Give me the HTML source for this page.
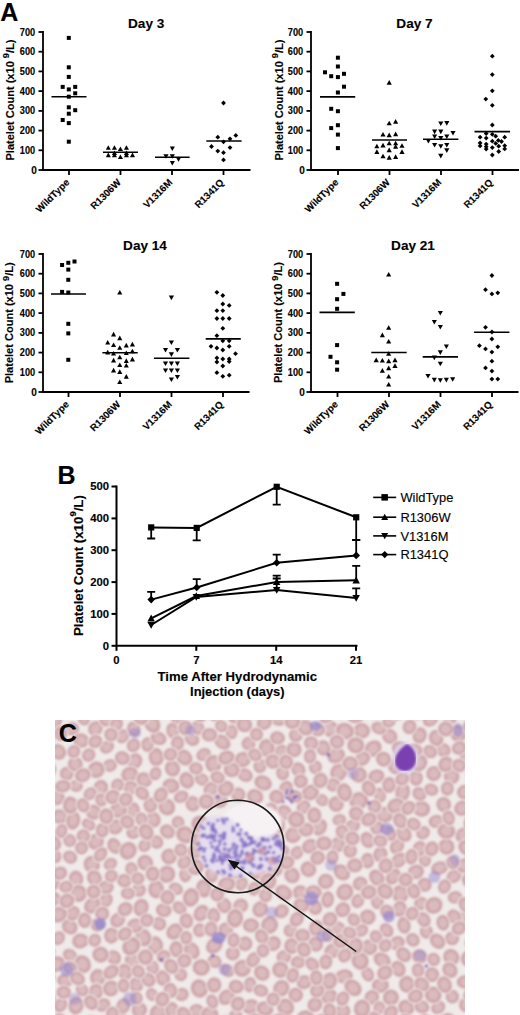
<!DOCTYPE html><html><head><meta charset="utf-8"><style>html,body{margin:0;padding:0;background:#fff;width:520px;height:1015px;overflow:hidden}svg{display:block}</style></head><body>
<svg width="520" height="1015" viewBox="0 0 520 1015" font-family='"Liberation Sans", sans-serif'><style>text{stroke:#000;stroke-width:0.12px;paint-order:stroke}</style>
<rect width="520" height="1015" fill="#fff"/>
<text x="0.3" y="20.8" font-size="25" font-weight="bold">A</text>
<path d="M43 31V170H250.5" fill="none" stroke="#000" stroke-width="1.8"/>
<path d="M38.5 170.0H43" stroke="#000" stroke-width="1.8"/>
<text x="36.8" y="173.6" text-anchor="end" font-size="10" font-weight="bold">0</text>
<path d="M38.5 150.3H43" stroke="#000" stroke-width="1.8"/>
<text x="35.1" y="153.8" text-anchor="end" font-size="10" textLength="15.3" lengthAdjust="spacingAndGlyphs" font-weight="bold">100</text>
<path d="M38.5 130.6H43" stroke="#000" stroke-width="1.8"/>
<text x="35.1" y="134.1" text-anchor="end" font-size="10" textLength="15.3" lengthAdjust="spacingAndGlyphs" font-weight="bold">200</text>
<path d="M38.5 110.9H43" stroke="#000" stroke-width="1.8"/>
<text x="35.1" y="114.4" text-anchor="end" font-size="10" textLength="15.3" lengthAdjust="spacingAndGlyphs" font-weight="bold">300</text>
<path d="M38.5 91.1H43" stroke="#000" stroke-width="1.8"/>
<text x="35.1" y="94.7" text-anchor="end" font-size="10" textLength="15.3" lengthAdjust="spacingAndGlyphs" font-weight="bold">400</text>
<path d="M38.5 71.4H43" stroke="#000" stroke-width="1.8"/>
<text x="35.1" y="75.0" text-anchor="end" font-size="10" textLength="15.3" lengthAdjust="spacingAndGlyphs" font-weight="bold">500</text>
<path d="M38.5 51.7H43" stroke="#000" stroke-width="1.8"/>
<text x="35.1" y="55.3" text-anchor="end" font-size="10" textLength="15.3" lengthAdjust="spacingAndGlyphs" font-weight="bold">600</text>
<path d="M38.5 32.0H43" stroke="#000" stroke-width="1.8"/>
<text x="35.1" y="35.5" text-anchor="end" font-size="10" textLength="15.3" lengthAdjust="spacingAndGlyphs" font-weight="bold">700</text>
<path d="M69 170V175" stroke="#000" stroke-width="1.8"/>
<path d="M120.5 170V175" stroke="#000" stroke-width="1.8"/>
<path d="M172 170V175" stroke="#000" stroke-width="1.8"/>
<path d="M223.5 170V175" stroke="#000" stroke-width="1.8"/>
<text transform="translate(70 183) rotate(-45)" text-anchor="end" font-size="9.8" font-weight="bold">WildType</text>
<text transform="translate(121.5 183) rotate(-45)" text-anchor="end" font-size="9.8" font-weight="bold">R1306W</text>
<text transform="translate(173 183) rotate(-45)" text-anchor="end" font-size="9.8" font-weight="bold">V1316M</text>
<text transform="translate(224.5 183) rotate(-45)" text-anchor="end" font-size="9.8" font-weight="bold">R1341Q</text>
<text transform="translate(13.7 100) rotate(-90)" text-anchor="middle" font-size="10.7" font-weight="bold" textLength="121" lengthAdjust="spacingAndGlyphs">Platelet Count (x10 <tspan dy="-4.6" font-size="9">9</tspan><tspan dy="4.6">/L)</tspan></text>
<text x="146.2" y="28" text-anchor="middle" font-size="13.6" font-weight="bold">Day 3</text>
<rect x="66.8" y="35.9" width="4.0" height="4.0"/>
<rect x="66.8" y="65.3" width="4.0" height="4.0"/>
<rect x="66.8" y="74.9" width="4.0" height="4.0"/>
<rect x="66.8" y="87.4" width="4.0" height="4.0"/>
<rect x="66.8" y="94.7" width="4.0" height="4.0"/>
<rect x="66.8" y="105.3" width="4.0" height="4.0"/>
<rect x="66.8" y="111.7" width="4.0" height="4.0"/>
<rect x="66.8" y="121.1" width="4.0" height="4.0"/>
<rect x="66.8" y="139.7" width="4.0" height="4.0"/>
<rect x="60.7" y="84.9" width="4.0" height="4.0"/>
<rect x="60.7" y="118.0" width="4.0" height="4.0"/>
<rect x="73.2" y="84.9" width="4.0" height="4.0"/>
<rect x="73.2" y="91.3" width="4.0" height="4.0"/>
<rect x="73.2" y="108.2" width="4.0" height="4.0"/>
<path d="M108.3 145.2L110.8 149.8L105.8 149.8Z"/>
<path d="M114.4 145.2L117.0 149.8L111.9 149.8Z"/>
<path d="M120.4 146.4L123.0 151.0L117.9 151.0Z"/>
<path d="M126.4 145.2L129.0 149.8L123.9 149.8Z"/>
<path d="M108.3 152.6L110.8 157.2L105.8 157.2Z"/>
<path d="M114.4 152.6L117.0 157.2L111.9 157.2Z"/>
<path d="M126.4 152.6L129.0 157.2L123.9 157.2Z"/>
<path d="M132.5 152.6L135.1 157.2L129.9 157.2Z"/>
<path d="M120.4 154.4L123.0 159.0L117.9 159.0Z"/>
<path d="M114.4 150.4L117.0 155.0L111.9 155.0Z"/>
<path d="M126.4 150.4L129.0 155.0L123.9 155.0Z"/>
<path d="M172.3 151.1L174.9 146.5L169.8 146.5Z"/>
<path d="M166.0 158.8L168.6 154.2L163.4 154.2Z"/>
<path d="M172.3 158.8L174.9 154.2L169.8 154.2Z"/>
<path d="M178.5 161.8L181.1 157.2L175.9 157.2Z"/>
<path d="M172.3 165.6L174.9 161.0L169.8 161.0Z"/>
<path d="M223.5 100.6L225.9 103.0L223.5 105.4L221.1 103.0Z"/>
<path d="M217.8 134.8L220.2 137.2L217.8 139.6L215.4 137.2Z"/>
<path d="M230.0 136.4L232.4 138.8L230.0 141.2L227.6 138.8Z"/>
<path d="M235.8 133.0L238.2 135.4L235.8 137.8L233.4 135.4Z"/>
<path d="M223.5 139.4L225.9 141.8L223.5 144.2L221.1 141.8Z"/>
<path d="M211.5 144.1L213.9 146.5L211.5 148.9L209.1 146.5Z"/>
<path d="M230.0 145.2L232.4 147.6L230.0 150.0L227.6 147.6Z"/>
<path d="M217.8 148.7L220.2 151.1L217.8 153.5L215.4 151.1Z"/>
<path d="M223.5 150.3L225.9 152.7L223.5 155.1L221.1 152.7Z"/>
<path d="M223.5 157.5L225.9 159.9L223.5 162.3L221.1 159.9Z"/>
<path d="M51.5 96.7H86.5" stroke="#000" stroke-width="1.6"/>
<path d="M103 152.3H138" stroke="#000" stroke-width="1.6"/>
<path d="M155 157.3H189.6" stroke="#000" stroke-width="1.6"/>
<path d="M206.3 141H241.6" stroke="#000" stroke-width="1.6"/>
<path d="M311 31V170H519" fill="none" stroke="#000" stroke-width="1.8"/>
<path d="M306.5 170.0H311" stroke="#000" stroke-width="1.8"/>
<text x="304.8" y="173.6" text-anchor="end" font-size="10" font-weight="bold">0</text>
<path d="M306.5 150.3H311" stroke="#000" stroke-width="1.8"/>
<text x="303.1" y="153.8" text-anchor="end" font-size="10" textLength="15.3" lengthAdjust="spacingAndGlyphs" font-weight="bold">100</text>
<path d="M306.5 130.6H311" stroke="#000" stroke-width="1.8"/>
<text x="303.1" y="134.1" text-anchor="end" font-size="10" textLength="15.3" lengthAdjust="spacingAndGlyphs" font-weight="bold">200</text>
<path d="M306.5 110.9H311" stroke="#000" stroke-width="1.8"/>
<text x="303.1" y="114.4" text-anchor="end" font-size="10" textLength="15.3" lengthAdjust="spacingAndGlyphs" font-weight="bold">300</text>
<path d="M306.5 91.1H311" stroke="#000" stroke-width="1.8"/>
<text x="303.1" y="94.7" text-anchor="end" font-size="10" textLength="15.3" lengthAdjust="spacingAndGlyphs" font-weight="bold">400</text>
<path d="M306.5 71.4H311" stroke="#000" stroke-width="1.8"/>
<text x="303.1" y="75.0" text-anchor="end" font-size="10" textLength="15.3" lengthAdjust="spacingAndGlyphs" font-weight="bold">500</text>
<path d="M306.5 51.7H311" stroke="#000" stroke-width="1.8"/>
<text x="303.1" y="55.3" text-anchor="end" font-size="10" textLength="15.3" lengthAdjust="spacingAndGlyphs" font-weight="bold">600</text>
<path d="M306.5 32.0H311" stroke="#000" stroke-width="1.8"/>
<text x="303.1" y="35.5" text-anchor="end" font-size="10" textLength="15.3" lengthAdjust="spacingAndGlyphs" font-weight="bold">700</text>
<path d="M338 170V175" stroke="#000" stroke-width="1.8"/>
<path d="M389.5 170V175" stroke="#000" stroke-width="1.8"/>
<path d="M441 170V175" stroke="#000" stroke-width="1.8"/>
<path d="M492.5 170V175" stroke="#000" stroke-width="1.8"/>
<text transform="translate(339 183) rotate(-45)" text-anchor="end" font-size="9.8" font-weight="bold">WildType</text>
<text transform="translate(390.5 183) rotate(-45)" text-anchor="end" font-size="9.8" font-weight="bold">R1306W</text>
<text transform="translate(442 183) rotate(-45)" text-anchor="end" font-size="9.8" font-weight="bold">V1316M</text>
<text transform="translate(493.5 183) rotate(-45)" text-anchor="end" font-size="9.8" font-weight="bold">R1341Q</text>
<text transform="translate(282.6 100) rotate(-90)" text-anchor="middle" font-size="10.7" font-weight="bold" textLength="121" lengthAdjust="spacingAndGlyphs">Platelet Count (x10 <tspan dy="-4.6" font-size="9">9</tspan><tspan dy="4.6">/L)</tspan></text>
<text x="414.5" y="28" text-anchor="middle" font-size="13.6" font-weight="bold">Day 7</text>
<rect x="335.9" y="55.7" width="4.0" height="4.0"/>
<rect x="335.9" y="64.5" width="4.0" height="4.0"/>
<rect x="323.0" y="70.3" width="4.0" height="4.0"/>
<rect x="329.2" y="74.2" width="4.0" height="4.0"/>
<rect x="335.9" y="75.1" width="4.0" height="4.0"/>
<rect x="342.0" y="71.8" width="4.0" height="4.0"/>
<rect x="342.0" y="84.7" width="4.0" height="4.0"/>
<rect x="335.9" y="90.5" width="4.0" height="4.0"/>
<rect x="329.2" y="106.8" width="4.0" height="4.0"/>
<rect x="335.9" y="109.2" width="4.0" height="4.0"/>
<rect x="335.9" y="123.2" width="4.0" height="4.0"/>
<rect x="329.2" y="126.1" width="4.0" height="4.0"/>
<rect x="335.9" y="132.6" width="4.0" height="4.0"/>
<rect x="335.9" y="146.1" width="4.0" height="4.0"/>
<path d="M389.2 80.1L391.8 84.7L386.6 84.7Z"/>
<path d="M389.2 120.7L391.8 125.3L386.6 125.3Z"/>
<path d="M395.6 119.1L398.2 123.7L393.1 123.7Z"/>
<path d="M383.0 132.0L385.6 136.6L380.4 136.6Z"/>
<path d="M389.2 132.6L391.8 137.2L386.6 137.2Z"/>
<path d="M395.6 131.6L398.2 136.2L393.1 136.2Z"/>
<path d="M376.9 143.7L379.4 148.3L374.3 148.3Z"/>
<path d="M383.0 142.8L385.6 147.4L380.4 147.4Z"/>
<path d="M389.2 140.7L391.8 145.3L386.6 145.3Z"/>
<path d="M395.6 140.7L398.2 145.3L393.1 145.3Z"/>
<path d="M402.0 143.2L404.6 147.8L399.4 147.8Z"/>
<path d="M376.9 149.3L379.4 153.9L374.3 153.9Z"/>
<path d="M389.2 147.6L391.8 152.2L386.6 152.2Z"/>
<path d="M395.6 144.1L398.2 148.7L393.1 148.7Z"/>
<path d="M402.0 149.3L404.6 153.9L399.4 153.9Z"/>
<path d="M383.0 153.7L385.6 158.3L380.4 158.3Z"/>
<path d="M389.2 155.1L391.8 159.7L386.6 159.7Z"/>
<path d="M395.6 154.3L398.2 158.9L393.1 158.9Z"/>
<path d="M440.8 126.1L443.4 121.5L438.2 121.5Z"/>
<path d="M446.8 125.7L449.4 121.1L444.2 121.1Z"/>
<path d="M434.6 134.2L437.2 129.6L432.1 129.6Z"/>
<path d="M440.8 134.2L443.4 129.6L438.2 129.6Z"/>
<path d="M453.0 135.6L455.6 131.0L450.4 131.0Z"/>
<path d="M434.6 139.1L437.2 134.5L432.1 134.5Z"/>
<path d="M440.8 140.6L443.4 136.0L438.2 136.0Z"/>
<path d="M446.8 139.1L449.4 134.5L444.2 134.5Z"/>
<path d="M428.4 143.5L430.9 138.9L425.8 138.9Z"/>
<path d="M434.6 147.6L437.2 143.0L432.1 143.0Z"/>
<path d="M440.8 148.8L443.4 144.2L438.2 144.2Z"/>
<path d="M446.8 147.6L449.4 143.0L444.2 143.0Z"/>
<path d="M446.8 152.9L449.4 148.3L444.2 148.3Z"/>
<path d="M440.8 158.4L443.4 153.8L438.2 153.8Z"/>
<path d="M492.3 53.8L494.7 56.2L492.3 58.6L489.9 56.2Z"/>
<path d="M492.3 72.2L494.7 74.6L492.3 77.0L489.9 74.6Z"/>
<path d="M492.3 88.4L494.7 90.8L492.3 93.2L489.9 90.8Z"/>
<path d="M485.8 96.7L488.2 99.1L485.8 101.5L483.4 99.1Z"/>
<path d="M492.3 102.9L494.7 105.3L492.3 107.7L489.9 105.3Z"/>
<path d="M492.3 122.6L494.7 125.0L492.3 127.4L489.9 125.0Z"/>
<path d="M486.2 131.1L488.6 133.5L486.2 135.9L483.8 133.5Z"/>
<path d="M492.3 131.9L494.7 134.3L492.3 136.7L489.9 134.3Z"/>
<path d="M480.1 134.8L482.5 137.2L480.1 139.6L477.7 137.2Z"/>
<path d="M486.2 135.7L488.6 138.1L486.2 140.5L483.8 138.1Z"/>
<path d="M495.7 133.8L498.1 136.2L495.7 138.6L493.3 136.2Z"/>
<path d="M504.7 134.8L507.1 137.2L504.7 139.6L502.3 137.2Z"/>
<path d="M492.3 138.8L494.7 141.2L492.3 143.6L489.9 141.2Z"/>
<path d="M498.3 138.0L500.7 140.4L498.3 142.8L495.9 140.4Z"/>
<path d="M501.5 139.1L503.9 141.5L501.5 143.9L499.1 141.5Z"/>
<path d="M480.1 140.6L482.5 143.0L480.1 145.4L477.7 143.0Z"/>
<path d="M480.1 143.5L482.5 145.9L480.1 148.3L477.7 145.9Z"/>
<path d="M486.2 141.7L488.6 144.1L486.2 146.5L483.8 144.1Z"/>
<path d="M486.2 144.3L488.6 146.7L486.2 149.1L483.8 146.7Z"/>
<path d="M486.2 146.7L488.6 149.1L486.2 151.5L483.8 149.1Z"/>
<path d="M495.7 141.0L498.1 143.4L495.7 145.8L493.3 143.4Z"/>
<path d="M492.3 145.2L494.7 147.6L492.3 150.0L489.9 147.6Z"/>
<path d="M498.7 143.8L501.1 146.2L498.7 148.6L496.3 146.2Z"/>
<path d="M504.7 143.3L507.1 145.7L504.7 148.1L502.3 145.7Z"/>
<path d="M504.7 146.5L507.1 148.9L504.7 151.3L502.3 148.9Z"/>
<path d="M498.7 149.1L501.1 151.5L498.7 153.9L496.3 151.5Z"/>
<path d="M492.3 152.6L494.7 155.0L492.3 157.4L489.9 155.0Z"/>
<path d="M320 96.9H355.2" stroke="#000" stroke-width="1.6"/>
<path d="M372 140H407" stroke="#000" stroke-width="1.6"/>
<path d="M423 139.2H458.4" stroke="#000" stroke-width="1.6"/>
<path d="M474.5 131.6H510" stroke="#000" stroke-width="1.6"/>
<path d="M43 253V392H249.5" fill="none" stroke="#000" stroke-width="1.8"/>
<path d="M38.5 392.0H43" stroke="#000" stroke-width="1.8"/>
<text x="36.8" y="395.6" text-anchor="end" font-size="10" font-weight="bold">0</text>
<path d="M38.5 372.3H43" stroke="#000" stroke-width="1.8"/>
<text x="35.1" y="375.8" text-anchor="end" font-size="10" textLength="15.3" lengthAdjust="spacingAndGlyphs" font-weight="bold">100</text>
<path d="M38.5 352.6H43" stroke="#000" stroke-width="1.8"/>
<text x="35.1" y="356.1" text-anchor="end" font-size="10" textLength="15.3" lengthAdjust="spacingAndGlyphs" font-weight="bold">200</text>
<path d="M38.5 332.9H43" stroke="#000" stroke-width="1.8"/>
<text x="35.1" y="336.4" text-anchor="end" font-size="10" textLength="15.3" lengthAdjust="spacingAndGlyphs" font-weight="bold">300</text>
<path d="M38.5 313.1H43" stroke="#000" stroke-width="1.8"/>
<text x="35.1" y="316.7" text-anchor="end" font-size="10" textLength="15.3" lengthAdjust="spacingAndGlyphs" font-weight="bold">400</text>
<path d="M38.5 293.4H43" stroke="#000" stroke-width="1.8"/>
<text x="35.1" y="297.0" text-anchor="end" font-size="10" textLength="15.3" lengthAdjust="spacingAndGlyphs" font-weight="bold">500</text>
<path d="M38.5 273.7H43" stroke="#000" stroke-width="1.8"/>
<text x="35.1" y="277.3" text-anchor="end" font-size="10" textLength="15.3" lengthAdjust="spacingAndGlyphs" font-weight="bold">600</text>
<path d="M38.5 254.0H43" stroke="#000" stroke-width="1.8"/>
<text x="35.1" y="257.6" text-anchor="end" font-size="10" textLength="15.3" lengthAdjust="spacingAndGlyphs" font-weight="bold">700</text>
<path d="M68.5 392V397" stroke="#000" stroke-width="1.8"/>
<path d="M120 392V397" stroke="#000" stroke-width="1.8"/>
<path d="M171.5 392V397" stroke="#000" stroke-width="1.8"/>
<path d="M223 392V397" stroke="#000" stroke-width="1.8"/>
<text transform="translate(69.5 405) rotate(-45)" text-anchor="end" font-size="9.8" font-weight="bold">WildType</text>
<text transform="translate(121 405) rotate(-45)" text-anchor="end" font-size="9.8" font-weight="bold">R1306W</text>
<text transform="translate(172.5 405) rotate(-45)" text-anchor="end" font-size="9.8" font-weight="bold">V1316M</text>
<text transform="translate(224 405) rotate(-45)" text-anchor="end" font-size="9.8" font-weight="bold">R1341Q</text>
<text transform="translate(13.3 322.8) rotate(-90)" text-anchor="middle" font-size="10.7" font-weight="bold" textLength="121" lengthAdjust="spacingAndGlyphs">Platelet Count (x10 <tspan dy="-4.6" font-size="9">9</tspan><tspan dy="4.6">/L)</tspan></text>
<text x="145" y="250" text-anchor="middle" font-size="13.6" font-weight="bold">Day 14</text>
<rect x="72.5" y="259.5" width="4.0" height="4.0"/>
<rect x="66.3" y="260.8" width="4.0" height="4.0"/>
<rect x="60.1" y="263.0" width="4.0" height="4.0"/>
<rect x="66.3" y="267.6" width="4.0" height="4.0"/>
<rect x="66.3" y="277.8" width="4.0" height="4.0"/>
<rect x="60.1" y="289.9" width="4.0" height="4.0"/>
<rect x="66.3" y="290.5" width="4.0" height="4.0"/>
<rect x="66.3" y="321.8" width="4.0" height="4.0"/>
<rect x="66.3" y="331.4" width="4.0" height="4.0"/>
<rect x="66.3" y="357.8" width="4.0" height="4.0"/>
<path d="M119.8 289.9L122.3 294.5L117.2 294.5Z"/>
<path d="M113.6 331.8L116.1 336.4L111.0 336.4Z"/>
<path d="M119.8 335.6L122.3 340.2L117.2 340.2Z"/>
<path d="M107.7 339.9L110.2 344.5L105.2 344.5Z"/>
<path d="M113.6 342.4L116.1 347.0L111.0 347.0Z"/>
<path d="M126.3 342.8L128.8 347.4L123.8 347.4Z"/>
<path d="M132.4 341.8L135.0 346.4L129.8 346.4Z"/>
<path d="M119.8 345.2L122.3 349.8L117.2 349.8Z"/>
<path d="M107.7 349.8L110.2 354.4L105.2 354.4Z"/>
<path d="M113.6 350.9L116.1 355.5L111.0 355.5Z"/>
<path d="M126.3 350.4L128.8 355.0L123.8 355.0Z"/>
<path d="M132.4 348.7L135.0 353.3L129.8 353.3Z"/>
<path d="M113.6 357.8L116.1 362.4L111.0 362.4Z"/>
<path d="M119.8 354.7L122.3 359.3L117.2 359.3Z"/>
<path d="M126.3 358.3L128.8 362.9L123.8 362.9Z"/>
<path d="M132.4 356.8L135.0 361.4L129.8 361.4Z"/>
<path d="M119.8 362.5L122.3 367.1L117.2 367.1Z"/>
<path d="M126.3 362.9L128.8 367.5L123.8 367.5Z"/>
<path d="M113.6 367.8L116.1 372.4L111.0 372.4Z"/>
<path d="M119.8 369.3L122.3 373.9L117.2 373.9Z"/>
<path d="M126.3 374.1L128.8 378.7L123.8 378.7Z"/>
<path d="M119.8 379.4L122.3 384.0L117.2 384.0Z"/>
<path d="M171.4 300.2L174.0 295.6L168.8 295.6Z"/>
<path d="M171.4 345.0L174.0 340.4L168.8 340.4Z"/>
<path d="M165.5 352.6L168.1 348.0L162.9 348.0Z"/>
<path d="M177.4 352.6L180.0 348.0L174.8 348.0Z"/>
<path d="M171.4 356.9L174.0 352.3L168.8 352.3Z"/>
<path d="M165.5 366.0L168.1 361.4L162.9 361.4Z"/>
<path d="M171.4 366.0L174.0 361.4L168.8 361.4Z"/>
<path d="M177.4 366.0L180.0 361.4L174.8 361.4Z"/>
<path d="M165.5 373.1L168.1 368.5L162.9 368.5Z"/>
<path d="M171.4 373.1L174.0 368.5L168.8 368.5Z"/>
<path d="M177.4 373.1L180.0 368.5L174.8 368.5Z"/>
<path d="M177.4 379.6L180.0 375.0L174.8 375.0Z"/>
<path d="M171.4 382.1L174.0 377.5L168.8 377.5Z"/>
<path d="M216.9 289.9L219.3 292.3L216.9 294.7L214.5 292.3Z"/>
<path d="M222.8 293.1L225.2 295.5L222.8 297.9L220.4 295.5Z"/>
<path d="M222.8 301.6L225.2 304.0L222.8 306.4L220.4 304.0Z"/>
<path d="M229.2 303.0L231.6 305.4L229.2 307.8L226.8 305.4Z"/>
<path d="M216.9 308.3L219.3 310.7L216.9 313.1L214.5 310.7Z"/>
<path d="M222.8 308.3L225.2 310.7L222.8 313.1L220.4 310.7Z"/>
<path d="M216.9 316.1L219.3 318.5L216.9 320.9L214.5 318.5Z"/>
<path d="M222.8 316.1L225.2 318.5L222.8 320.9L220.4 318.5Z"/>
<path d="M229.2 316.1L231.6 318.5L229.2 320.9L226.8 318.5Z"/>
<path d="M222.8 325.9L225.2 328.3L222.8 330.7L220.4 328.3Z"/>
<path d="M216.9 333.3L219.3 335.7L216.9 338.1L214.5 335.7Z"/>
<path d="M222.8 338.4L225.2 340.8L222.8 343.2L220.4 340.8Z"/>
<path d="M229.2 338.4L231.6 340.8L229.2 343.2L226.8 340.8Z"/>
<path d="M211.0 343.9L213.4 346.3L211.0 348.7L208.6 346.3Z"/>
<path d="M216.9 345.6L219.3 348.0L216.9 350.4L214.5 348.0Z"/>
<path d="M222.8 347.6L225.2 350.0L222.8 352.4L220.4 350.0Z"/>
<path d="M229.2 343.9L231.6 346.3L229.2 348.7L226.8 346.3Z"/>
<path d="M235.5 351.3L237.9 353.7L235.5 356.1L233.1 353.7Z"/>
<path d="M216.9 355.5L219.3 357.9L216.9 360.3L214.5 357.9Z"/>
<path d="M222.8 356.6L225.2 359.0L222.8 361.4L220.4 359.0Z"/>
<path d="M229.2 356.6L231.6 359.0L229.2 361.4L226.8 359.0Z"/>
<path d="M229.2 359.1L231.6 361.5L229.2 363.9L226.8 361.5Z"/>
<path d="M216.9 359.6L219.3 362.0L216.9 364.4L214.5 362.0Z"/>
<path d="M222.8 363.6L225.2 366.0L222.8 368.4L220.4 366.0Z"/>
<path d="M216.9 370.3L219.3 372.7L216.9 375.1L214.5 372.7Z"/>
<path d="M222.8 373.9L225.2 376.3L222.8 378.7L220.4 376.3Z"/>
<path d="M229.2 372.8L231.6 375.2L229.2 377.6L226.8 375.2Z"/>
<path d="M51 294H86" stroke="#000" stroke-width="1.6"/>
<path d="M102.4 352.8H137.7" stroke="#000" stroke-width="1.6"/>
<path d="M153.9 358.3H189.4" stroke="#000" stroke-width="1.6"/>
<path d="M205.7 338.9H240.8" stroke="#000" stroke-width="1.6"/>
<path d="M311 253V392H518.5" fill="none" stroke="#000" stroke-width="1.8"/>
<path d="M306.5 392.0H311" stroke="#000" stroke-width="1.8"/>
<text x="304.8" y="395.6" text-anchor="end" font-size="10" font-weight="bold">0</text>
<path d="M306.5 372.3H311" stroke="#000" stroke-width="1.8"/>
<text x="303.1" y="375.8" text-anchor="end" font-size="10" textLength="15.3" lengthAdjust="spacingAndGlyphs" font-weight="bold">100</text>
<path d="M306.5 352.6H311" stroke="#000" stroke-width="1.8"/>
<text x="303.1" y="356.1" text-anchor="end" font-size="10" textLength="15.3" lengthAdjust="spacingAndGlyphs" font-weight="bold">200</text>
<path d="M306.5 332.9H311" stroke="#000" stroke-width="1.8"/>
<text x="303.1" y="336.4" text-anchor="end" font-size="10" textLength="15.3" lengthAdjust="spacingAndGlyphs" font-weight="bold">300</text>
<path d="M306.5 313.1H311" stroke="#000" stroke-width="1.8"/>
<text x="303.1" y="316.7" text-anchor="end" font-size="10" textLength="15.3" lengthAdjust="spacingAndGlyphs" font-weight="bold">400</text>
<path d="M306.5 293.4H311" stroke="#000" stroke-width="1.8"/>
<text x="303.1" y="297.0" text-anchor="end" font-size="10" textLength="15.3" lengthAdjust="spacingAndGlyphs" font-weight="bold">500</text>
<path d="M306.5 273.7H311" stroke="#000" stroke-width="1.8"/>
<text x="303.1" y="277.3" text-anchor="end" font-size="10" textLength="15.3" lengthAdjust="spacingAndGlyphs" font-weight="bold">600</text>
<path d="M306.5 254.0H311" stroke="#000" stroke-width="1.8"/>
<text x="303.1" y="257.6" text-anchor="end" font-size="10" textLength="15.3" lengthAdjust="spacingAndGlyphs" font-weight="bold">700</text>
<path d="M337.5 392V397" stroke="#000" stroke-width="1.8"/>
<path d="M389 392V397" stroke="#000" stroke-width="1.8"/>
<path d="M440.5 392V397" stroke="#000" stroke-width="1.8"/>
<path d="M492 392V397" stroke="#000" stroke-width="1.8"/>
<text transform="translate(338.5 405) rotate(-45)" text-anchor="end" font-size="9.8" font-weight="bold">WildType</text>
<text transform="translate(390 405) rotate(-45)" text-anchor="end" font-size="9.8" font-weight="bold">R1306W</text>
<text transform="translate(441.5 405) rotate(-45)" text-anchor="end" font-size="9.8" font-weight="bold">V1316M</text>
<text transform="translate(493 405) rotate(-45)" text-anchor="end" font-size="9.8" font-weight="bold">R1341Q</text>
<text transform="translate(282.3 322.5) rotate(-90)" text-anchor="middle" font-size="10.7" font-weight="bold" textLength="121" lengthAdjust="spacingAndGlyphs">Platelet Count (x10 <tspan dy="-4.6" font-size="9">9</tspan><tspan dy="4.6">/L)</tspan></text>
<text x="413" y="250" text-anchor="middle" font-size="13.6" font-weight="bold">Day 21</text>
<rect x="335.1" y="281.8" width="4.0" height="4.0"/>
<rect x="341.4" y="291.9" width="4.0" height="4.0"/>
<rect x="335.1" y="297.2" width="4.0" height="4.0"/>
<rect x="335.1" y="306.8" width="4.0" height="4.0"/>
<rect x="335.1" y="343.1" width="4.0" height="4.0"/>
<rect x="328.5" y="354.8" width="4.0" height="4.0"/>
<rect x="335.1" y="360.3" width="4.0" height="4.0"/>
<rect x="335.1" y="367.7" width="4.0" height="4.0"/>
<path d="M388.7 271.9L391.2 276.5L386.1 276.5Z"/>
<path d="M388.7 325.2L391.2 329.8L386.1 329.8Z"/>
<path d="M382.4 332.6L384.9 337.2L379.8 337.2Z"/>
<path d="M388.7 338.9L391.2 343.5L386.1 343.5Z"/>
<path d="M388.7 351.2L391.2 355.8L386.1 355.8Z"/>
<path d="M376.2 357.6L378.8 362.2L373.6 362.2Z"/>
<path d="M382.4 358.0L384.9 362.6L379.8 362.6Z"/>
<path d="M388.7 358.6L391.2 363.2L386.1 363.2Z"/>
<path d="M395.0 357.6L397.6 362.2L392.4 362.2Z"/>
<path d="M395.0 363.3L397.6 367.9L392.4 367.9Z"/>
<path d="M382.4 368.1L384.9 372.7L379.8 372.7Z"/>
<path d="M388.7 365.6L391.2 370.2L386.1 370.2Z"/>
<path d="M388.7 373.9L391.2 378.5L386.1 378.5Z"/>
<path d="M388.7 381.9L391.2 386.5L386.1 386.5Z"/>
<path d="M440.3 315.5L442.9 310.9L437.8 310.9Z"/>
<path d="M434.3 324.6L436.9 320.0L431.8 320.0Z"/>
<path d="M440.3 329.5L442.9 324.9L437.8 324.9Z"/>
<path d="M446.4 349.0L448.9 344.4L443.8 344.4Z"/>
<path d="M440.3 354.9L442.9 350.3L437.8 350.3Z"/>
<path d="M434.3 360.2L436.9 355.6L431.8 355.6Z"/>
<path d="M440.3 366.3L442.9 361.7L437.8 361.7Z"/>
<path d="M428.0 378.6L430.6 374.0L425.4 374.0Z"/>
<path d="M434.3 382.4L436.9 377.8L431.8 377.8Z"/>
<path d="M440.3 382.8L442.9 378.2L437.8 378.2Z"/>
<path d="M446.4 382.4L448.9 377.8L443.8 377.8Z"/>
<path d="M452.7 381.8L455.2 377.2L450.1 377.2Z"/>
<path d="M491.9 273.1L494.3 275.5L491.9 277.9L489.5 275.5Z"/>
<path d="M485.5 287.3L487.9 289.7L485.5 292.1L483.1 289.7Z"/>
<path d="M491.9 291.5L494.3 293.9L491.9 296.3L489.5 293.9Z"/>
<path d="M497.8 290.4L500.2 292.8L497.8 295.2L495.4 292.8Z"/>
<path d="M485.5 324.9L487.9 327.3L485.5 329.7L483.1 327.3Z"/>
<path d="M491.9 329.6L494.3 332.0L491.9 334.4L489.5 332.0Z"/>
<path d="M491.9 336.6L494.3 339.0L491.9 341.4L489.5 339.0Z"/>
<path d="M479.4 343.3L481.8 345.7L479.4 348.1L477.0 345.7Z"/>
<path d="M485.5 346.5L487.9 348.9L485.5 351.3L483.1 348.9Z"/>
<path d="M497.8 344.4L500.2 346.8L497.8 349.2L495.4 346.8Z"/>
<path d="M491.9 349.7L494.3 352.1L491.9 354.5L489.5 352.1Z"/>
<path d="M491.9 358.8L494.3 361.2L491.9 363.6L489.5 361.2Z"/>
<path d="M485.5 365.5L487.9 367.9L485.5 370.3L483.1 367.9Z"/>
<path d="M491.9 368.7L494.3 371.1L491.9 373.5L489.5 371.1Z"/>
<path d="M491.9 376.7L494.3 379.1L491.9 381.5L489.5 379.1Z"/>
<path d="M497.8 376.7L500.2 379.1L497.8 381.5L495.4 379.1Z"/>
<path d="M319.5 312.4H354.8" stroke="#000" stroke-width="1.6"/>
<path d="M371.3 352.5H406.7" stroke="#000" stroke-width="1.6"/>
<path d="M422.7 356.9H458" stroke="#000" stroke-width="1.6"/>
<path d="M474.1 332.2H509.4" stroke="#000" stroke-width="1.6"/>
<text x="57.4" y="483.5" font-size="25" font-weight="bold">B</text>
<path d="M116.5 485.5V645.8H357.5" fill="none" stroke="#000" stroke-width="2"/>
<path d="M111.5 645.8H116.5" stroke="#000" stroke-width="2"/>
<text x="109.0" y="649.7" text-anchor="end" font-size="11.3" font-weight="bold">0</text>
<path d="M111.5 613.9H116.5" stroke="#000" stroke-width="2"/>
<text x="109.0" y="617.8" text-anchor="end" font-size="11.3" font-weight="bold">100</text>
<path d="M111.5 582.1H116.5" stroke="#000" stroke-width="2"/>
<text x="109.0" y="586.0" text-anchor="end" font-size="11.3" font-weight="bold">200</text>
<path d="M111.5 550.2H116.5" stroke="#000" stroke-width="2"/>
<text x="109.0" y="554.1" text-anchor="end" font-size="11.3" font-weight="bold">300</text>
<path d="M111.5 518.4H116.5" stroke="#000" stroke-width="2"/>
<text x="109.0" y="522.3" text-anchor="end" font-size="11.3" font-weight="bold">400</text>
<path d="M111.5 486.5H116.5" stroke="#000" stroke-width="2"/>
<text x="109.0" y="490.4" text-anchor="end" font-size="11.3" font-weight="bold">500</text>
<path d="M116.5 645.8V650.8" stroke="#000" stroke-width="2"/>
<text x="116.5" y="663.6" text-anchor="middle" font-size="11.3" font-weight="bold">0</text>
<path d="M196.3 645.8V650.8" stroke="#000" stroke-width="2"/>
<text x="196.3" y="663.6" text-anchor="middle" font-size="11.3" font-weight="bold">7</text>
<path d="M276.2 645.8V650.8" stroke="#000" stroke-width="2"/>
<text x="276.2" y="663.6" text-anchor="middle" font-size="11.3" font-weight="bold">14</text>
<path d="M356.0 645.8V650.8" stroke="#000" stroke-width="2"/>
<text x="356.0" y="663.6" text-anchor="middle" font-size="11.3" font-weight="bold">21</text>
<text transform="translate(82.9 565.6) rotate(-90)" text-anchor="middle" font-size="12.6" font-weight="bold" textLength="141" lengthAdjust="spacingAndGlyphs">Platelet Count (x10<tspan dy="-6.9" font-size="9">9</tspan><tspan dy="6.9">/L)</tspan></text>
<text x="237.3" y="680.5" text-anchor="middle" font-size="12.3" font-weight="bold" textLength="159.5" lengthAdjust="spacingAndGlyphs">Time After Hydrodynamic</text>
<text x="237.3" y="696.3" text-anchor="middle" font-size="12.3" font-weight="bold" textLength="94.5" lengthAdjust="spacingAndGlyphs">Injection (days)</text>
<path d="M151.2 527.4L196.7 527.9L276.7 486.8L356.2 517.3" fill="none" stroke="#000" stroke-width="2"/>
<path d="M151.2 618.3L196.3 596L276.7 582L356.2 580.3" fill="none" stroke="#000" stroke-width="2"/>
<path d="M151.2 625L196.3 597L276.7 590L356.2 598.1" fill="none" stroke="#000" stroke-width="2"/>
<path d="M151.2 599.6L196.7 587.5L276.7 562.8L356.2 555.4" fill="none" stroke="#000" stroke-width="2"/>
<path d="M151.2 527.4V538.5M147.2 538.5H155.2" fill="none" stroke="#000" stroke-width="1.8"/>
<path d="M196.7 527.9V540.4M192.7 540.4H200.7" fill="none" stroke="#000" stroke-width="1.8"/>
<path d="M276.7 486.8V504.6M272.7 504.6H280.7" fill="none" stroke="#000" stroke-width="1.8"/>
<path d="M356.2 517.3V539.9M352.2 539.9H360.2" fill="none" stroke="#000" stroke-width="1.8"/>
<path d="M151.2 599.6V591.9M147.2 591.9H155.2" fill="none" stroke="#000" stroke-width="1.8"/>
<path d="M196.7 587.5V579.2M192.7 579.2H200.7" fill="none" stroke="#000" stroke-width="1.8"/>
<path d="M276.7 562.8V554.7M272.7 554.7H280.7" fill="none" stroke="#000" stroke-width="1.8"/>
<path d="M276.7 582V575.7M272.7 575.7H280.7" fill="none" stroke="#000" stroke-width="1.8"/>
<path d="M356.2 580.3V565.8M352.2 565.8H360.2" fill="none" stroke="#000" stroke-width="1.8"/>
<path d="M356.2 598.1V588.4M352.2 588.4H360.2" fill="none" stroke="#000" stroke-width="1.8"/>
<path d="M276.7 590V578.5M272.7 578.5H280.7" fill="none" stroke="#000" stroke-width="1.8"/>
<path d="M356.2 555.4V540M352.2 540H360.2" fill="none" stroke="#000" stroke-width="1.8"/>
<rect x="148.1" y="524.3" width="6.2" height="6.2"/>
<rect x="193.6" y="524.8" width="6.2" height="6.2"/>
<rect x="273.6" y="483.7" width="6.2" height="6.2"/>
<rect x="353.1" y="514.2" width="6.2" height="6.2"/>
<path d="M151.2 614.6L154.9 621.4L147.4 621.4Z"/>
<path d="M196.3 592.3L200.1 599.1L192.6 599.1Z"/>
<path d="M276.7 578.3L280.4 585.1L272.9 585.1Z"/>
<path d="M356.2 576.6L359.9 583.4L352.4 583.4Z"/>
<path d="M151.2 628.7L154.9 621.9L147.4 621.9Z"/>
<path d="M196.3 600.7L200.1 593.9L192.6 593.9Z"/>
<path d="M276.7 593.7L280.4 586.9L272.9 586.9Z"/>
<path d="M356.2 601.8L359.9 595.0L352.4 595.0Z"/>
<path d="M151.2 595.8L155.0 599.6L151.2 603.4L147.4 599.6Z"/>
<path d="M196.7 583.7L200.5 587.5L196.7 591.3L192.9 587.5Z"/>
<path d="M276.7 559.0L280.5 562.8L276.7 566.6L272.9 562.8Z"/>
<path d="M356.2 551.6L360.0 555.4L356.2 559.2L352.4 555.4Z"/>
<path d="M373.2 497.4H396.2" stroke="#000" stroke-width="1.6"/>
<rect x="381.4" y="494.1" width="6.5" height="6.5"/>
<text x="400.4" y="502.0" font-size="12.9">WildType</text>
<path d="M373.2 517.2H396.2" stroke="#000" stroke-width="1.6"/>
<path d="M384.7 513.8L388.2 520.1L381.2 520.1Z"/>
<text x="400.4" y="521.8" font-size="12.9">R1306W</text>
<path d="M373.2 535.9H396.2" stroke="#000" stroke-width="1.6"/>
<path d="M384.7 539.3L388.2 533.0L381.2 533.0Z"/>
<text x="400.4" y="540.5" font-size="12.9">V1316M</text>
<path d="M373.2 554.6H396.2" stroke="#000" stroke-width="1.6"/>
<path d="M384.7 551.0L388.3 554.6L384.7 558.2L381.1 554.6Z"/>
<text x="400.4" y="559.2" font-size="12.9">R1341Q</text>
<defs><clipPath id="mc"><rect x="55" y="720" width="410" height="295"/></clipPath><filter id="bl" x="0" y="0" width="1" height="1"><feGaussianBlur stdDeviation="0.9"/></filter><filter id="bl2"><feGaussianBlur stdDeviation="1.6"/></filter></defs>
<g clip-path="url(#mc)"><g filter="url(#bl)"><rect x="50" y="715" width="420" height="305" fill="#f0ebea"/>
<g transform="translate(184.2 757.5) rotate(41)"><ellipse rx="9.6" ry="8.1" fill="#d0a8ad" stroke="#ede5e4" stroke-width="1.3"/><ellipse rx="5.3" ry="4.5" fill="#dabbbe"/></g>
<g transform="translate(76.1 878.8) rotate(77)"><ellipse rx="8.9" ry="7.9" fill="#d0a8ad" stroke="#ede5e4" stroke-width="1.3"/><ellipse rx="4.9" ry="4.4" fill="#dabbbe"/></g>
<g transform="translate(231.5 732.0) rotate(86)"><ellipse rx="8.0" ry="6.7" fill="#d0a8ad" stroke="#ede5e4" stroke-width="1.3"/><ellipse rx="4.4" ry="3.7" fill="#dabbbe"/></g>
<g transform="translate(227.5 970.5) rotate(45)"><ellipse rx="7.9" ry="6.8" fill="#d0a8ad" stroke="#ede5e4" stroke-width="1.3"/><ellipse rx="4.4" ry="3.8" fill="#dabbbe"/></g>
<g transform="translate(141.0 907.6) rotate(110)"><ellipse rx="9.6" ry="8.2" fill="#d0a8ad" stroke="#ede5e4" stroke-width="1.3"/><ellipse rx="5.3" ry="4.5" fill="#dabbbe"/></g>
<g transform="translate(293.2 835.0) rotate(139)"><ellipse rx="9.2" ry="8.5" fill="#d0a8ad" stroke="#ede5e4" stroke-width="1.3"/><ellipse rx="5.1" ry="4.7" fill="#dabbbe"/></g>
<g transform="translate(65.0 980.4) rotate(7)"><ellipse rx="8.7" ry="7.2" fill="#d0a8ad" stroke="#ede5e4" stroke-width="1.3"/><ellipse rx="4.8" ry="3.9" fill="#dabbbe"/></g>
<g transform="translate(107.0 747.1) rotate(149)"><ellipse rx="8.1" ry="6.8" fill="#d0a8ad" stroke="#ede5e4" stroke-width="1.3"/><ellipse rx="4.4" ry="3.8" fill="#dabbbe"/></g>
<g transform="translate(395.9 766.9) rotate(21)"><ellipse rx="8.6" ry="8.0" fill="#d0a8ad" stroke="#ede5e4" stroke-width="1.3"/><ellipse rx="4.7" ry="4.4" fill="#dabbbe"/></g>
<g transform="translate(319.7 827.3) rotate(119)"><ellipse rx="9.4" ry="7.6" fill="#d0a8ad" stroke="#ede5e4" stroke-width="1.3"/><ellipse rx="5.2" ry="4.2" fill="#dabbbe"/></g>
<g transform="translate(72.0 728.8) rotate(166)"><ellipse rx="7.9" ry="7.1" fill="#d0a8ad" stroke="#ede5e4" stroke-width="1.3"/><ellipse rx="4.3" ry="3.9" fill="#dabbbe"/></g>
<g transform="translate(337.6 844.7) rotate(115)"><ellipse rx="8.6" ry="8.0" fill="#d0a8ad" stroke="#ede5e4" stroke-width="1.3"/><ellipse rx="4.7" ry="4.4" fill="#dabbbe"/></g>
<g transform="translate(296.8 852.8) rotate(124)"><ellipse rx="7.7" ry="6.8" fill="#d0a8ad" stroke="#ede5e4" stroke-width="1.3"/><ellipse rx="4.2" ry="3.8" fill="#dabbbe"/></g>
<g transform="translate(386.6 930.2) rotate(48)"><ellipse rx="8.3" ry="6.9" fill="#d0a8ad" stroke="#ede5e4" stroke-width="1.3"/><ellipse rx="4.5" ry="3.8" fill="#dabbbe"/></g>
<g transform="translate(292.0 875.4) rotate(53)"><ellipse rx="8.8" ry="8.2" fill="#d0a8ad" stroke="#ede5e4" stroke-width="1.3"/><ellipse rx="4.9" ry="4.5" fill="#dabbbe"/></g>
<g transform="translate(358.7 800.7) rotate(160)"><ellipse rx="10.3" ry="9.3" fill="#d0a8ad" stroke="#ede5e4" stroke-width="1.3"/><ellipse rx="5.7" ry="5.1" fill="#dabbbe"/></g>
<g transform="translate(95.8 841.7) rotate(140)"><ellipse rx="9.1" ry="8.5" fill="#d0a8ad" stroke="#ede5e4" stroke-width="1.3"/><ellipse rx="5.0" ry="4.6" fill="#dabbbe"/></g>
<g transform="translate(110.4 864.0) rotate(149)"><ellipse rx="7.7" ry="6.4" fill="#d0a8ad" stroke="#ede5e4" stroke-width="1.3"/><ellipse rx="4.2" ry="3.5" fill="#dabbbe"/></g>
<g transform="translate(332.3 950.8) rotate(138)"><ellipse rx="9.4" ry="7.7" fill="#d0a8ad" stroke="#ede5e4" stroke-width="1.3"/><ellipse rx="5.2" ry="4.2" fill="#dabbbe"/></g>
<g transform="translate(421.5 808.8) rotate(10)"><ellipse rx="9.5" ry="8.6" fill="#d0a8ad" stroke="#ede5e4" stroke-width="1.3"/><ellipse rx="5.2" ry="4.7" fill="#dabbbe"/></g>
<g transform="translate(300.6 892.7) rotate(26)"><ellipse rx="8.5" ry="8.1" fill="#d0a8ad" stroke="#ede5e4" stroke-width="1.3"/><ellipse rx="4.7" ry="4.5" fill="#dabbbe"/></g>
<g transform="translate(406.2 1007.6) rotate(36)"><ellipse rx="9.0" ry="8.2" fill="#d0a8ad" stroke="#ede5e4" stroke-width="1.3"/><ellipse rx="4.9" ry="4.5" fill="#dabbbe"/></g>
<g transform="translate(330.6 729.1) rotate(63)"><ellipse rx="8.7" ry="8.6" fill="#d0a8ad" stroke="#ede5e4" stroke-width="1.3"/><ellipse rx="4.8" ry="4.7" fill="#dabbbe"/></g>
<g transform="translate(323.3 1022.8) rotate(61)"><ellipse rx="10.0" ry="8.4" fill="#d0a8ad" stroke="#ede5e4" stroke-width="1.3"/><ellipse rx="5.5" ry="4.6" fill="#dabbbe"/></g>
<g transform="translate(167.4 831.5) rotate(39)"><ellipse rx="8.5" ry="7.5" fill="#d0a8ad" stroke="#ede5e4" stroke-width="1.3"/><ellipse rx="4.7" ry="4.1" fill="#dabbbe"/></g>
<g transform="translate(54.7 855.4) rotate(62)"><ellipse rx="8.6" ry="6.7" fill="#d0a8ad" stroke="#ede5e4" stroke-width="1.3"/><ellipse rx="4.7" ry="3.7" fill="#dabbbe"/></g>
<g transform="translate(95.4 728.6) rotate(124)"><ellipse rx="8.5" ry="7.8" fill="#d0a8ad" stroke="#ede5e4" stroke-width="1.3"/><ellipse rx="4.7" ry="4.3" fill="#dabbbe"/></g>
<g transform="translate(100.6 788.0) rotate(115)"><ellipse rx="9.0" ry="8.0" fill="#d0a8ad" stroke="#ede5e4" stroke-width="1.3"/><ellipse rx="5.0" ry="4.4" fill="#dabbbe"/></g>
<g transform="translate(419.7 735.4) rotate(106)"><ellipse rx="8.9" ry="7.7" fill="#d0a8ad" stroke="#ede5e4" stroke-width="1.3"/><ellipse rx="4.9" ry="4.2" fill="#dabbbe"/></g>
<g transform="translate(281.3 988.3) rotate(133)"><ellipse rx="9.2" ry="8.5" fill="#d0a8ad" stroke="#ede5e4" stroke-width="1.3"/><ellipse rx="5.1" ry="4.7" fill="#dabbbe"/></g>
<g transform="translate(199.3 988.5) rotate(66)"><ellipse rx="10.0" ry="9.1" fill="#d0a8ad" stroke="#ede5e4" stroke-width="1.3"/><ellipse rx="5.5" ry="5.0" fill="#dabbbe"/></g>
<g transform="translate(109.9 765.5) rotate(170)"><ellipse rx="7.7" ry="7.0" fill="#d0a8ad" stroke="#ede5e4" stroke-width="1.3"/><ellipse rx="4.2" ry="3.9" fill="#dabbbe"/></g>
<g transform="translate(145.3 862.8) rotate(51)"><ellipse rx="8.8" ry="8.4" fill="#d0a8ad" stroke="#ede5e4" stroke-width="1.3"/><ellipse rx="4.8" ry="4.6" fill="#dabbbe"/></g>
<g transform="translate(158.0 711.3) rotate(135)"><ellipse rx="8.0" ry="7.7" fill="#d0a8ad" stroke="#ede5e4" stroke-width="1.3"/><ellipse rx="4.4" ry="4.3" fill="#dabbbe"/></g>
<g transform="translate(203.8 888.4) rotate(77)"><ellipse rx="9.8" ry="8.2" fill="#d0a8ad" stroke="#ede5e4" stroke-width="1.3"/><ellipse rx="5.4" ry="4.5" fill="#dabbbe"/></g>
<g transform="translate(341.9 872.4) rotate(41)"><ellipse rx="9.6" ry="8.0" fill="#d0a8ad" stroke="#ede5e4" stroke-width="1.3"/><ellipse rx="5.3" ry="4.4" fill="#dabbbe"/></g>
<g transform="translate(380.4 985.5) rotate(174)"><ellipse rx="9.2" ry="7.9" fill="#d0a8ad" stroke="#ede5e4" stroke-width="1.3"/><ellipse rx="5.1" ry="4.4" fill="#dabbbe"/></g>
<g transform="translate(213.7 835.7) rotate(118)"><ellipse rx="7.5" ry="6.5" fill="#d0a8ad" stroke="#ede5e4" stroke-width="1.3"/><ellipse rx="4.1" ry="3.6" fill="#dabbbe"/></g>
<g transform="translate(317.7 729.6) rotate(11)"><ellipse rx="8.4" ry="7.3" fill="#d0a8ad" stroke="#ede5e4" stroke-width="1.3"/><ellipse rx="4.6" ry="4.0" fill="#dabbbe"/></g>
<g transform="translate(134.8 761.1) rotate(125)"><ellipse rx="8.8" ry="8.0" fill="#d0a8ad" stroke="#ede5e4" stroke-width="1.3"/><ellipse rx="4.9" ry="4.4" fill="#dabbbe"/></g>
<g transform="translate(67.6 710.1) rotate(116)"><ellipse rx="8.2" ry="6.6" fill="#d0a8ad" stroke="#ede5e4" stroke-width="1.3"/><ellipse rx="4.5" ry="3.6" fill="#dabbbe"/></g>
<g transform="translate(88.6 824.5) rotate(35)"><ellipse rx="7.8" ry="6.4" fill="#d0a8ad" stroke="#ede5e4" stroke-width="1.3"/><ellipse rx="4.3" ry="3.5" fill="#dabbbe"/></g>
<g transform="translate(421.0 903.4) rotate(175)"><ellipse rx="7.6" ry="7.2" fill="#d0a8ad" stroke="#ede5e4" stroke-width="1.3"/><ellipse rx="4.2" ry="3.9" fill="#dabbbe"/></g>
<g transform="translate(153.5 819.4) rotate(69)"><ellipse rx="8.8" ry="7.7" fill="#d0a8ad" stroke="#ede5e4" stroke-width="1.3"/><ellipse rx="4.9" ry="4.2" fill="#dabbbe"/></g>
<g transform="translate(97.8 977.4) rotate(102)"><ellipse rx="9.0" ry="8.5" fill="#d0a8ad" stroke="#ede5e4" stroke-width="1.3"/><ellipse rx="4.9" ry="4.7" fill="#dabbbe"/></g>
<g transform="translate(245.4 862.4) rotate(35)"><ellipse rx="7.6" ry="7.1" fill="#d0a8ad" stroke="#ede5e4" stroke-width="1.3"/><ellipse rx="4.2" ry="3.9" fill="#dabbbe"/></g>
<g transform="translate(453.9 876.4) rotate(150)"><ellipse rx="8.4" ry="7.1" fill="#d0a8ad" stroke="#ede5e4" stroke-width="1.3"/><ellipse rx="4.6" ry="3.9" fill="#dabbbe"/></g>
<g transform="translate(278.6 718.5) rotate(17)"><ellipse rx="9.1" ry="8.0" fill="#d0a8ad" stroke="#ede5e4" stroke-width="1.3"/><ellipse rx="5.0" ry="4.4" fill="#dabbbe"/></g>
<g transform="translate(465.8 981.9) rotate(177)"><ellipse rx="9.8" ry="7.5" fill="#d0a8ad" stroke="#ede5e4" stroke-width="1.3"/><ellipse rx="5.4" ry="4.1" fill="#dabbbe"/></g>
<g transform="translate(376.9 877.8) rotate(52)"><ellipse rx="9.5" ry="7.8" fill="#d0a8ad" stroke="#ede5e4" stroke-width="1.3"/><ellipse rx="5.2" ry="4.3" fill="#dabbbe"/></g>
<g transform="translate(186.8 780.3) rotate(66)"><ellipse rx="9.2" ry="7.9" fill="#d0a8ad" stroke="#ede5e4" stroke-width="1.3"/><ellipse rx="5.1" ry="4.4" fill="#dabbbe"/></g>
<g transform="translate(396.9 943.1) rotate(151)"><ellipse rx="8.8" ry="7.4" fill="#d0a8ad" stroke="#ede5e4" stroke-width="1.3"/><ellipse rx="4.8" ry="4.0" fill="#dabbbe"/></g>
<g transform="translate(57.0 798.0) rotate(152)"><ellipse rx="8.4" ry="7.8" fill="#d0a8ad" stroke="#ede5e4" stroke-width="1.3"/><ellipse rx="4.6" ry="4.3" fill="#dabbbe"/></g>
<g transform="translate(342.8 1011.3) rotate(160)"><ellipse rx="8.3" ry="8.0" fill="#d0a8ad" stroke="#ede5e4" stroke-width="1.3"/><ellipse rx="4.6" ry="4.4" fill="#dabbbe"/></g>
<g transform="translate(447.9 1021.2) rotate(129)"><ellipse rx="9.0" ry="8.9" fill="#d0a8ad" stroke="#ede5e4" stroke-width="1.3"/><ellipse rx="4.9" ry="4.9" fill="#dabbbe"/></g>
<g transform="translate(201.8 779.4) rotate(27)"><ellipse rx="7.9" ry="6.7" fill="#d0a8ad" stroke="#ede5e4" stroke-width="1.3"/><ellipse rx="4.3" ry="3.7" fill="#dabbbe"/></g>
<g transform="translate(129.6 774.4) rotate(159)"><ellipse rx="9.2" ry="8.2" fill="#d0a8ad" stroke="#ede5e4" stroke-width="1.3"/><ellipse rx="5.0" ry="4.5" fill="#dabbbe"/></g>
<g transform="translate(432.1 974.7) rotate(73)"><ellipse rx="8.1" ry="7.9" fill="#d0a8ad" stroke="#ede5e4" stroke-width="1.3"/><ellipse rx="4.5" ry="4.3" fill="#dabbbe"/></g>
<g transform="translate(325.8 961.9) rotate(104)"><ellipse rx="8.3" ry="7.2" fill="#d0a8ad" stroke="#ede5e4" stroke-width="1.3"/><ellipse rx="4.6" ry="4.0" fill="#dabbbe"/></g>
<g transform="translate(329.1 996.6) rotate(141)"><ellipse rx="9.0" ry="7.6" fill="#d0a8ad" stroke="#ede5e4" stroke-width="1.3"/><ellipse rx="4.9" ry="4.2" fill="#dabbbe"/></g>
<g transform="translate(367.6 860.6) rotate(87)"><ellipse rx="8.5" ry="7.3" fill="#d0a8ad" stroke="#ede5e4" stroke-width="1.3"/><ellipse rx="4.7" ry="4.0" fill="#dabbbe"/></g>
<g transform="translate(384.3 814.7) rotate(175)"><ellipse rx="10.0" ry="8.6" fill="#d0a8ad" stroke="#ede5e4" stroke-width="1.3"/><ellipse rx="5.5" ry="4.8" fill="#dabbbe"/></g>
<g transform="translate(462.8 834.7) rotate(130)"><ellipse rx="9.0" ry="7.2" fill="#d0a8ad" stroke="#ede5e4" stroke-width="1.3"/><ellipse rx="4.9" ry="4.0" fill="#dabbbe"/></g>
<g transform="translate(452.1 938.3) rotate(2)"><ellipse rx="7.8" ry="7.7" fill="#d0a8ad" stroke="#ede5e4" stroke-width="1.3"/><ellipse rx="4.3" ry="4.3" fill="#dabbbe"/></g>
<g transform="translate(466.5 917.0) rotate(171)"><ellipse rx="8.4" ry="7.4" fill="#d0a8ad" stroke="#ede5e4" stroke-width="1.3"/><ellipse rx="4.6" ry="4.1" fill="#dabbbe"/></g>
<g transform="translate(280.9 751.3) rotate(122)"><ellipse rx="7.9" ry="6.3" fill="#d0a8ad" stroke="#ede5e4" stroke-width="1.3"/><ellipse rx="4.3" ry="3.5" fill="#dabbbe"/></g>
<g transform="translate(446.5 846.6) rotate(64)"><ellipse rx="8.9" ry="8.6" fill="#d0a8ad" stroke="#ede5e4" stroke-width="1.3"/><ellipse rx="4.9" ry="4.7" fill="#dabbbe"/></g>
<g transform="translate(171.0 785.8) rotate(9)"><ellipse rx="9.2" ry="8.0" fill="#d0a8ad" stroke="#ede5e4" stroke-width="1.3"/><ellipse rx="5.1" ry="4.4" fill="#dabbbe"/></g>
<g transform="translate(156.5 842.0) rotate(37)"><ellipse rx="7.7" ry="7.2" fill="#d0a8ad" stroke="#ede5e4" stroke-width="1.3"/><ellipse rx="4.2" ry="3.9" fill="#dabbbe"/></g>
<g transform="translate(436.3 821.4) rotate(170)"><ellipse rx="8.5" ry="7.2" fill="#d0a8ad" stroke="#ede5e4" stroke-width="1.3"/><ellipse rx="4.7" ry="4.0" fill="#dabbbe"/></g>
<g transform="translate(295.8 994.9) rotate(137)"><ellipse rx="8.0" ry="7.9" fill="#d0a8ad" stroke="#ede5e4" stroke-width="1.3"/><ellipse rx="4.4" ry="4.3" fill="#dabbbe"/></g>
<g transform="translate(439.6 868.0) rotate(162)"><ellipse rx="9.4" ry="7.2" fill="#d0a8ad" stroke="#ede5e4" stroke-width="1.3"/><ellipse rx="5.1" ry="4.0" fill="#dabbbe"/></g>
<g transform="translate(123.7 711.2) rotate(9)"><ellipse rx="9.3" ry="8.3" fill="#d0a8ad" stroke="#ede5e4" stroke-width="1.3"/><ellipse rx="5.1" ry="4.6" fill="#dabbbe"/></g>
<g transform="translate(284.3 812.7) rotate(57)"><ellipse rx="8.6" ry="8.0" fill="#d0a8ad" stroke="#ede5e4" stroke-width="1.3"/><ellipse rx="4.7" ry="4.4" fill="#dabbbe"/></g>
<g transform="translate(283.8 957.0) rotate(161)"><ellipse rx="8.0" ry="7.5" fill="#d0a8ad" stroke="#ede5e4" stroke-width="1.3"/><ellipse rx="4.4" ry="4.1" fill="#dabbbe"/></g>
<g transform="translate(285.9 788.3) rotate(116)"><ellipse rx="8.5" ry="7.2" fill="#d0a8ad" stroke="#ede5e4" stroke-width="1.3"/><ellipse rx="4.6" ry="3.9" fill="#dabbbe"/></g>
<g transform="translate(371.8 997.4) rotate(133)"><ellipse rx="8.3" ry="7.8" fill="#d0a8ad" stroke="#ede5e4" stroke-width="1.3"/><ellipse rx="4.5" ry="4.3" fill="#dabbbe"/></g>
<g transform="translate(308.4 869.2) rotate(44)"><ellipse rx="8.8" ry="8.4" fill="#d0a8ad" stroke="#ede5e4" stroke-width="1.3"/><ellipse rx="4.9" ry="4.6" fill="#dabbbe"/></g>
<g transform="translate(250.6 1006.6) rotate(156)"><ellipse rx="9.1" ry="7.8" fill="#d0a8ad" stroke="#ede5e4" stroke-width="1.3"/><ellipse rx="5.0" ry="4.3" fill="#dabbbe"/></g>
<g transform="translate(421.9 1006.8) rotate(18)"><ellipse rx="8.2" ry="7.1" fill="#d0a8ad" stroke="#ede5e4" stroke-width="1.3"/><ellipse rx="4.5" ry="3.9" fill="#dabbbe"/></g>
<g transform="translate(285.6 1007.1) rotate(47)"><ellipse rx="9.5" ry="8.9" fill="#d0a8ad" stroke="#ede5e4" stroke-width="1.3"/><ellipse rx="5.2" ry="4.9" fill="#dabbbe"/></g>
<g transform="translate(76.2 785.8) rotate(180)"><ellipse rx="7.4" ry="6.8" fill="#d0a8ad" stroke="#ede5e4" stroke-width="1.3"/><ellipse rx="4.0" ry="3.8" fill="#dabbbe"/></g>
<g transform="translate(111.4 935.6) rotate(100)"><ellipse rx="8.7" ry="8.0" fill="#d0a8ad" stroke="#ede5e4" stroke-width="1.3"/><ellipse rx="4.8" ry="4.4" fill="#dabbbe"/></g>
<g transform="translate(139.4 1010.0) rotate(138)"><ellipse rx="8.5" ry="8.2" fill="#d0a8ad" stroke="#ede5e4" stroke-width="1.3"/><ellipse rx="4.7" ry="4.5" fill="#dabbbe"/></g>
<g transform="translate(254.5 1021.8) rotate(103)"><ellipse rx="9.2" ry="8.2" fill="#d0a8ad" stroke="#ede5e4" stroke-width="1.3"/><ellipse rx="5.1" ry="4.5" fill="#dabbbe"/></g>
<g transform="translate(114.4 845.9) rotate(57)"><ellipse rx="9.0" ry="7.3" fill="#d0a8ad" stroke="#ede5e4" stroke-width="1.3"/><ellipse rx="5.0" ry="4.0" fill="#dabbbe"/></g>
<g transform="translate(355.5 716.1) rotate(179)"><ellipse rx="9.3" ry="7.9" fill="#d0a8ad" stroke="#ede5e4" stroke-width="1.3"/><ellipse rx="5.1" ry="4.4" fill="#dabbbe"/></g>
<g transform="translate(234.4 715.7) rotate(64)"><ellipse rx="8.7" ry="8.0" fill="#d0a8ad" stroke="#ede5e4" stroke-width="1.3"/><ellipse rx="4.8" ry="4.4" fill="#dabbbe"/></g>
<g transform="translate(468.6 958.3) rotate(119)"><ellipse rx="9.1" ry="8.2" fill="#d0a8ad" stroke="#ede5e4" stroke-width="1.3"/><ellipse rx="5.0" ry="4.5" fill="#dabbbe"/></g>
<g transform="translate(90.1 793.7) rotate(136)"><ellipse rx="7.8" ry="6.6" fill="#d0a8ad" stroke="#ede5e4" stroke-width="1.3"/><ellipse rx="4.3" ry="3.6" fill="#dabbbe"/></g>
<g transform="translate(380.0 795.2) rotate(78)"><ellipse rx="8.2" ry="6.6" fill="#d0a8ad" stroke="#ede5e4" stroke-width="1.3"/><ellipse rx="4.5" ry="3.7" fill="#dabbbe"/></g>
<g transform="translate(226.6 997.1) rotate(141)"><ellipse rx="9.6" ry="7.9" fill="#d0a8ad" stroke="#ede5e4" stroke-width="1.3"/><ellipse rx="5.3" ry="4.3" fill="#dabbbe"/></g>
<g transform="translate(156.2 757.1) rotate(86)"><ellipse rx="9.9" ry="8.2" fill="#d0a8ad" stroke="#ede5e4" stroke-width="1.3"/><ellipse rx="5.5" ry="4.5" fill="#dabbbe"/></g>
<g transform="translate(290.4 930.6) rotate(72)"><ellipse rx="7.3" ry="7.5" fill="#d0a8ad" stroke="#ede5e4" stroke-width="1.3"/><ellipse rx="4.0" ry="4.1" fill="#dabbbe"/></g>
<g transform="translate(69.7 926.8) rotate(43)"><ellipse rx="9.0" ry="7.9" fill="#d0a8ad" stroke="#ede5e4" stroke-width="1.3"/><ellipse rx="4.9" ry="4.4" fill="#dabbbe"/></g>
<g transform="translate(76.1 1005.6) rotate(104)"><ellipse rx="9.6" ry="8.2" fill="#d0a8ad" stroke="#ede5e4" stroke-width="1.3"/><ellipse rx="5.3" ry="4.5" fill="#dabbbe"/></g>
<g transform="translate(389.7 736.4) rotate(45)"><ellipse rx="8.7" ry="8.0" fill="#d0a8ad" stroke="#ede5e4" stroke-width="1.3"/><ellipse rx="4.8" ry="4.4" fill="#dabbbe"/></g>
<g transform="translate(147.5 744.5) rotate(99)"><ellipse rx="8.1" ry="6.9" fill="#d0a8ad" stroke="#ede5e4" stroke-width="1.3"/><ellipse rx="4.5" ry="3.8" fill="#dabbbe"/></g>
<g transform="translate(66.7 773.6) rotate(41)"><ellipse rx="7.6" ry="7.5" fill="#d0a8ad" stroke="#ede5e4" stroke-width="1.3"/><ellipse rx="4.2" ry="4.1" fill="#dabbbe"/></g>
<g transform="translate(176.2 949.2) rotate(92)"><ellipse rx="8.8" ry="7.5" fill="#d0a8ad" stroke="#ede5e4" stroke-width="1.3"/><ellipse rx="4.8" ry="4.1" fill="#dabbbe"/></g>
<g transform="translate(260.0 766.0) rotate(100)"><ellipse rx="7.9" ry="7.2" fill="#d0a8ad" stroke="#ede5e4" stroke-width="1.3"/><ellipse rx="4.3" ry="3.9" fill="#dabbbe"/></g>
<g transform="translate(360.2 883.6) rotate(156)"><ellipse rx="8.1" ry="7.7" fill="#d0a8ad" stroke="#ede5e4" stroke-width="1.3"/><ellipse rx="4.5" ry="4.2" fill="#dabbbe"/></g>
<g transform="translate(397.1 846.1) rotate(123)"><ellipse rx="9.2" ry="7.3" fill="#d0a8ad" stroke="#ede5e4" stroke-width="1.3"/><ellipse rx="5.1" ry="4.0" fill="#dabbbe"/></g>
<g transform="translate(403.9 833.8) rotate(49)"><ellipse rx="9.4" ry="7.7" fill="#d0a8ad" stroke="#ede5e4" stroke-width="1.3"/><ellipse rx="5.2" ry="4.3" fill="#dabbbe"/></g>
<g transform="translate(406.7 984.2) rotate(93)"><ellipse rx="9.1" ry="8.3" fill="#d0a8ad" stroke="#ede5e4" stroke-width="1.3"/><ellipse rx="5.0" ry="4.6" fill="#dabbbe"/></g>
<g transform="translate(242.6 759.6) rotate(160)"><ellipse rx="9.0" ry="8.3" fill="#d0a8ad" stroke="#ede5e4" stroke-width="1.3"/><ellipse rx="4.9" ry="4.6" fill="#dabbbe"/></g>
<g transform="translate(158.2 1013.0) rotate(116)"><ellipse rx="9.7" ry="9.0" fill="#d0a8ad" stroke="#ede5e4" stroke-width="1.3"/><ellipse rx="5.3" ry="4.9" fill="#dabbbe"/></g>
<g transform="translate(178.1 822.3) rotate(22)"><ellipse rx="7.1" ry="6.8" fill="#d0a8ad" stroke="#ede5e4" stroke-width="1.3"/><ellipse rx="3.9" ry="3.7" fill="#dabbbe"/></g>
<g transform="translate(209.1 859.5) rotate(54)"><ellipse rx="9.0" ry="7.3" fill="#d0a8ad" stroke="#ede5e4" stroke-width="1.3"/><ellipse rx="4.9" ry="4.0" fill="#dabbbe"/></g>
<g transform="translate(131.4 869.0) rotate(74)"><ellipse rx="7.6" ry="6.8" fill="#d0a8ad" stroke="#ede5e4" stroke-width="1.3"/><ellipse rx="4.2" ry="3.8" fill="#dabbbe"/></g>
<g transform="translate(158.6 738.3) rotate(23)"><ellipse rx="8.9" ry="7.2" fill="#d0a8ad" stroke="#ede5e4" stroke-width="1.3"/><ellipse rx="4.9" ry="3.9" fill="#dabbbe"/></g>
<g transform="translate(367.7 917.1) rotate(8)"><ellipse rx="8.7" ry="8.3" fill="#d0a8ad" stroke="#ede5e4" stroke-width="1.3"/><ellipse rx="4.8" ry="4.6" fill="#dabbbe"/></g>
<g transform="translate(423.0 832.7) rotate(145)"><ellipse rx="7.8" ry="7.2" fill="#d0a8ad" stroke="#ede5e4" stroke-width="1.3"/><ellipse rx="4.3" ry="3.9" fill="#dabbbe"/></g>
<g transform="translate(468.4 757.1) rotate(175)"><ellipse rx="9.4" ry="7.9" fill="#d0a8ad" stroke="#ede5e4" stroke-width="1.3"/><ellipse rx="5.1" ry="4.3" fill="#dabbbe"/></g>
<g transform="translate(261.9 973.0) rotate(43)"><ellipse rx="9.0" ry="8.0" fill="#d0a8ad" stroke="#ede5e4" stroke-width="1.3"/><ellipse rx="5.0" ry="4.4" fill="#dabbbe"/></g>
<g transform="translate(400.4 894.0) rotate(93)"><ellipse rx="9.7" ry="9.0" fill="#d0a8ad" stroke="#ede5e4" stroke-width="1.3"/><ellipse rx="5.3" ry="5.0" fill="#dabbbe"/></g>
<g transform="translate(338.6 928.4) rotate(42)"><ellipse rx="8.7" ry="7.2" fill="#d0a8ad" stroke="#ede5e4" stroke-width="1.3"/><ellipse rx="4.8" ry="4.0" fill="#dabbbe"/></g>
<g transform="translate(58.4 751.9) rotate(53)"><ellipse rx="8.9" ry="8.0" fill="#d0a8ad" stroke="#ede5e4" stroke-width="1.3"/><ellipse rx="4.9" ry="4.4" fill="#dabbbe"/></g>
<g transform="translate(314.9 907.3) rotate(63)"><ellipse rx="8.4" ry="7.8" fill="#d0a8ad" stroke="#ede5e4" stroke-width="1.3"/><ellipse rx="4.6" ry="4.3" fill="#dabbbe"/></g>
<g transform="translate(255.4 711.0) rotate(80)"><ellipse rx="9.0" ry="7.7" fill="#d0a8ad" stroke="#ede5e4" stroke-width="1.3"/><ellipse rx="5.0" ry="4.2" fill="#dabbbe"/></g>
<g transform="translate(358.6 774.6) rotate(18)"><ellipse rx="9.0" ry="8.6" fill="#d0a8ad" stroke="#ede5e4" stroke-width="1.3"/><ellipse rx="5.0" ry="4.7" fill="#dabbbe"/></g>
<g transform="translate(464.6 865.6) rotate(149)"><ellipse rx="8.8" ry="7.9" fill="#d0a8ad" stroke="#ede5e4" stroke-width="1.3"/><ellipse rx="4.9" ry="4.4" fill="#dabbbe"/></g>
<g transform="translate(251.0 925.4) rotate(176)"><ellipse rx="8.8" ry="7.8" fill="#d0a8ad" stroke="#ede5e4" stroke-width="1.3"/><ellipse rx="4.8" ry="4.3" fill="#dabbbe"/></g>
<g transform="translate(175.9 888.8) rotate(27)"><ellipse rx="8.0" ry="6.5" fill="#d0a8ad" stroke="#ede5e4" stroke-width="1.3"/><ellipse rx="4.4" ry="3.6" fill="#dabbbe"/></g>
<g transform="translate(267.1 856.4) rotate(117)"><ellipse rx="8.9" ry="7.1" fill="#d0a8ad" stroke="#ede5e4" stroke-width="1.3"/><ellipse rx="4.9" ry="3.9" fill="#dabbbe"/></g>
<g transform="translate(96.0 991.5) rotate(93)"><ellipse rx="8.5" ry="7.8" fill="#d0a8ad" stroke="#ede5e4" stroke-width="1.3"/><ellipse rx="4.7" ry="4.3" fill="#dabbbe"/></g>
<g transform="translate(465.6 1004.9) rotate(85)"><ellipse rx="7.9" ry="7.2" fill="#d0a8ad" stroke="#ede5e4" stroke-width="1.3"/><ellipse rx="4.4" ry="4.0" fill="#dabbbe"/></g>
<g transform="translate(242.4 968.3) rotate(146)"><ellipse rx="9.5" ry="9.1" fill="#d0a8ad" stroke="#ede5e4" stroke-width="1.3"/><ellipse rx="5.2" ry="5.0" fill="#dabbbe"/></g>
<g transform="translate(238.3 794.6) rotate(59)"><ellipse rx="7.8" ry="7.7" fill="#d0a8ad" stroke="#ede5e4" stroke-width="1.3"/><ellipse rx="4.3" ry="4.2" fill="#dabbbe"/></g>
<g transform="translate(451.6 776.4) rotate(48)"><ellipse rx="8.6" ry="8.5" fill="#d0a8ad" stroke="#ede5e4" stroke-width="1.3"/><ellipse rx="4.7" ry="4.7" fill="#dabbbe"/></g>
<g transform="translate(426.4 931.6) rotate(82)"><ellipse rx="7.8" ry="7.3" fill="#d0a8ad" stroke="#ede5e4" stroke-width="1.3"/><ellipse rx="4.3" ry="4.0" fill="#dabbbe"/></g>
<g transform="translate(46.5 864.9) rotate(27)"><ellipse rx="9.1" ry="7.4" fill="#d0a8ad" stroke="#ede5e4" stroke-width="1.3"/><ellipse rx="5.0" ry="4.0" fill="#dabbbe"/></g>
<g transform="translate(180.9 974.7) rotate(88)"><ellipse rx="7.2" ry="7.0" fill="#d0a8ad" stroke="#ede5e4" stroke-width="1.3"/><ellipse rx="3.9" ry="3.8" fill="#dabbbe"/></g>
<g transform="translate(367.8 974.3) rotate(62)"><ellipse rx="8.1" ry="6.7" fill="#d0a8ad" stroke="#ede5e4" stroke-width="1.3"/><ellipse rx="4.4" ry="3.7" fill="#dabbbe"/></g>
<g transform="translate(474.5 895.6) rotate(22)"><ellipse rx="8.4" ry="8.0" fill="#d0a8ad" stroke="#ede5e4" stroke-width="1.3"/><ellipse rx="4.6" ry="4.4" fill="#dabbbe"/></g>
<g transform="translate(447.3 788.5) rotate(92)"><ellipse rx="7.9" ry="7.1" fill="#d0a8ad" stroke="#ede5e4" stroke-width="1.3"/><ellipse rx="4.4" ry="3.9" fill="#dabbbe"/></g>
<g transform="translate(322.1 800.2) rotate(42)"><ellipse rx="7.2" ry="6.5" fill="#d0a8ad" stroke="#ede5e4" stroke-width="1.3"/><ellipse rx="3.9" ry="3.6" fill="#dabbbe"/></g>
<g transform="translate(443.5 750.1) rotate(27)"><ellipse rx="8.0" ry="7.5" fill="#d0a8ad" stroke="#ede5e4" stroke-width="1.3"/><ellipse rx="4.4" ry="4.1" fill="#dabbbe"/></g>
<g transform="translate(192.8 803.8) rotate(72)"><ellipse rx="8.5" ry="7.9" fill="#d0a8ad" stroke="#ede5e4" stroke-width="1.3"/><ellipse rx="4.7" ry="4.3" fill="#dabbbe"/></g>
<g transform="translate(464.8 792.0) rotate(164)"><ellipse rx="8.5" ry="7.9" fill="#d0a8ad" stroke="#ede5e4" stroke-width="1.3"/><ellipse rx="4.7" ry="4.4" fill="#dabbbe"/></g>
<g transform="translate(192.0 738.7) rotate(42)"><ellipse rx="8.6" ry="7.4" fill="#d0a8ad" stroke="#ede5e4" stroke-width="1.3"/><ellipse rx="4.7" ry="4.1" fill="#dabbbe"/></g>
<g transform="translate(156.1 889.4) rotate(88)"><ellipse rx="9.7" ry="8.6" fill="#d0a8ad" stroke="#ede5e4" stroke-width="1.3"/><ellipse rx="5.3" ry="4.7" fill="#dabbbe"/></g>
<g transform="translate(367.4 840.0) rotate(63)"><ellipse rx="9.1" ry="7.3" fill="#d0a8ad" stroke="#ede5e4" stroke-width="1.3"/><ellipse rx="5.0" ry="4.0" fill="#dabbbe"/></g>
<g transform="translate(416.0 778.0) rotate(88)"><ellipse rx="8.4" ry="7.5" fill="#d0a8ad" stroke="#ede5e4" stroke-width="1.3"/><ellipse rx="4.6" ry="4.1" fill="#dabbbe"/></g>
<g transform="translate(54.4 720.2) rotate(90)"><ellipse rx="8.4" ry="8.5" fill="#d0a8ad" stroke="#ede5e4" stroke-width="1.3"/><ellipse rx="4.6" ry="4.7" fill="#dabbbe"/></g>
<g transform="translate(45.1 833.3) rotate(169)"><ellipse rx="10.0" ry="8.7" fill="#d0a8ad" stroke="#ede5e4" stroke-width="1.3"/><ellipse rx="5.5" ry="4.8" fill="#dabbbe"/></g>
<g transform="translate(269.6 924.9) rotate(112)"><ellipse rx="9.4" ry="9.1" fill="#d0a8ad" stroke="#ede5e4" stroke-width="1.3"/><ellipse rx="5.2" ry="5.0" fill="#dabbbe"/></g>
<g transform="translate(241.6 883.7) rotate(123)"><ellipse rx="7.8" ry="6.5" fill="#d0a8ad" stroke="#ede5e4" stroke-width="1.3"/><ellipse rx="4.3" ry="3.6" fill="#dabbbe"/></g>
<g transform="translate(303.5 713.3) rotate(38)"><ellipse rx="8.9" ry="7.4" fill="#d0a8ad" stroke="#ede5e4" stroke-width="1.3"/><ellipse rx="4.9" ry="4.1" fill="#dabbbe"/></g>
<g transform="translate(425.0 859.7) rotate(90)"><ellipse rx="7.7" ry="6.8" fill="#d0a8ad" stroke="#ede5e4" stroke-width="1.3"/><ellipse rx="4.3" ry="3.7" fill="#dabbbe"/></g>
<g transform="translate(177.2 716.9) rotate(41)"><ellipse rx="8.1" ry="7.4" fill="#d0a8ad" stroke="#ede5e4" stroke-width="1.3"/><ellipse rx="4.5" ry="4.1" fill="#dabbbe"/></g>
<g transform="translate(59.7 816.5) rotate(21)"><ellipse rx="8.6" ry="7.9" fill="#d0a8ad" stroke="#ede5e4" stroke-width="1.3"/><ellipse rx="4.7" ry="4.3" fill="#dabbbe"/></g>
<g transform="translate(338.5 772.4) rotate(112)"><ellipse rx="9.8" ry="8.8" fill="#d0a8ad" stroke="#ede5e4" stroke-width="1.3"/><ellipse rx="5.4" ry="4.9" fill="#dabbbe"/></g>
<g transform="translate(462.0 808.2) rotate(147)"><ellipse rx="8.7" ry="8.1" fill="#d0a8ad" stroke="#ede5e4" stroke-width="1.3"/><ellipse rx="4.8" ry="4.5" fill="#dabbbe"/></g>
<g transform="translate(144.2 779.8) rotate(32)"><ellipse rx="8.8" ry="7.8" fill="#d0a8ad" stroke="#ede5e4" stroke-width="1.3"/><ellipse rx="4.9" ry="4.3" fill="#dabbbe"/></g>
<g transform="translate(171.8 1009.9) rotate(96)"><ellipse rx="8.5" ry="7.2" fill="#d0a8ad" stroke="#ede5e4" stroke-width="1.3"/><ellipse rx="4.7" ry="3.9" fill="#dabbbe"/></g>
<g transform="translate(360.1 1024.2) rotate(68)"><ellipse rx="9.5" ry="8.2" fill="#d0a8ad" stroke="#ede5e4" stroke-width="1.3"/><ellipse rx="5.2" ry="4.5" fill="#dabbbe"/></g>
<g transform="translate(196.1 1011.0) rotate(151)"><ellipse rx="8.3" ry="7.4" fill="#d0a8ad" stroke="#ede5e4" stroke-width="1.3"/><ellipse rx="4.6" ry="4.1" fill="#dabbbe"/></g>
<g transform="translate(398.3 968.9) rotate(59)"><ellipse rx="9.0" ry="7.7" fill="#d0a8ad" stroke="#ede5e4" stroke-width="1.3"/><ellipse rx="5.0" ry="4.2" fill="#dabbbe"/></g>
<g transform="translate(430.7 719.5) rotate(143)"><ellipse rx="9.1" ry="7.2" fill="#d0a8ad" stroke="#ede5e4" stroke-width="1.3"/><ellipse rx="5.0" ry="4.0" fill="#dabbbe"/></g>
<g transform="translate(155.5 945.4) rotate(82)"><ellipse rx="9.8" ry="8.3" fill="#d0a8ad" stroke="#ede5e4" stroke-width="1.3"/><ellipse rx="5.4" ry="4.6" fill="#dabbbe"/></g>
<g transform="translate(310.3 792.6) rotate(154)"><ellipse rx="9.4" ry="8.4" fill="#d0a8ad" stroke="#ede5e4" stroke-width="1.3"/><ellipse rx="5.2" ry="4.6" fill="#dabbbe"/></g>
<g transform="translate(181.1 796.8) rotate(155)"><ellipse rx="8.3" ry="6.5" fill="#d0a8ad" stroke="#ede5e4" stroke-width="1.3"/><ellipse rx="4.6" ry="3.5" fill="#dabbbe"/></g>
<g transform="translate(450.6 717.6) rotate(135)"><ellipse rx="8.5" ry="7.1" fill="#d0a8ad" stroke="#ede5e4" stroke-width="1.3"/><ellipse rx="4.7" ry="3.9" fill="#dabbbe"/></g>
<g transform="translate(211.2 789.1) rotate(137)"><ellipse rx="9.0" ry="7.5" fill="#d0a8ad" stroke="#ede5e4" stroke-width="1.3"/><ellipse rx="5.0" ry="4.1" fill="#dabbbe"/></g>
<g transform="translate(377.3 901.3) rotate(87)"><ellipse rx="8.6" ry="7.0" fill="#d0a8ad" stroke="#ede5e4" stroke-width="1.3"/><ellipse rx="4.7" ry="3.9" fill="#dabbbe"/></g>
<g transform="translate(424.9 1021.2) rotate(92)"><ellipse rx="7.6" ry="7.7" fill="#d0a8ad" stroke="#ede5e4" stroke-width="1.3"/><ellipse rx="4.2" ry="4.2" fill="#dabbbe"/></g>
<g transform="translate(81.2 740.4) rotate(15)"><ellipse rx="8.7" ry="7.7" fill="#d0a8ad" stroke="#ede5e4" stroke-width="1.3"/><ellipse rx="4.8" ry="4.2" fill="#dabbbe"/></g>
<g transform="translate(350.2 850.8) rotate(80)"><ellipse rx="7.6" ry="7.5" fill="#d0a8ad" stroke="#ede5e4" stroke-width="1.3"/><ellipse rx="4.2" ry="4.2" fill="#dabbbe"/></g>
<g transform="translate(224.2 905.4) rotate(65)"><ellipse rx="8.5" ry="7.8" fill="#d0a8ad" stroke="#ede5e4" stroke-width="1.3"/><ellipse rx="4.7" ry="4.3" fill="#dabbbe"/></g>
<g transform="translate(130.7 787.9) rotate(3)"><ellipse rx="8.0" ry="7.6" fill="#d0a8ad" stroke="#ede5e4" stroke-width="1.3"/><ellipse rx="4.4" ry="4.2" fill="#dabbbe"/></g>
<g transform="translate(110.9 988.5) rotate(133)"><ellipse rx="8.9" ry="8.5" fill="#d0a8ad" stroke="#ede5e4" stroke-width="1.3"/><ellipse rx="4.9" ry="4.7" fill="#dabbbe"/></g>
<g transform="translate(185.3 834.8) rotate(25)"><ellipse rx="10.1" ry="9.0" fill="#d0a8ad" stroke="#ede5e4" stroke-width="1.3"/><ellipse rx="5.5" ry="4.9" fill="#dabbbe"/></g>
<g transform="translate(263.1 782.9) rotate(25)"><ellipse rx="9.7" ry="8.0" fill="#d0a8ad" stroke="#ede5e4" stroke-width="1.3"/><ellipse rx="5.3" ry="4.4" fill="#dabbbe"/></g>
<g transform="translate(96.3 769.7) rotate(36)"><ellipse rx="9.0" ry="9.1" fill="#d0a8ad" stroke="#ede5e4" stroke-width="1.3"/><ellipse rx="5.0" ry="5.0" fill="#dabbbe"/></g>
<g transform="translate(379.4 1007.9) rotate(102)"><ellipse rx="7.2" ry="6.7" fill="#d0a8ad" stroke="#ede5e4" stroke-width="1.3"/><ellipse rx="4.0" ry="3.7" fill="#dabbbe"/></g>
<g transform="translate(301.3 905.3) rotate(15)"><ellipse rx="8.7" ry="7.3" fill="#d0a8ad" stroke="#ede5e4" stroke-width="1.3"/><ellipse rx="4.8" ry="4.0" fill="#dabbbe"/></g>
<g transform="translate(203.5 754.5) rotate(148)"><ellipse rx="8.3" ry="6.7" fill="#d0a8ad" stroke="#ede5e4" stroke-width="1.3"/><ellipse rx="4.5" ry="3.7" fill="#dabbbe"/></g>
<g transform="translate(132.5 960.5) rotate(17)"><ellipse rx="8.5" ry="7.4" fill="#d0a8ad" stroke="#ede5e4" stroke-width="1.3"/><ellipse rx="4.7" ry="4.1" fill="#dabbbe"/></g>
<g transform="translate(281.6 911.3) rotate(147)"><ellipse rx="8.2" ry="7.3" fill="#d0a8ad" stroke="#ede5e4" stroke-width="1.3"/><ellipse rx="4.5" ry="4.0" fill="#dabbbe"/></g>
<g transform="translate(166.8 806.9) rotate(50)"><ellipse rx="9.5" ry="8.8" fill="#d0a8ad" stroke="#ede5e4" stroke-width="1.3"/><ellipse rx="5.2" ry="4.9" fill="#dabbbe"/></g>
<g transform="translate(51.4 883.7) rotate(172)"><ellipse rx="9.3" ry="7.8" fill="#d0a8ad" stroke="#ede5e4" stroke-width="1.3"/><ellipse rx="5.1" ry="4.3" fill="#dabbbe"/></g>
<g transform="translate(436.2 738.0) rotate(76)"><ellipse rx="9.0" ry="7.9" fill="#d0a8ad" stroke="#ede5e4" stroke-width="1.3"/><ellipse rx="4.9" ry="4.3" fill="#dabbbe"/></g>
<g transform="translate(166.8 874.2) rotate(117)"><ellipse rx="9.3" ry="9.1" fill="#d0a8ad" stroke="#ede5e4" stroke-width="1.3"/><ellipse rx="5.1" ry="5.0" fill="#dabbbe"/></g>
<g transform="translate(91.8 864.5) rotate(63)"><ellipse rx="9.4" ry="8.7" fill="#d0a8ad" stroke="#ede5e4" stroke-width="1.3"/><ellipse rx="5.2" ry="4.8" fill="#dabbbe"/></g>
<g transform="translate(433.8 905.4) rotate(153)"><ellipse rx="9.6" ry="8.9" fill="#d0a8ad" stroke="#ede5e4" stroke-width="1.3"/><ellipse rx="5.3" ry="4.9" fill="#dabbbe"/></g>
<g transform="translate(113.9 957.5) rotate(48)"><ellipse rx="8.4" ry="7.5" fill="#d0a8ad" stroke="#ede5e4" stroke-width="1.3"/><ellipse rx="4.6" ry="4.1" fill="#dabbbe"/></g>
<g transform="translate(380.4 854.4) rotate(105)"><ellipse rx="8.6" ry="7.7" fill="#d0a8ad" stroke="#ede5e4" stroke-width="1.3"/><ellipse rx="4.7" ry="4.2" fill="#dabbbe"/></g>
<g transform="translate(248.5 743.7) rotate(103)"><ellipse rx="7.5" ry="7.6" fill="#d0a8ad" stroke="#ede5e4" stroke-width="1.3"/><ellipse rx="4.1" ry="4.2" fill="#dabbbe"/></g>
<g transform="translate(264.4 722.8) rotate(140)"><ellipse rx="8.7" ry="7.6" fill="#d0a8ad" stroke="#ede5e4" stroke-width="1.3"/><ellipse rx="4.8" ry="4.2" fill="#dabbbe"/></g>
<g transform="translate(80.4 941.0) rotate(171)"><ellipse rx="9.0" ry="8.2" fill="#d0a8ad" stroke="#ede5e4" stroke-width="1.3"/><ellipse rx="5.0" ry="4.5" fill="#dabbbe"/></g>
<g transform="translate(73.2 820.5) rotate(104)"><ellipse rx="10.0" ry="7.6" fill="#d0a8ad" stroke="#ede5e4" stroke-width="1.3"/><ellipse rx="5.5" ry="4.2" fill="#dabbbe"/></g>
<g transform="translate(283.7 892.7) rotate(34)"><ellipse rx="9.7" ry="7.9" fill="#d0a8ad" stroke="#ede5e4" stroke-width="1.3"/><ellipse rx="5.3" ry="4.4" fill="#dabbbe"/></g>
<g transform="translate(90.0 1022.8) rotate(151)"><ellipse rx="8.7" ry="7.6" fill="#d0a8ad" stroke="#ede5e4" stroke-width="1.3"/><ellipse rx="4.8" ry="4.2" fill="#dabbbe"/></g>
<g transform="translate(214.5 961.3) rotate(27)"><ellipse rx="7.9" ry="7.1" fill="#d0a8ad" stroke="#ede5e4" stroke-width="1.3"/><ellipse rx="4.3" ry="3.9" fill="#dabbbe"/></g>
<g transform="translate(296.9 919.1) rotate(126)"><ellipse rx="8.9" ry="7.2" fill="#d0a8ad" stroke="#ede5e4" stroke-width="1.3"/><ellipse rx="4.9" ry="4.0" fill="#dabbbe"/></g>
<g transform="translate(309.9 846.2) rotate(153)"><ellipse rx="9.0" ry="7.7" fill="#d0a8ad" stroke="#ede5e4" stroke-width="1.3"/><ellipse rx="4.9" ry="4.3" fill="#dabbbe"/></g>
<g transform="translate(430.1 751.6) rotate(32)"><ellipse rx="8.0" ry="7.0" fill="#d0a8ad" stroke="#ede5e4" stroke-width="1.3"/><ellipse rx="4.4" ry="3.8" fill="#dabbbe"/></g>
<g transform="translate(325.8 717.0) rotate(154)"><ellipse rx="7.7" ry="7.1" fill="#d0a8ad" stroke="#ede5e4" stroke-width="1.3"/><ellipse rx="4.3" ry="3.9" fill="#dabbbe"/></g>
<g transform="translate(102.9 1005.0) rotate(151)"><ellipse rx="8.5" ry="6.9" fill="#d0a8ad" stroke="#ede5e4" stroke-width="1.3"/><ellipse rx="4.7" ry="3.8" fill="#dabbbe"/></g>
<g transform="translate(419.7 956.4) rotate(15)"><ellipse rx="8.6" ry="7.6" fill="#d0a8ad" stroke="#ede5e4" stroke-width="1.3"/><ellipse rx="4.8" ry="4.2" fill="#dabbbe"/></g>
<g transform="translate(151.9 994.6) rotate(62)"><ellipse rx="7.3" ry="6.5" fill="#d0a8ad" stroke="#ede5e4" stroke-width="1.3"/><ellipse rx="4.0" ry="3.6" fill="#dabbbe"/></g>
<g transform="translate(273.6 837.9) rotate(35)"><ellipse rx="7.7" ry="7.5" fill="#d0a8ad" stroke="#ede5e4" stroke-width="1.3"/><ellipse rx="4.2" ry="4.1" fill="#dabbbe"/></g>
<g transform="translate(70.1 955.3) rotate(36)"><ellipse rx="8.2" ry="6.8" fill="#d0a8ad" stroke="#ede5e4" stroke-width="1.3"/><ellipse rx="4.5" ry="3.7" fill="#dabbbe"/></g>
<g transform="translate(47.7 976.0) rotate(88)"><ellipse rx="10.0" ry="8.0" fill="#d0a8ad" stroke="#ede5e4" stroke-width="1.3"/><ellipse rx="5.5" ry="4.4" fill="#dabbbe"/></g>
<g transform="translate(245.1 943.7) rotate(162)"><ellipse rx="8.1" ry="8.0" fill="#d0a8ad" stroke="#ede5e4" stroke-width="1.3"/><ellipse rx="4.5" ry="4.4" fill="#dabbbe"/></g>
<g transform="translate(343.9 976.3) rotate(170)"><ellipse rx="9.8" ry="7.6" fill="#d0a8ad" stroke="#ede5e4" stroke-width="1.3"/><ellipse rx="5.4" ry="4.2" fill="#dabbbe"/></g>
<g transform="translate(316.2 928.2) rotate(101)"><ellipse rx="9.0" ry="7.8" fill="#d0a8ad" stroke="#ede5e4" stroke-width="1.3"/><ellipse rx="4.9" ry="4.3" fill="#dabbbe"/></g>
<g transform="translate(90.9 1002.6) rotate(57)"><ellipse rx="8.6" ry="7.1" fill="#d0a8ad" stroke="#ede5e4" stroke-width="1.3"/><ellipse rx="4.7" ry="3.9" fill="#dabbbe"/></g>
<g transform="translate(106.0 719.1) rotate(106)"><ellipse rx="8.1" ry="7.1" fill="#d0a8ad" stroke="#ede5e4" stroke-width="1.3"/><ellipse rx="4.4" ry="3.9" fill="#dabbbe"/></g>
<g transform="translate(342.8 909.7) rotate(140)"><ellipse rx="8.5" ry="7.8" fill="#d0a8ad" stroke="#ede5e4" stroke-width="1.3"/><ellipse rx="4.7" ry="4.3" fill="#dabbbe"/></g>
<g transform="translate(361.8 730.7) rotate(15)"><ellipse rx="9.0" ry="8.3" fill="#d0a8ad" stroke="#ede5e4" stroke-width="1.3"/><ellipse rx="4.9" ry="4.6" fill="#dabbbe"/></g>
<g transform="translate(201.3 967.5) rotate(9)"><ellipse rx="9.4" ry="9.0" fill="#d0a8ad" stroke="#ede5e4" stroke-width="1.3"/><ellipse rx="5.2" ry="5.0" fill="#dabbbe"/></g>
<g transform="translate(438.2 1007.5) rotate(148)"><ellipse rx="8.0" ry="6.9" fill="#d0a8ad" stroke="#ede5e4" stroke-width="1.3"/><ellipse rx="4.4" ry="3.8" fill="#dabbbe"/></g>
<g transform="translate(133.5 745.3) rotate(129)"><ellipse rx="7.8" ry="7.2" fill="#d0a8ad" stroke="#ede5e4" stroke-width="1.3"/><ellipse rx="4.3" ry="4.0" fill="#dabbbe"/></g>
<g transform="translate(399.8 908.9) rotate(100)"><ellipse rx="8.7" ry="7.7" fill="#d0a8ad" stroke="#ede5e4" stroke-width="1.3"/><ellipse rx="4.8" ry="4.2" fill="#dabbbe"/></g>
<g transform="translate(133.1 810.5) rotate(82)"><ellipse rx="9.1" ry="7.6" fill="#d0a8ad" stroke="#ede5e4" stroke-width="1.3"/><ellipse rx="5.0" ry="4.2" fill="#dabbbe"/></g>
<g transform="translate(352.8 825.9) rotate(157)"><ellipse rx="8.2" ry="7.1" fill="#d0a8ad" stroke="#ede5e4" stroke-width="1.3"/><ellipse rx="4.5" ry="3.9" fill="#dabbbe"/></g>
<g transform="translate(232.7 953.5) rotate(160)"><ellipse rx="7.8" ry="7.6" fill="#d0a8ad" stroke="#ede5e4" stroke-width="1.3"/><ellipse rx="4.3" ry="4.2" fill="#dabbbe"/></g>
<g transform="translate(372.7 1018.0) rotate(157)"><ellipse rx="7.9" ry="7.0" fill="#d0a8ad" stroke="#ede5e4" stroke-width="1.3"/><ellipse rx="4.3" ry="3.8" fill="#dabbbe"/></g>
<g transform="translate(402.7 792.1) rotate(101)"><ellipse rx="10.4" ry="7.9" fill="#d0a8ad" stroke="#ede5e4" stroke-width="1.3"/><ellipse rx="5.7" ry="4.4" fill="#dabbbe"/></g>
<g transform="translate(82.1 989.9) rotate(43)"><ellipse rx="7.5" ry="6.5" fill="#d0a8ad" stroke="#ede5e4" stroke-width="1.3"/><ellipse rx="4.1" ry="3.6" fill="#dabbbe"/></g>
<g transform="translate(369.4 947.2) rotate(125)"><ellipse rx="8.3" ry="8.7" fill="#d0a8ad" stroke="#ede5e4" stroke-width="1.3"/><ellipse rx="4.6" ry="4.8" fill="#dabbbe"/></g>
<g transform="translate(294.0 749.7) rotate(82)"><ellipse rx="8.3" ry="8.3" fill="#d0a8ad" stroke="#ede5e4" stroke-width="1.3"/><ellipse rx="4.6" ry="4.5" fill="#dabbbe"/></g>
<g transform="translate(174.6 931.5) rotate(138)"><ellipse rx="9.6" ry="8.1" fill="#d0a8ad" stroke="#ede5e4" stroke-width="1.3"/><ellipse rx="5.3" ry="4.4" fill="#dabbbe"/></g>
<g transform="translate(185.4 874.5) rotate(92)"><ellipse rx="8.6" ry="6.8" fill="#d0a8ad" stroke="#ede5e4" stroke-width="1.3"/><ellipse rx="4.7" ry="3.7" fill="#dabbbe"/></g>
<g transform="translate(133.8 832.3) rotate(163)"><ellipse rx="8.3" ry="7.1" fill="#d0a8ad" stroke="#ede5e4" stroke-width="1.3"/><ellipse rx="4.5" ry="3.9" fill="#dabbbe"/></g>
<g transform="translate(260.2 909.2) rotate(123)"><ellipse rx="9.1" ry="8.2" fill="#d0a8ad" stroke="#ede5e4" stroke-width="1.3"/><ellipse rx="5.0" ry="4.5" fill="#dabbbe"/></g>
<g transform="translate(106.0 900.2) rotate(125)"><ellipse rx="8.2" ry="7.1" fill="#d0a8ad" stroke="#ede5e4" stroke-width="1.3"/><ellipse rx="4.5" ry="3.9" fill="#dabbbe"/></g>
<g transform="translate(291.8 946.0) rotate(73)"><ellipse rx="8.6" ry="8.2" fill="#d0a8ad" stroke="#ede5e4" stroke-width="1.3"/><ellipse rx="4.7" ry="4.5" fill="#dabbbe"/></g>
<g transform="translate(143.3 937.5) rotate(64)"><ellipse rx="9.7" ry="8.7" fill="#d0a8ad" stroke="#ede5e4" stroke-width="1.3"/><ellipse rx="5.4" ry="4.8" fill="#dabbbe"/></g>
<g transform="translate(179.6 907.9) rotate(36)"><ellipse rx="8.2" ry="6.7" fill="#d0a8ad" stroke="#ede5e4" stroke-width="1.3"/><ellipse rx="4.5" ry="3.7" fill="#dabbbe"/></g>
<g transform="translate(240.7 905.8) rotate(165)"><ellipse rx="8.1" ry="7.8" fill="#d0a8ad" stroke="#ede5e4" stroke-width="1.3"/><ellipse rx="4.5" ry="4.3" fill="#dabbbe"/></g>
<g transform="translate(135.3 925.6) rotate(173)"><ellipse rx="8.9" ry="7.8" fill="#d0a8ad" stroke="#ede5e4" stroke-width="1.3"/><ellipse rx="4.9" ry="4.3" fill="#dabbbe"/></g>
<g transform="translate(373.0 748.6) rotate(139)"><ellipse rx="10.0" ry="8.4" fill="#d0a8ad" stroke="#ede5e4" stroke-width="1.3"/><ellipse rx="5.5" ry="4.6" fill="#dabbbe"/></g>
<g transform="translate(197.9 727.8) rotate(66)"><ellipse rx="7.8" ry="7.1" fill="#d0a8ad" stroke="#ede5e4" stroke-width="1.3"/><ellipse rx="4.3" ry="3.9" fill="#dabbbe"/></g>
<g transform="translate(216.9 714.2) rotate(150)"><ellipse rx="9.1" ry="7.5" fill="#d0a8ad" stroke="#ede5e4" stroke-width="1.3"/><ellipse rx="5.0" ry="4.1" fill="#dabbbe"/></g>
<g transform="translate(225.8 929.9) rotate(81)"><ellipse rx="8.2" ry="8.0" fill="#d0a8ad" stroke="#ede5e4" stroke-width="1.3"/><ellipse rx="4.5" ry="4.4" fill="#dabbbe"/></g>
<g transform="translate(389.6 833.5) rotate(56)"><ellipse rx="8.5" ry="6.9" fill="#d0a8ad" stroke="#ede5e4" stroke-width="1.3"/><ellipse rx="4.7" ry="3.8" fill="#dabbbe"/></g>
<g transform="translate(100.6 954.6) rotate(23)"><ellipse rx="8.9" ry="8.6" fill="#d0a8ad" stroke="#ede5e4" stroke-width="1.3"/><ellipse rx="4.9" ry="4.7" fill="#dabbbe"/></g>
<g transform="translate(317.7 857.8) rotate(151)"><ellipse rx="8.1" ry="7.5" fill="#d0a8ad" stroke="#ede5e4" stroke-width="1.3"/><ellipse rx="4.5" ry="4.1" fill="#dabbbe"/></g>
<g transform="translate(46.2 937.4) rotate(14)"><ellipse rx="8.1" ry="7.2" fill="#d0a8ad" stroke="#ede5e4" stroke-width="1.3"/><ellipse rx="4.5" ry="3.9" fill="#dabbbe"/></g>
<g transform="translate(150.3 805.1) rotate(88)"><ellipse rx="8.3" ry="7.5" fill="#d0a8ad" stroke="#ede5e4" stroke-width="1.3"/><ellipse rx="4.6" ry="4.1" fill="#dabbbe"/></g>
<g transform="translate(454.3 916.6) rotate(49)"><ellipse rx="8.3" ry="7.3" fill="#d0a8ad" stroke="#ede5e4" stroke-width="1.3"/><ellipse rx="4.6" ry="4.0" fill="#dabbbe"/></g>
<g transform="translate(88.7 755.0) rotate(139)"><ellipse rx="7.7" ry="7.1" fill="#d0a8ad" stroke="#ede5e4" stroke-width="1.3"/><ellipse rx="4.2" ry="3.9" fill="#dabbbe"/></g>
<g transform="translate(433.8 959.4) rotate(61)"><ellipse rx="7.4" ry="6.9" fill="#d0a8ad" stroke="#ede5e4" stroke-width="1.3"/><ellipse rx="4.0" ry="3.8" fill="#dabbbe"/></g>
<g transform="translate(273.2 943.7) rotate(140)"><ellipse rx="8.7" ry="7.9" fill="#d0a8ad" stroke="#ede5e4" stroke-width="1.3"/><ellipse rx="4.8" ry="4.4" fill="#dabbbe"/></g>
<g transform="translate(424.6 884.8) rotate(38)"><ellipse rx="7.8" ry="7.6" fill="#d0a8ad" stroke="#ede5e4" stroke-width="1.3"/><ellipse rx="4.3" ry="4.2" fill="#dabbbe"/></g>
<g transform="translate(70.1 857.1) rotate(26)"><ellipse rx="8.0" ry="7.0" fill="#d0a8ad" stroke="#ede5e4" stroke-width="1.3"/><ellipse rx="4.4" ry="3.9" fill="#dabbbe"/></g>
<g transform="translate(416.0 712.1) rotate(39)"><ellipse rx="9.1" ry="7.7" fill="#d0a8ad" stroke="#ede5e4" stroke-width="1.3"/><ellipse rx="5.0" ry="4.3" fill="#dabbbe"/></g>
<g transform="translate(458.1 733.7) rotate(55)"><ellipse rx="9.5" ry="8.6" fill="#d0a8ad" stroke="#ede5e4" stroke-width="1.3"/><ellipse rx="5.2" ry="4.8" fill="#dabbbe"/></g>
<g transform="translate(376.3 776.4) rotate(163)"><ellipse rx="8.9" ry="7.5" fill="#d0a8ad" stroke="#ede5e4" stroke-width="1.3"/><ellipse rx="4.9" ry="4.1" fill="#dabbbe"/></g>
<g transform="translate(226.6 884.5) rotate(151)"><ellipse rx="9.7" ry="8.3" fill="#d0a8ad" stroke="#ede5e4" stroke-width="1.3"/><ellipse rx="5.3" ry="4.5" fill="#dabbbe"/></g>
<g transform="translate(47.7 769.8) rotate(116)"><ellipse rx="9.8" ry="9.0" fill="#d0a8ad" stroke="#ede5e4" stroke-width="1.3"/><ellipse rx="5.4" ry="4.9" fill="#dabbbe"/></g>
<g transform="translate(222.3 742.1) rotate(36)"><ellipse rx="9.6" ry="7.4" fill="#d0a8ad" stroke="#ede5e4" stroke-width="1.3"/><ellipse rx="5.3" ry="4.1" fill="#dabbbe"/></g>
<g transform="translate(47.1 925.4) rotate(153)"><ellipse rx="7.3" ry="6.6" fill="#d0a8ad" stroke="#ede5e4" stroke-width="1.3"/><ellipse rx="4.0" ry="3.6" fill="#dabbbe"/></g>
<g transform="translate(412.9 939.9) rotate(43)"><ellipse rx="7.9" ry="7.2" fill="#d0a8ad" stroke="#ede5e4" stroke-width="1.3"/><ellipse rx="4.4" ry="3.9" fill="#dabbbe"/></g>
<g transform="translate(336.1 755.6) rotate(155)"><ellipse rx="9.8" ry="8.1" fill="#d0a8ad" stroke="#ede5e4" stroke-width="1.3"/><ellipse rx="5.4" ry="4.5" fill="#dabbbe"/></g>
<g transform="translate(201.2 913.1) rotate(125)"><ellipse rx="9.5" ry="7.7" fill="#d0a8ad" stroke="#ede5e4" stroke-width="1.3"/><ellipse rx="5.2" ry="4.2" fill="#dabbbe"/></g>
<g transform="translate(451.3 957.2) rotate(54)"><ellipse rx="9.2" ry="8.5" fill="#d0a8ad" stroke="#ede5e4" stroke-width="1.3"/><ellipse rx="5.1" ry="4.7" fill="#dabbbe"/></g>
<g transform="translate(305.5 1017.9) rotate(177)"><ellipse rx="9.6" ry="8.2" fill="#d0a8ad" stroke="#ede5e4" stroke-width="1.3"/><ellipse rx="5.3" ry="4.5" fill="#dabbbe"/></g>
<g transform="translate(303.5 807.2) rotate(133)"><ellipse rx="8.2" ry="7.0" fill="#d0a8ad" stroke="#ede5e4" stroke-width="1.3"/><ellipse rx="4.5" ry="3.9" fill="#dabbbe"/></g>
<g transform="translate(162.8 978.1) rotate(58)"><ellipse rx="8.7" ry="7.9" fill="#d0a8ad" stroke="#ede5e4" stroke-width="1.3"/><ellipse rx="4.8" ry="4.3" fill="#dabbbe"/></g>
<g transform="translate(131.2 946.3) rotate(132)"><ellipse rx="10.4" ry="9.1" fill="#d0a8ad" stroke="#ede5e4" stroke-width="1.3"/><ellipse rx="5.7" ry="5.0" fill="#dabbbe"/></g>
<g transform="translate(245.1 775.1) rotate(25)"><ellipse rx="8.5" ry="7.2" fill="#d0a8ad" stroke="#ede5e4" stroke-width="1.3"/><ellipse rx="4.7" ry="4.0" fill="#dabbbe"/></g>
<g transform="translate(82.7 964.1) rotate(58)"><ellipse rx="9.9" ry="8.7" fill="#d0a8ad" stroke="#ede5e4" stroke-width="1.3"/><ellipse rx="5.5" ry="4.8" fill="#dabbbe"/></g>
<g transform="translate(298.4 769.6) rotate(53)"><ellipse rx="8.3" ry="7.5" fill="#d0a8ad" stroke="#ede5e4" stroke-width="1.3"/><ellipse rx="4.6" ry="4.1" fill="#dabbbe"/></g>
<g transform="translate(383.6 759.2) rotate(28)"><ellipse rx="8.3" ry="8.0" fill="#d0a8ad" stroke="#ede5e4" stroke-width="1.3"/><ellipse rx="4.6" ry="4.4" fill="#dabbbe"/></g>
<g transform="translate(59.4 1022.0) rotate(73)"><ellipse rx="9.2" ry="9.0" fill="#d0a8ad" stroke="#ede5e4" stroke-width="1.3"/><ellipse rx="5.1" ry="4.9" fill="#dabbbe"/></g>
<g transform="translate(254.1 888.7) rotate(104)"><ellipse rx="7.7" ry="6.7" fill="#d0a8ad" stroke="#ede5e4" stroke-width="1.3"/><ellipse rx="4.2" ry="3.7" fill="#dabbbe"/></g>
<g transform="translate(122.7 736.4) rotate(122)"><ellipse rx="8.0" ry="6.7" fill="#d0a8ad" stroke="#ede5e4" stroke-width="1.3"/><ellipse rx="4.4" ry="3.7" fill="#dabbbe"/></g>
<g transform="translate(452.3 996.6) rotate(69)"><ellipse rx="7.6" ry="7.4" fill="#d0a8ad" stroke="#ede5e4" stroke-width="1.3"/><ellipse rx="4.2" ry="4.1" fill="#dabbbe"/></g>
<g transform="translate(433.2 994.9) rotate(39)"><ellipse rx="9.2" ry="8.8" fill="#d0a8ad" stroke="#ede5e4" stroke-width="1.3"/><ellipse rx="5.0" ry="4.9" fill="#dabbbe"/></g>
<g transform="translate(336.1 804.1) rotate(145)"><ellipse rx="8.2" ry="8.5" fill="#d0a8ad" stroke="#ede5e4" stroke-width="1.3"/><ellipse rx="4.5" ry="4.7" fill="#dabbbe"/></g>
<g transform="translate(117.5 785.1) rotate(135)"><ellipse rx="7.4" ry="6.9" fill="#d0a8ad" stroke="#ede5e4" stroke-width="1.3"/><ellipse rx="4.1" ry="3.8" fill="#dabbbe"/></g>
<g transform="translate(398.9 860.4) rotate(143)"><ellipse rx="9.5" ry="7.4" fill="#d0a8ad" stroke="#ede5e4" stroke-width="1.3"/><ellipse rx="5.2" ry="4.1" fill="#dabbbe"/></g>
<g transform="translate(419.4 793.9) rotate(41)"><ellipse rx="8.0" ry="7.1" fill="#d0a8ad" stroke="#ede5e4" stroke-width="1.3"/><ellipse rx="4.4" ry="3.9" fill="#dabbbe"/></g>
<g transform="translate(181.8 994.5) rotate(156)"><ellipse rx="7.7" ry="7.2" fill="#d0a8ad" stroke="#ede5e4" stroke-width="1.3"/><ellipse rx="4.2" ry="3.9" fill="#dabbbe"/></g>
<g transform="translate(138.9 890.0) rotate(2)"><ellipse rx="7.6" ry="7.5" fill="#d0a8ad" stroke="#ede5e4" stroke-width="1.3"/><ellipse rx="4.2" ry="4.1" fill="#dabbbe"/></g>
<g transform="translate(249.9 984.7) rotate(103)"><ellipse rx="8.4" ry="6.8" fill="#d0a8ad" stroke="#ede5e4" stroke-width="1.3"/><ellipse rx="4.6" ry="3.8" fill="#dabbbe"/></g>
<g transform="translate(125.0 972.0) rotate(75)"><ellipse rx="9.1" ry="7.6" fill="#d0a8ad" stroke="#ede5e4" stroke-width="1.3"/><ellipse rx="5.0" ry="4.2" fill="#dabbbe"/></g>
<g transform="translate(115.3 826.9) rotate(155)"><ellipse rx="8.7" ry="8.1" fill="#d0a8ad" stroke="#ede5e4" stroke-width="1.3"/><ellipse rx="4.8" ry="4.4" fill="#dabbbe"/></g>
<g transform="translate(266.7 748.0) rotate(93)"><ellipse rx="9.7" ry="8.7" fill="#d0a8ad" stroke="#ede5e4" stroke-width="1.3"/><ellipse rx="5.3" ry="4.8" fill="#dabbbe"/></g>
<g transform="translate(257.8 871.7) rotate(10)"><ellipse rx="8.8" ry="8.2" fill="#d0a8ad" stroke="#ede5e4" stroke-width="1.3"/><ellipse rx="4.8" ry="4.5" fill="#dabbbe"/></g>
<g transform="translate(152.7 967.4) rotate(76)"><ellipse rx="7.7" ry="6.8" fill="#d0a8ad" stroke="#ede5e4" stroke-width="1.3"/><ellipse rx="4.3" ry="3.8" fill="#dabbbe"/></g>
<g transform="translate(52.6 898.8) rotate(1)"><ellipse rx="9.1" ry="8.0" fill="#d0a8ad" stroke="#ede5e4" stroke-width="1.3"/><ellipse rx="5.0" ry="4.4" fill="#dabbbe"/></g>
<g transform="translate(390.9 997.5) rotate(154)"><ellipse rx="8.8" ry="8.6" fill="#d0a8ad" stroke="#ede5e4" stroke-width="1.3"/><ellipse rx="4.8" ry="4.7" fill="#dabbbe"/></g>
<g transform="translate(409.5 726.9) rotate(122)"><ellipse rx="8.1" ry="7.4" fill="#d0a8ad" stroke="#ede5e4" stroke-width="1.3"/><ellipse rx="4.4" ry="4.1" fill="#dabbbe"/></g>
<g transform="translate(159.3 923.7) rotate(38)"><ellipse rx="7.8" ry="7.3" fill="#d0a8ad" stroke="#ede5e4" stroke-width="1.3"/><ellipse rx="4.3" ry="4.0" fill="#dabbbe"/></g>
<g transform="translate(152.7 873.9) rotate(86)"><ellipse rx="8.2" ry="7.7" fill="#d0a8ad" stroke="#ede5e4" stroke-width="1.3"/><ellipse rx="4.5" ry="4.2" fill="#dabbbe"/></g>
<g transform="translate(323.4 747.9) rotate(63)"><ellipse rx="8.6" ry="7.8" fill="#d0a8ad" stroke="#ede5e4" stroke-width="1.3"/><ellipse rx="4.7" ry="4.3" fill="#dabbbe"/></g>
<g transform="translate(219.8 800.8) rotate(172)"><ellipse rx="8.6" ry="7.8" fill="#d0a8ad" stroke="#ede5e4" stroke-width="1.3"/><ellipse rx="4.7" ry="4.3" fill="#dabbbe"/></g>
<g transform="translate(419.6 848.6) rotate(116)"><ellipse rx="8.4" ry="7.5" fill="#d0a8ad" stroke="#ede5e4" stroke-width="1.3"/><ellipse rx="4.6" ry="4.1" fill="#dabbbe"/></g>
<g transform="translate(362.6 758.7) rotate(148)"><ellipse rx="8.6" ry="7.4" fill="#d0a8ad" stroke="#ede5e4" stroke-width="1.3"/><ellipse rx="4.7" ry="4.0" fill="#dabbbe"/></g>
<g transform="translate(46.9 951.2) rotate(12)"><ellipse rx="8.9" ry="7.5" fill="#d0a8ad" stroke="#ede5e4" stroke-width="1.3"/><ellipse rx="4.9" ry="4.1" fill="#dabbbe"/></g>
<g transform="translate(306.2 829.6) rotate(174)"><ellipse rx="8.3" ry="7.6" fill="#d0a8ad" stroke="#ede5e4" stroke-width="1.3"/><ellipse rx="4.6" ry="4.2" fill="#dabbbe"/></g>
<g transform="translate(118.4 810.2) rotate(180)"><ellipse rx="9.4" ry="8.1" fill="#d0a8ad" stroke="#ede5e4" stroke-width="1.3"/><ellipse rx="5.2" ry="4.5" fill="#dabbbe"/></g>
<g transform="translate(342.0 711.2) rotate(126)"><ellipse rx="8.5" ry="7.2" fill="#d0a8ad" stroke="#ede5e4" stroke-width="1.3"/><ellipse rx="4.7" ry="4.0" fill="#dabbbe"/></g>
<g transform="translate(195.0 851.7) rotate(38)"><ellipse rx="8.0" ry="7.8" fill="#d0a8ad" stroke="#ede5e4" stroke-width="1.3"/><ellipse rx="4.4" ry="4.3" fill="#dabbbe"/></g>
<g transform="translate(152.2 723.9) rotate(58)"><ellipse rx="10.2" ry="8.3" fill="#d0a8ad" stroke="#ede5e4" stroke-width="1.3"/><ellipse rx="5.6" ry="4.5" fill="#dabbbe"/></g>
<g transform="translate(395.8 805.7) rotate(157)"><ellipse rx="9.6" ry="8.0" fill="#d0a8ad" stroke="#ede5e4" stroke-width="1.3"/><ellipse rx="5.3" ry="4.4" fill="#dabbbe"/></g>
<g transform="translate(253.3 959.7) rotate(122)"><ellipse rx="8.7" ry="7.1" fill="#d0a8ad" stroke="#ede5e4" stroke-width="1.3"/><ellipse rx="4.8" ry="3.9" fill="#dabbbe"/></g>
<g transform="translate(94.4 878.1) rotate(61)"><ellipse rx="8.8" ry="7.9" fill="#d0a8ad" stroke="#ede5e4" stroke-width="1.3"/><ellipse rx="4.9" ry="4.4" fill="#dabbbe"/></g>
<g transform="translate(400.1 820.6) rotate(60)"><ellipse rx="8.7" ry="7.4" fill="#d0a8ad" stroke="#ede5e4" stroke-width="1.3"/><ellipse rx="4.8" ry="4.1" fill="#dabbbe"/></g>
<g transform="translate(136.4 984.8) rotate(97)"><ellipse rx="8.6" ry="7.6" fill="#d0a8ad" stroke="#ede5e4" stroke-width="1.3"/><ellipse rx="4.7" ry="4.2" fill="#dabbbe"/></g>
<g transform="translate(172.7 730.8) rotate(76)"><ellipse rx="8.8" ry="7.0" fill="#d0a8ad" stroke="#ede5e4" stroke-width="1.3"/><ellipse rx="4.8" ry="3.9" fill="#dabbbe"/></g>
<g transform="translate(315.4 767.2) rotate(110)"><ellipse rx="7.5" ry="7.1" fill="#d0a8ad" stroke="#ede5e4" stroke-width="1.3"/><ellipse rx="4.1" ry="3.9" fill="#dabbbe"/></g>
<g transform="translate(437.5 941.2) rotate(46)"><ellipse rx="9.2" ry="7.6" fill="#d0a8ad" stroke="#ede5e4" stroke-width="1.3"/><ellipse rx="5.0" ry="4.2" fill="#dabbbe"/></g>
<g transform="translate(339.3 819.9) rotate(169)"><ellipse rx="7.6" ry="6.4" fill="#d0a8ad" stroke="#ede5e4" stroke-width="1.3"/><ellipse rx="4.2" ry="3.5" fill="#dabbbe"/></g>
<g transform="translate(403.7 954.6) rotate(46)"><ellipse rx="8.9" ry="7.4" fill="#d0a8ad" stroke="#ede5e4" stroke-width="1.3"/><ellipse rx="4.9" ry="4.1" fill="#dabbbe"/></g>
<g transform="translate(214.3 945.5) rotate(140)"><ellipse rx="9.8" ry="8.0" fill="#d0a8ad" stroke="#ede5e4" stroke-width="1.3"/><ellipse rx="5.4" ry="4.4" fill="#dabbbe"/></g>
<g transform="translate(198.9 839.7) rotate(10)"><ellipse rx="8.3" ry="7.7" fill="#d0a8ad" stroke="#ede5e4" stroke-width="1.3"/><ellipse rx="4.6" ry="4.2" fill="#dabbbe"/></g>
<g transform="translate(333.2 784.9) rotate(175)"><ellipse rx="7.8" ry="7.4" fill="#d0a8ad" stroke="#ede5e4" stroke-width="1.3"/><ellipse rx="4.3" ry="4.1" fill="#dabbbe"/></g>
<g transform="translate(106.0 887.4) rotate(174)"><ellipse rx="8.5" ry="7.3" fill="#d0a8ad" stroke="#ede5e4" stroke-width="1.3"/><ellipse rx="4.7" ry="4.0" fill="#dabbbe"/></g>
<g transform="translate(117.8 920.0) rotate(135)"><ellipse rx="8.8" ry="7.6" fill="#d0a8ad" stroke="#ede5e4" stroke-width="1.3"/><ellipse rx="4.8" ry="4.2" fill="#dabbbe"/></g>
<g transform="translate(133.8 729.0) rotate(66)"><ellipse rx="8.4" ry="7.2" fill="#d0a8ad" stroke="#ede5e4" stroke-width="1.3"/><ellipse rx="4.6" ry="4.0" fill="#dabbbe"/></g>
<g transform="translate(93.6 812.2) rotate(36)"><ellipse rx="8.3" ry="8.2" fill="#d0a8ad" stroke="#ede5e4" stroke-width="1.3"/><ellipse rx="4.5" ry="4.5" fill="#dabbbe"/></g>
<g transform="translate(231.7 769.8) rotate(15)"><ellipse rx="8.7" ry="8.1" fill="#d0a8ad" stroke="#ede5e4" stroke-width="1.3"/><ellipse rx="4.8" ry="4.5" fill="#dabbbe"/></g>
<g transform="translate(48.6 999.7) rotate(77)"><ellipse rx="9.5" ry="7.9" fill="#d0a8ad" stroke="#ede5e4" stroke-width="1.3"/><ellipse rx="5.2" ry="4.3" fill="#dabbbe"/></g>
<g transform="translate(314.9 1004.6) rotate(149)"><ellipse rx="8.3" ry="7.7" fill="#d0a8ad" stroke="#ede5e4" stroke-width="1.3"/><ellipse rx="4.6" ry="4.2" fill="#dabbbe"/></g>
<g transform="translate(172.4 768.5) rotate(69)"><ellipse rx="8.9" ry="8.2" fill="#d0a8ad" stroke="#ede5e4" stroke-width="1.3"/><ellipse rx="4.9" ry="4.5" fill="#dabbbe"/></g>
<g transform="translate(235.6 1015.5) rotate(115)"><ellipse rx="7.5" ry="7.1" fill="#d0a8ad" stroke="#ede5e4" stroke-width="1.3"/><ellipse rx="4.1" ry="3.9" fill="#dabbbe"/></g>
<g transform="translate(265.7 895.4) rotate(74)"><ellipse rx="7.5" ry="7.1" fill="#d0a8ad" stroke="#ede5e4" stroke-width="1.3"/><ellipse rx="4.1" ry="3.9" fill="#dabbbe"/></g>
<g transform="translate(213.5 763.9) rotate(86)"><ellipse rx="9.5" ry="8.9" fill="#d0a8ad" stroke="#ede5e4" stroke-width="1.3"/><ellipse rx="5.2" ry="4.9" fill="#dabbbe"/></g>
<g transform="translate(378.8 728.1) rotate(23)"><ellipse rx="8.4" ry="6.8" fill="#d0a8ad" stroke="#ede5e4" stroke-width="1.3"/><ellipse rx="4.6" ry="3.7" fill="#dabbbe"/></g>
<g transform="translate(419.4 762.9) rotate(118)"><ellipse rx="9.4" ry="8.3" fill="#d0a8ad" stroke="#ede5e4" stroke-width="1.3"/><ellipse rx="5.1" ry="4.6" fill="#dabbbe"/></g>
<g transform="translate(191.8 950.5) rotate(55)"><ellipse rx="9.8" ry="8.0" fill="#d0a8ad" stroke="#ede5e4" stroke-width="1.3"/><ellipse rx="5.4" ry="4.4" fill="#dabbbe"/></g>
<g transform="translate(400.0 748.7) rotate(27)"><ellipse rx="9.0" ry="7.8" fill="#d0a8ad" stroke="#ede5e4" stroke-width="1.3"/><ellipse rx="4.9" ry="4.3" fill="#dabbbe"/></g>
<g transform="translate(362.0 1008.6) rotate(102)"><ellipse rx="9.8" ry="8.7" fill="#d0a8ad" stroke="#ede5e4" stroke-width="1.3"/><ellipse rx="5.4" ry="4.8" fill="#dabbbe"/></g>
<g transform="translate(442.9 922.7) rotate(79)"><ellipse rx="8.6" ry="7.1" fill="#d0a8ad" stroke="#ede5e4" stroke-width="1.3"/><ellipse rx="4.7" ry="3.9" fill="#dabbbe"/></g>
<g transform="translate(128.1 850.7) rotate(128)"><ellipse rx="9.9" ry="9.0" fill="#d0a8ad" stroke="#ede5e4" stroke-width="1.3"/><ellipse rx="5.4" ry="5.0" fill="#dabbbe"/></g>
<g transform="translate(389.2 721.2) rotate(145)"><ellipse rx="7.9" ry="6.8" fill="#d0a8ad" stroke="#ede5e4" stroke-width="1.3"/><ellipse rx="4.4" ry="3.8" fill="#dabbbe"/></g>
<g transform="translate(214.2 985.0) rotate(93)"><ellipse rx="8.3" ry="7.9" fill="#d0a8ad" stroke="#ede5e4" stroke-width="1.3"/><ellipse rx="4.6" ry="4.4" fill="#dabbbe"/></g>
<g transform="translate(295.8 735.2) rotate(179)"><ellipse rx="7.6" ry="7.5" fill="#d0a8ad" stroke="#ede5e4" stroke-width="1.3"/><ellipse rx="4.2" ry="4.1" fill="#dabbbe"/></g>
<g transform="translate(304.2 982.2) rotate(160)"><ellipse rx="8.3" ry="7.7" fill="#d0a8ad" stroke="#ede5e4" stroke-width="1.3"/><ellipse rx="4.6" ry="4.3" fill="#dabbbe"/></g>
<g transform="translate(69.7 840.5) rotate(34)"><ellipse rx="7.3" ry="7.0" fill="#d0a8ad" stroke="#ede5e4" stroke-width="1.3"/><ellipse rx="4.0" ry="3.9" fill="#dabbbe"/></g>
<g transform="translate(314.3 815.4) rotate(89)"><ellipse rx="8.7" ry="7.7" fill="#d0a8ad" stroke="#ede5e4" stroke-width="1.3"/><ellipse rx="4.8" ry="4.3" fill="#dabbbe"/></g>
<g transform="translate(356.4 813.7) rotate(30)"><ellipse rx="8.4" ry="7.6" fill="#d0a8ad" stroke="#ede5e4" stroke-width="1.3"/><ellipse rx="4.6" ry="4.2" fill="#dabbbe"/></g>
<g transform="translate(327.7 899.5) rotate(97)"><ellipse rx="8.9" ry="7.0" fill="#d0a8ad" stroke="#ede5e4" stroke-width="1.3"/><ellipse rx="4.9" ry="3.8" fill="#dabbbe"/></g>
<g transform="translate(83.7 718.8) rotate(56)"><ellipse rx="7.5" ry="6.6" fill="#d0a8ad" stroke="#ede5e4" stroke-width="1.3"/><ellipse rx="4.1" ry="3.6" fill="#dabbbe"/></g>
<g transform="translate(123.2 1006.0) rotate(113)"><ellipse rx="8.8" ry="7.5" fill="#d0a8ad" stroke="#ede5e4" stroke-width="1.3"/><ellipse rx="4.8" ry="4.1" fill="#dabbbe"/></g>
<g transform="translate(73.1 913.3) rotate(119)"><ellipse rx="8.2" ry="7.3" fill="#d0a8ad" stroke="#ede5e4" stroke-width="1.3"/><ellipse rx="4.5" ry="4.0" fill="#dabbbe"/></g>
<g transform="translate(173.3 1023.2) rotate(139)"><ellipse rx="7.7" ry="7.7" fill="#d0a8ad" stroke="#ede5e4" stroke-width="1.3"/><ellipse rx="4.2" ry="4.2" fill="#dabbbe"/></g>
<g transform="translate(353.0 987.8) rotate(40)"><ellipse rx="10.2" ry="8.2" fill="#d0a8ad" stroke="#ede5e4" stroke-width="1.3"/><ellipse rx="5.6" ry="4.5" fill="#dabbbe"/></g>
<g transform="translate(144.6 845.6) rotate(135)"><ellipse rx="7.3" ry="6.7" fill="#d0a8ad" stroke="#ede5e4" stroke-width="1.3"/><ellipse rx="4.0" ry="3.7" fill="#dabbbe"/></g>
<g transform="translate(200.9 713.3) rotate(95)"><ellipse rx="9.4" ry="8.2" fill="#d0a8ad" stroke="#ede5e4" stroke-width="1.3"/><ellipse rx="5.2" ry="4.5" fill="#dabbbe"/></g>
<g transform="translate(325.8 881.4) rotate(164)"><ellipse rx="8.6" ry="8.3" fill="#d0a8ad" stroke="#ede5e4" stroke-width="1.3"/><ellipse rx="4.7" ry="4.6" fill="#dabbbe"/></g>
<g transform="translate(474.3 711.7) rotate(24)"><ellipse rx="9.1" ry="8.6" fill="#d0a8ad" stroke="#ede5e4" stroke-width="1.3"/><ellipse rx="5.0" ry="4.7" fill="#dabbbe"/></g>
<g transform="translate(315.7 944.1) rotate(62)"><ellipse rx="8.3" ry="8.1" fill="#d0a8ad" stroke="#ede5e4" stroke-width="1.3"/><ellipse rx="4.6" ry="4.4" fill="#dabbbe"/></g>
<g transform="translate(473.7 928.9) rotate(52)"><ellipse rx="9.0" ry="7.3" fill="#d0a8ad" stroke="#ede5e4" stroke-width="1.3"/><ellipse rx="5.0" ry="4.0" fill="#dabbbe"/></g>
<g transform="translate(155.5 773.6) rotate(112)"><ellipse rx="7.5" ry="6.5" fill="#d0a8ad" stroke="#ede5e4" stroke-width="1.3"/><ellipse rx="4.1" ry="3.6" fill="#dabbbe"/></g>
<g transform="translate(236.3 986.6) rotate(19)"><ellipse rx="8.4" ry="7.3" fill="#d0a8ad" stroke="#ede5e4" stroke-width="1.3"/><ellipse rx="4.6" ry="4.0" fill="#dabbbe"/></g>
<g transform="translate(320.5 780.4) rotate(114)"><ellipse rx="8.5" ry="7.9" fill="#d0a8ad" stroke="#ede5e4" stroke-width="1.3"/><ellipse rx="4.7" ry="4.3" fill="#dabbbe"/></g>
<g transform="translate(277.5 737.9) rotate(12)"><ellipse rx="8.2" ry="7.2" fill="#d0a8ad" stroke="#ede5e4" stroke-width="1.3"/><ellipse rx="4.5" ry="4.0" fill="#dabbbe"/></g>
<g transform="translate(275.3 869.6) rotate(145)"><ellipse rx="8.6" ry="7.7" fill="#d0a8ad" stroke="#ede5e4" stroke-width="1.3"/><ellipse rx="4.7" ry="4.2" fill="#dabbbe"/></g>
<g transform="translate(260.8 990.5) rotate(15)"><ellipse rx="8.1" ry="6.7" fill="#d0a8ad" stroke="#ede5e4" stroke-width="1.3"/><ellipse rx="4.5" ry="3.7" fill="#dabbbe"/></g>
<g transform="translate(170.5 990.5) rotate(78)"><ellipse rx="8.3" ry="7.5" fill="#d0a8ad" stroke="#ede5e4" stroke-width="1.3"/><ellipse rx="4.6" ry="4.1" fill="#dabbbe"/></g>
<g transform="translate(382.1 960.0) rotate(28)"><ellipse rx="9.8" ry="7.6" fill="#d0a8ad" stroke="#ede5e4" stroke-width="1.3"/><ellipse rx="5.4" ry="4.2" fill="#dabbbe"/></g>
<g transform="translate(449.9 970.1) rotate(47)"><ellipse rx="8.9" ry="7.9" fill="#d0a8ad" stroke="#ede5e4" stroke-width="1.3"/><ellipse rx="4.9" ry="4.4" fill="#dabbbe"/></g>
<g transform="translate(191.0 897.4) rotate(108)"><ellipse rx="10.1" ry="8.7" fill="#d0a8ad" stroke="#ede5e4" stroke-width="1.3"/><ellipse rx="5.5" ry="4.8" fill="#dabbbe"/></g>
<g transform="translate(235.1 918.2) rotate(99)"><ellipse rx="10.1" ry="8.6" fill="#d0a8ad" stroke="#ede5e4" stroke-width="1.3"/><ellipse rx="5.5" ry="4.7" fill="#dabbbe"/></g>
<g transform="translate(96.9 925.1) rotate(39)"><ellipse rx="7.6" ry="6.8" fill="#d0a8ad" stroke="#ede5e4" stroke-width="1.3"/><ellipse rx="4.2" ry="3.7" fill="#dabbbe"/></g>
<g transform="translate(415.8 871.9) rotate(159)"><ellipse rx="9.0" ry="7.8" fill="#d0a8ad" stroke="#ede5e4" stroke-width="1.3"/><ellipse rx="5.0" ry="4.3" fill="#dabbbe"/></g>
<g transform="translate(404.0 925.3) rotate(81)"><ellipse rx="9.2" ry="7.3" fill="#d0a8ad" stroke="#ede5e4" stroke-width="1.3"/><ellipse rx="5.1" ry="4.0" fill="#dabbbe"/></g>
<g transform="translate(209.7 1014.6) rotate(165)"><ellipse rx="9.4" ry="8.9" fill="#d0a8ad" stroke="#ede5e4" stroke-width="1.3"/><ellipse rx="5.2" ry="4.9" fill="#dabbbe"/></g>
<g transform="translate(222.7 868.2) rotate(179)"><ellipse rx="8.9" ry="7.9" fill="#d0a8ad" stroke="#ede5e4" stroke-width="1.3"/><ellipse rx="4.9" ry="4.3" fill="#dabbbe"/></g>
<g transform="translate(199.7 930.3) rotate(105)"><ellipse rx="7.6" ry="7.3" fill="#d0a8ad" stroke="#ede5e4" stroke-width="1.3"/><ellipse rx="4.2" ry="4.0" fill="#dabbbe"/></g>
<g transform="translate(262.0 843.5) rotate(66)"><ellipse rx="7.6" ry="6.5" fill="#d0a8ad" stroke="#ede5e4" stroke-width="1.3"/><ellipse rx="4.2" ry="3.6" fill="#dabbbe"/></g>
<g transform="translate(390.8 1012.8) rotate(130)"><ellipse rx="8.6" ry="7.2" fill="#d0a8ad" stroke="#ede5e4" stroke-width="1.3"/><ellipse rx="4.8" ry="4.0" fill="#dabbbe"/></g>
<g transform="translate(466.6 847.6) rotate(32)"><ellipse rx="9.2" ry="8.1" fill="#d0a8ad" stroke="#ede5e4" stroke-width="1.3"/><ellipse rx="5.1" ry="4.4" fill="#dabbbe"/></g>
<g transform="translate(375.6 712.2) rotate(138)"><ellipse rx="8.1" ry="7.1" fill="#d0a8ad" stroke="#ede5e4" stroke-width="1.3"/><ellipse rx="4.5" ry="3.9" fill="#dabbbe"/></g>
<g transform="translate(360.1 960.9) rotate(59)"><ellipse rx="9.8" ry="9.1" fill="#d0a8ad" stroke="#ede5e4" stroke-width="1.3"/><ellipse rx="5.4" ry="5.0" fill="#dabbbe"/></g>
<g transform="translate(404.8 1023.2) rotate(97)"><ellipse rx="9.8" ry="8.9" fill="#d0a8ad" stroke="#ede5e4" stroke-width="1.3"/><ellipse rx="5.4" ry="4.9" fill="#dabbbe"/></g>
<g transform="translate(368.8 788.3) rotate(58)"><ellipse rx="8.7" ry="7.3" fill="#d0a8ad" stroke="#ede5e4" stroke-width="1.3"/><ellipse rx="4.8" ry="4.0" fill="#dabbbe"/></g>
<g transform="translate(265.0 1008.7) rotate(19)"><ellipse rx="9.2" ry="7.8" fill="#d0a8ad" stroke="#ede5e4" stroke-width="1.3"/><ellipse rx="5.1" ry="4.3" fill="#dabbbe"/></g>
<g transform="translate(329.5 981.0) rotate(112)"><ellipse rx="9.2" ry="8.3" fill="#d0a8ad" stroke="#ede5e4" stroke-width="1.3"/><ellipse rx="5.1" ry="4.5" fill="#dabbbe"/></g>
<g transform="translate(78.5 893.4) rotate(84)"><ellipse rx="9.3" ry="9.1" fill="#d0a8ad" stroke="#ede5e4" stroke-width="1.3"/><ellipse rx="5.1" ry="5.0" fill="#dabbbe"/></g>
<g transform="translate(444.5 886.5) rotate(114)"><ellipse rx="8.0" ry="7.0" fill="#d0a8ad" stroke="#ede5e4" stroke-width="1.3"/><ellipse rx="4.4" ry="3.9" fill="#dabbbe"/></g>
<g transform="translate(127.9 893.5) rotate(2)"><ellipse rx="7.7" ry="6.7" fill="#d0a8ad" stroke="#ede5e4" stroke-width="1.3"/><ellipse rx="4.2" ry="3.7" fill="#dabbbe"/></g>
<g transform="translate(58.3 938.2) rotate(131)"><ellipse rx="7.9" ry="7.0" fill="#d0a8ad" stroke="#ede5e4" stroke-width="1.3"/><ellipse rx="4.3" ry="3.9" fill="#dabbbe"/></g>
<g transform="translate(311.1 743.1) rotate(22)"><ellipse rx="7.9" ry="7.5" fill="#d0a8ad" stroke="#ede5e4" stroke-width="1.3"/><ellipse rx="4.3" ry="4.1" fill="#dabbbe"/></g>
<g transform="translate(169.1 856.5) rotate(171)"><ellipse rx="8.5" ry="8.6" fill="#d0a8ad" stroke="#ede5e4" stroke-width="1.3"/><ellipse rx="4.6" ry="4.8" fill="#dabbbe"/></g>
<g transform="translate(423.6 919.6) rotate(54)"><ellipse rx="8.7" ry="7.1" fill="#d0a8ad" stroke="#ede5e4" stroke-width="1.3"/><ellipse rx="4.8" ry="3.9" fill="#dabbbe"/></g>
<g transform="translate(200.8 824.4) rotate(24)"><ellipse rx="10.4" ry="9.2" fill="#d0a8ad" stroke="#ede5e4" stroke-width="1.3"/><ellipse rx="5.7" ry="5.0" fill="#dabbbe"/></g>
<g transform="translate(433.8 773.6) rotate(41)"><ellipse rx="8.2" ry="8.3" fill="#d0a8ad" stroke="#ede5e4" stroke-width="1.3"/><ellipse rx="4.5" ry="4.6" fill="#dabbbe"/></g>
<g transform="translate(354.9 946.0) rotate(107)"><ellipse rx="9.2" ry="8.8" fill="#d0a8ad" stroke="#ede5e4" stroke-width="1.3"/><ellipse rx="5.1" ry="4.8" fill="#dabbbe"/></g>
<g transform="translate(276.7 796.9) rotate(23)"><ellipse rx="8.2" ry="7.7" fill="#d0a8ad" stroke="#ede5e4" stroke-width="1.3"/><ellipse rx="4.5" ry="4.2" fill="#dabbbe"/></g>
<g transform="translate(122.4 758.0) rotate(23)"><ellipse rx="8.3" ry="7.5" fill="#d0a8ad" stroke="#ede5e4" stroke-width="1.3"/><ellipse rx="4.6" ry="4.1" fill="#dabbbe"/></g>
<g transform="translate(385.1 891.3) rotate(32)"><ellipse rx="9.1" ry="8.1" fill="#d0a8ad" stroke="#ede5e4" stroke-width="1.3"/><ellipse rx="5.0" ry="4.4" fill="#dabbbe"/></g>
<g transform="translate(255.2 796.7) rotate(34)"><ellipse rx="9.0" ry="8.2" fill="#d0a8ad" stroke="#ede5e4" stroke-width="1.3"/><ellipse rx="4.9" ry="4.5" fill="#dabbbe"/></g>
<g transform="translate(470.0 880.4) rotate(33)"><ellipse rx="9.0" ry="8.3" fill="#d0a8ad" stroke="#ede5e4" stroke-width="1.3"/><ellipse rx="4.9" ry="4.5" fill="#dabbbe"/></g>
<g transform="translate(184.1 1014.4) rotate(54)"><ellipse rx="9.0" ry="7.0" fill="#d0a8ad" stroke="#ede5e4" stroke-width="1.3"/><ellipse rx="5.0" ry="3.8" fill="#dabbbe"/></g>
<g transform="translate(344.9 731.2) rotate(19)"><ellipse rx="10.0" ry="8.9" fill="#d0a8ad" stroke="#ede5e4" stroke-width="1.3"/><ellipse rx="5.5" ry="4.9" fill="#dabbbe"/></g>
<g transform="translate(298.1 962.3) rotate(170)"><ellipse rx="8.1" ry="7.0" fill="#d0a8ad" stroke="#ede5e4" stroke-width="1.3"/><ellipse rx="4.4" ry="3.9" fill="#dabbbe"/></g>
<g transform="translate(324.0 843.4) rotate(1)"><ellipse rx="8.6" ry="7.7" fill="#d0a8ad" stroke="#ede5e4" stroke-width="1.3"/><ellipse rx="4.7" ry="4.2" fill="#dabbbe"/></g>
<g transform="translate(116.4 724.3) rotate(122)"><ellipse rx="7.8" ry="7.0" fill="#d0a8ad" stroke="#ede5e4" stroke-width="1.3"/><ellipse rx="4.3" ry="3.8" fill="#dabbbe"/></g>
<g transform="translate(278.5 1022.0) rotate(170)"><ellipse rx="10.0" ry="9.0" fill="#d0a8ad" stroke="#ede5e4" stroke-width="1.3"/><ellipse rx="5.5" ry="4.9" fill="#dabbbe"/></g>
<g transform="translate(344.9 892.1) rotate(141)"><ellipse rx="9.4" ry="8.9" fill="#d0a8ad" stroke="#ede5e4" stroke-width="1.3"/><ellipse rx="5.2" ry="4.9" fill="#dabbbe"/></g>
<g transform="translate(46.5 738.8) rotate(89)"><ellipse rx="8.7" ry="8.6" fill="#d0a8ad" stroke="#ede5e4" stroke-width="1.3"/><ellipse rx="4.8" ry="4.7" fill="#dabbbe"/></g>
<g transform="translate(206.3 801.5) rotate(159)"><ellipse rx="8.4" ry="8.2" fill="#d0a8ad" stroke="#ede5e4" stroke-width="1.3"/><ellipse rx="4.6" ry="4.5" fill="#dabbbe"/></g>
<g transform="translate(145.5 957.1) rotate(83)"><ellipse rx="8.4" ry="8.3" fill="#d0a8ad" stroke="#ede5e4" stroke-width="1.3"/><ellipse rx="4.6" ry="4.6" fill="#dabbbe"/></g>
<g transform="translate(377.3 828.0) rotate(173)"><ellipse rx="7.8" ry="7.4" fill="#d0a8ad" stroke="#ede5e4" stroke-width="1.3"/><ellipse rx="4.3" ry="4.1" fill="#dabbbe"/></g>
<g transform="translate(148.4 979.8) rotate(44)"><ellipse rx="8.2" ry="7.3" fill="#d0a8ad" stroke="#ede5e4" stroke-width="1.3"/><ellipse rx="4.5" ry="4.0" fill="#dabbbe"/></g>
<g transform="translate(329.9 919.4) rotate(133)"><ellipse rx="8.3" ry="7.7" fill="#d0a8ad" stroke="#ede5e4" stroke-width="1.3"/><ellipse rx="4.5" ry="4.2" fill="#dabbbe"/></g>
<g transform="translate(163.7 910.2) rotate(14)"><ellipse rx="8.6" ry="7.4" fill="#d0a8ad" stroke="#ede5e4" stroke-width="1.3"/><ellipse rx="4.7" ry="4.1" fill="#dabbbe"/></g>
<g transform="translate(234.5 847.7) rotate(119)"><ellipse rx="9.8" ry="8.4" fill="#d0a8ad" stroke="#ede5e4" stroke-width="1.3"/><ellipse rx="5.4" ry="4.6" fill="#dabbbe"/></g>
<g transform="translate(94.7 940.3) rotate(131)"><ellipse rx="7.3" ry="6.9" fill="#d0a8ad" stroke="#ede5e4" stroke-width="1.3"/><ellipse rx="4.0" ry="3.8" fill="#dabbbe"/></g>
<g transform="translate(261.7 936.6) rotate(58)"><ellipse rx="8.4" ry="7.0" fill="#d0a8ad" stroke="#ede5e4" stroke-width="1.3"/><ellipse rx="4.6" ry="3.8" fill="#dabbbe"/></g>
<g transform="translate(45.2 1012.5) rotate(173)"><ellipse rx="8.5" ry="7.4" fill="#d0a8ad" stroke="#ede5e4" stroke-width="1.3"/><ellipse rx="4.7" ry="4.1" fill="#dabbbe"/></g>
<g transform="translate(92.2 905.2) rotate(130)"><ellipse rx="10.0" ry="7.8" fill="#d0a8ad" stroke="#ede5e4" stroke-width="1.3"/><ellipse rx="5.5" ry="4.3" fill="#dabbbe"/></g>
<g transform="translate(473.5 773.8) rotate(146)"><ellipse rx="8.4" ry="7.7" fill="#d0a8ad" stroke="#ede5e4" stroke-width="1.3"/><ellipse rx="4.6" ry="4.2" fill="#dabbbe"/></g>
<g transform="translate(389.1 785.0) rotate(94)"><ellipse rx="8.7" ry="7.4" fill="#d0a8ad" stroke="#ede5e4" stroke-width="1.3"/><ellipse rx="4.8" ry="4.1" fill="#dabbbe"/></g>
<g transform="translate(418.0 970.2) rotate(81)"><ellipse rx="7.8" ry="6.9" fill="#d0a8ad" stroke="#ede5e4" stroke-width="1.3"/><ellipse rx="4.3" ry="3.8" fill="#dabbbe"/></g>
<g transform="translate(374.5 806.5) rotate(109)"><ellipse rx="7.3" ry="7.6" fill="#d0a8ad" stroke="#ede5e4" stroke-width="1.3"/><ellipse rx="4.0" ry="4.2" fill="#dabbbe"/></g>
<g transform="translate(45.2 791.6) rotate(154)"><ellipse rx="9.6" ry="7.8" fill="#d0a8ad" stroke="#ede5e4" stroke-width="1.3"/><ellipse rx="5.3" ry="4.3" fill="#dabbbe"/></g>
<g transform="translate(195.7 867.0) rotate(150)"><ellipse rx="9.1" ry="8.5" fill="#d0a8ad" stroke="#ede5e4" stroke-width="1.3"/><ellipse rx="5.0" ry="4.7" fill="#dabbbe"/></g>
<g transform="translate(415.2 749.9) rotate(19)"><ellipse rx="8.1" ry="6.7" fill="#d0a8ad" stroke="#ede5e4" stroke-width="1.3"/><ellipse rx="4.5" ry="3.7" fill="#dabbbe"/></g>
<g transform="translate(446.4 831.1) rotate(7)"><ellipse rx="9.7" ry="8.3" fill="#d0a8ad" stroke="#ede5e4" stroke-width="1.3"/><ellipse rx="5.3" ry="4.6" fill="#dabbbe"/></g>
<g transform="translate(357.8 900.9) rotate(116)"><ellipse rx="8.1" ry="6.9" fill="#d0a8ad" stroke="#ede5e4" stroke-width="1.3"/><ellipse rx="4.5" ry="3.8" fill="#dabbbe"/></g>
<g transform="translate(103.8 1023.4) rotate(7)"><ellipse rx="9.7" ry="7.8" fill="#d0a8ad" stroke="#ede5e4" stroke-width="1.3"/><ellipse rx="5.3" ry="4.3" fill="#dabbbe"/></g>
<g transform="translate(226.0 788.6) rotate(144)"><ellipse rx="9.0" ry="8.3" fill="#d0a8ad" stroke="#ede5e4" stroke-width="1.3"/><ellipse rx="5.0" ry="4.5" fill="#dabbbe"/></g>
<g transform="translate(163.5 956.4) rotate(152)"><ellipse rx="7.7" ry="6.7" fill="#d0a8ad" stroke="#ede5e4" stroke-width="1.3"/><ellipse rx="4.2" ry="3.7" fill="#dabbbe"/></g>
<g transform="translate(111.1 972.0) rotate(146)"><ellipse rx="9.2" ry="7.1" fill="#d0a8ad" stroke="#ede5e4" stroke-width="1.3"/><ellipse rx="5.1" ry="3.9" fill="#dabbbe"/></g>
<g transform="translate(393.3 876.6) rotate(129)"><ellipse rx="9.4" ry="7.3" fill="#d0a8ad" stroke="#ede5e4" stroke-width="1.3"/><ellipse rx="5.1" ry="4.0" fill="#dabbbe"/></g>
<g transform="translate(140.4 717.4) rotate(43)"><ellipse rx="8.8" ry="7.6" fill="#d0a8ad" stroke="#ede5e4" stroke-width="1.3"/><ellipse rx="4.9" ry="4.2" fill="#dabbbe"/></g>
<g transform="translate(184.3 960.9) rotate(154)"><ellipse rx="8.0" ry="7.4" fill="#d0a8ad" stroke="#ede5e4" stroke-width="1.3"/><ellipse rx="4.4" ry="4.0" fill="#dabbbe"/></g>
<g transform="translate(341.9 1024.8) rotate(174)"><ellipse rx="8.9" ry="7.2" fill="#d0a8ad" stroke="#ede5e4" stroke-width="1.3"/><ellipse rx="4.9" ry="4.0" fill="#dabbbe"/></g>
<g transform="translate(361.4 930.6) rotate(152)"><ellipse rx="7.8" ry="6.6" fill="#d0a8ad" stroke="#ede5e4" stroke-width="1.3"/><ellipse rx="4.3" ry="3.6" fill="#dabbbe"/></g>
<g transform="translate(70.4 805.2) rotate(95)"><ellipse rx="9.5" ry="8.2" fill="#d0a8ad" stroke="#ede5e4" stroke-width="1.3"/><ellipse rx="5.2" ry="4.5" fill="#dabbbe"/></g>
<g transform="translate(470.6 1024.7) rotate(125)"><ellipse rx="9.3" ry="7.8" fill="#d0a8ad" stroke="#ede5e4" stroke-width="1.3"/><ellipse rx="5.1" ry="4.3" fill="#dabbbe"/></g>
<g transform="translate(177.6 743.1) rotate(96)"><ellipse rx="8.0" ry="7.2" fill="#d0a8ad" stroke="#ede5e4" stroke-width="1.3"/><ellipse rx="4.4" ry="4.0" fill="#dabbbe"/></g>
<g transform="translate(75.3 764.1) rotate(111)"><ellipse rx="8.0" ry="8.1" fill="#d0a8ad" stroke="#ede5e4" stroke-width="1.3"/><ellipse rx="4.4" ry="4.5" fill="#dabbbe"/></g>
<g transform="translate(455.1 897.3) rotate(171)"><ellipse rx="8.1" ry="6.8" fill="#d0a8ad" stroke="#ede5e4" stroke-width="1.3"/><ellipse rx="4.4" ry="3.7" fill="#dabbbe"/></g>
<g transform="translate(244.4 724.6) rotate(33)"><ellipse rx="8.6" ry="8.2" fill="#d0a8ad" stroke="#ede5e4" stroke-width="1.3"/><ellipse rx="4.7" ry="4.5" fill="#dabbbe"/></g>
<g transform="translate(280.4 969.7) rotate(105)"><ellipse rx="8.8" ry="8.9" fill="#d0a8ad" stroke="#ede5e4" stroke-width="1.3"/><ellipse rx="4.9" ry="4.9" fill="#dabbbe"/></g>
<g transform="translate(443.7 804.5) rotate(62)"><ellipse rx="8.3" ry="8.0" fill="#d0a8ad" stroke="#ede5e4" stroke-width="1.3"/><ellipse rx="4.6" ry="4.4" fill="#dabbbe"/></g>
<g transform="translate(282.6 773.1) rotate(71)"><ellipse rx="7.9" ry="7.1" fill="#d0a8ad" stroke="#ede5e4" stroke-width="1.3"/><ellipse rx="4.4" ry="3.9" fill="#dabbbe"/></g>
<g transform="translate(123.3 1021.9) rotate(7)"><ellipse rx="9.7" ry="7.8" fill="#d0a8ad" stroke="#ede5e4" stroke-width="1.3"/><ellipse rx="5.3" ry="4.3" fill="#dabbbe"/></g>
<g transform="translate(263.0 950.6) rotate(79)"><ellipse rx="7.5" ry="7.0" fill="#d0a8ad" stroke="#ede5e4" stroke-width="1.3"/><ellipse rx="4.1" ry="3.8" fill="#dabbbe"/></g>
<g transform="translate(448.7 817.9) rotate(74)"><ellipse rx="8.2" ry="6.7" fill="#d0a8ad" stroke="#ede5e4" stroke-width="1.3"/><ellipse rx="4.5" ry="3.7" fill="#dabbbe"/></g>
<g transform="translate(472.2 822.5) rotate(117)"><ellipse rx="9.9" ry="8.9" fill="#d0a8ad" stroke="#ede5e4" stroke-width="1.3"/><ellipse rx="5.5" ry="4.9" fill="#dabbbe"/></g>
<g transform="translate(101.1 800.0) rotate(69)"><ellipse rx="7.3" ry="6.5" fill="#d0a8ad" stroke="#ede5e4" stroke-width="1.3"/><ellipse rx="4.0" ry="3.5" fill="#dabbbe"/></g>
<g transform="translate(213.8 915.5) rotate(75)"><ellipse rx="8.2" ry="7.0" fill="#d0a8ad" stroke="#ede5e4" stroke-width="1.3"/><ellipse rx="4.5" ry="3.8" fill="#dabbbe"/></g>
<g transform="translate(140.0 1023.9) rotate(155)"><ellipse rx="7.9" ry="8.0" fill="#d0a8ad" stroke="#ede5e4" stroke-width="1.3"/><ellipse rx="4.3" ry="4.4" fill="#dabbbe"/></g>
<g transform="translate(124.4 880.7) rotate(14)"><ellipse rx="8.0" ry="7.4" fill="#d0a8ad" stroke="#ede5e4" stroke-width="1.3"/><ellipse rx="4.4" ry="4.1" fill="#dabbbe"/></g>
<g transform="translate(354.8 865.4) rotate(178)"><ellipse rx="8.5" ry="7.7" fill="#d0a8ad" stroke="#ede5e4" stroke-width="1.3"/><ellipse rx="4.7" ry="4.2" fill="#dabbbe"/></g>
<g transform="translate(223.6 1023.6) rotate(140)"><ellipse rx="9.8" ry="7.7" fill="#d0a8ad" stroke="#ede5e4" stroke-width="1.3"/><ellipse rx="5.4" ry="4.2" fill="#dabbbe"/></g>
<g transform="translate(123.6 985.6) rotate(91)"><ellipse rx="7.7" ry="6.6" fill="#d0a8ad" stroke="#ede5e4" stroke-width="1.3"/><ellipse rx="4.2" ry="3.6" fill="#dabbbe"/></g>
<g transform="translate(355.8 745.3) rotate(2)"><ellipse rx="9.2" ry="8.8" fill="#d0a8ad" stroke="#ede5e4" stroke-width="1.3"/><ellipse rx="5.0" ry="4.8" fill="#dabbbe"/></g>
<g transform="translate(196.0 768.4) rotate(6)"><ellipse rx="7.5" ry="6.8" fill="#d0a8ad" stroke="#ede5e4" stroke-width="1.3"/><ellipse rx="4.1" ry="3.7" fill="#dabbbe"/></g>
<g transform="translate(209.5 734.8) rotate(179)"><ellipse rx="8.5" ry="7.4" fill="#d0a8ad" stroke="#ede5e4" stroke-width="1.3"/><ellipse rx="4.7" ry="4.1" fill="#dabbbe"/></g>
<g transform="translate(312.3 964.2) rotate(43)"><ellipse rx="8.2" ry="6.8" fill="#d0a8ad" stroke="#ede5e4" stroke-width="1.3"/><ellipse rx="4.5" ry="3.8" fill="#dabbbe"/></g>
<g transform="translate(186.4 920.8) rotate(74)"><ellipse rx="8.3" ry="7.3" fill="#d0a8ad" stroke="#ede5e4" stroke-width="1.3"/><ellipse rx="4.6" ry="4.0" fill="#dabbbe"/></g>
<g transform="translate(56.0 964.3) rotate(151)"><ellipse rx="10.0" ry="8.1" fill="#d0a8ad" stroke="#ede5e4" stroke-width="1.3"/><ellipse rx="5.5" ry="4.5" fill="#dabbbe"/></g>
<g transform="translate(292.8 975.4) rotate(106)"><ellipse rx="8.2" ry="6.9" fill="#d0a8ad" stroke="#ede5e4" stroke-width="1.3"/><ellipse rx="4.5" ry="3.8" fill="#dabbbe"/></g>
<g transform="translate(342.3 832.0) rotate(64)"><ellipse rx="8.0" ry="7.2" fill="#d0a8ad" stroke="#ede5e4" stroke-width="1.3"/><ellipse rx="4.4" ry="4.0" fill="#dabbbe"/></g>
<g transform="translate(474.9 741.4) rotate(105)"><ellipse rx="9.1" ry="8.7" fill="#d0a8ad" stroke="#ede5e4" stroke-width="1.3"/><ellipse rx="5.0" ry="4.8" fill="#dabbbe"/></g>
<g transform="translate(59.8 873.2) rotate(162)"><ellipse rx="8.1" ry="7.3" fill="#d0a8ad" stroke="#ede5e4" stroke-width="1.3"/><ellipse rx="4.5" ry="4.0" fill="#dabbbe"/></g>
<g transform="translate(250.5 850.6) rotate(61)"><ellipse rx="7.7" ry="7.0" fill="#d0a8ad" stroke="#ede5e4" stroke-width="1.3"/><ellipse rx="4.2" ry="3.8" fill="#dabbbe"/></g>
<g transform="translate(184.4 862.1) rotate(132)"><ellipse rx="8.1" ry="7.0" fill="#d0a8ad" stroke="#ede5e4" stroke-width="1.3"/><ellipse rx="4.5" ry="3.8" fill="#dabbbe"/></g>
<g transform="translate(300.8 781.3) rotate(83)"><ellipse rx="7.5" ry="7.7" fill="#d0a8ad" stroke="#ede5e4" stroke-width="1.3"/><ellipse rx="4.1" ry="4.2" fill="#dabbbe"/></g>
<g transform="translate(398.8 712.2) rotate(126)"><ellipse rx="9.4" ry="7.6" fill="#d0a8ad" stroke="#ede5e4" stroke-width="1.3"/><ellipse rx="5.2" ry="4.2" fill="#dabbbe"/></g>
<g transform="translate(472.7 943.4) rotate(15)"><ellipse rx="8.6" ry="8.1" fill="#d0a8ad" stroke="#ede5e4" stroke-width="1.3"/><ellipse rx="4.7" ry="4.5" fill="#dabbbe"/></g>
<g transform="translate(470.3 994.5) rotate(148)"><ellipse rx="7.9" ry="6.9" fill="#d0a8ad" stroke="#ede5e4" stroke-width="1.3"/><ellipse rx="4.3" ry="3.8" fill="#dabbbe"/></g>
<g transform="translate(84.6 920.3) rotate(90)"><ellipse rx="8.4" ry="7.3" fill="#d0a8ad" stroke="#ede5e4" stroke-width="1.3"/><ellipse rx="4.6" ry="4.0" fill="#dabbbe"/></g>
<g transform="translate(344.6 792.4) rotate(75)"><ellipse rx="9.9" ry="8.0" fill="#d0a8ad" stroke="#ede5e4" stroke-width="1.3"/><ellipse rx="5.5" ry="4.4" fill="#dabbbe"/></g>
<g transform="translate(83.4 835.9) rotate(41)"><ellipse rx="7.5" ry="7.3" fill="#d0a8ad" stroke="#ede5e4" stroke-width="1.3"/><ellipse rx="4.1" ry="4.0" fill="#dabbbe"/></g>
<g transform="translate(81.6 847.9) rotate(139)"><ellipse rx="7.3" ry="7.1" fill="#d0a8ad" stroke="#ede5e4" stroke-width="1.3"/><ellipse rx="4.0" ry="3.9" fill="#dabbbe"/></g>
<g transform="translate(93.4 710.8) rotate(126)"><ellipse rx="8.0" ry="6.9" fill="#d0a8ad" stroke="#ede5e4" stroke-width="1.3"/><ellipse rx="4.4" ry="3.8" fill="#dabbbe"/></g>
<g transform="translate(444.6 984.6) rotate(66)"><ellipse rx="9.2" ry="7.8" fill="#d0a8ad" stroke="#ede5e4" stroke-width="1.3"/><ellipse rx="5.1" ry="4.3" fill="#dabbbe"/></g>
<g transform="translate(302.5 935.3) rotate(5)"><ellipse rx="8.3" ry="7.3" fill="#d0a8ad" stroke="#ede5e4" stroke-width="1.3"/><ellipse rx="4.6" ry="4.0" fill="#dabbbe"/></g>
<g transform="translate(431.3 789.6) rotate(21)"><ellipse rx="7.8" ry="6.7" fill="#d0a8ad" stroke="#ede5e4" stroke-width="1.3"/><ellipse rx="4.3" ry="3.7" fill="#dabbbe"/></g>
<g transform="translate(62.9 786.3) rotate(174)"><ellipse rx="8.6" ry="6.9" fill="#d0a8ad" stroke="#ede5e4" stroke-width="1.3"/><ellipse rx="4.7" ry="3.8" fill="#dabbbe"/></g>
<g transform="translate(100.5 854.5) rotate(129)"><ellipse rx="8.6" ry="6.6" fill="#d0a8ad" stroke="#ede5e4" stroke-width="1.3"/><ellipse rx="4.7" ry="3.7" fill="#dabbbe"/></g>
<g transform="translate(58.5 914.6) rotate(154)"><ellipse rx="9.5" ry="8.2" fill="#d0a8ad" stroke="#ede5e4" stroke-width="1.3"/><ellipse rx="5.2" ry="4.5" fill="#dabbbe"/></g>
<g transform="translate(60.6 1005.1) rotate(127)"><ellipse rx="8.2" ry="6.9" fill="#d0a8ad" stroke="#ede5e4" stroke-width="1.3"/><ellipse rx="4.5" ry="3.8" fill="#dabbbe"/></g>
<g transform="translate(212.3 1001.6) rotate(70)"><ellipse rx="8.0" ry="6.4" fill="#d0a8ad" stroke="#ede5e4" stroke-width="1.3"/><ellipse rx="4.4" ry="3.5" fill="#dabbbe"/></g>
<g transform="translate(270.4 809.4) rotate(139)"><ellipse rx="7.8" ry="6.9" fill="#d0a8ad" stroke="#ede5e4" stroke-width="1.3"/><ellipse rx="4.3" ry="3.8" fill="#dabbbe"/></g>
<g transform="translate(46.2 806.7) rotate(114)"><ellipse rx="8.8" ry="7.2" fill="#d0a8ad" stroke="#ede5e4" stroke-width="1.3"/><ellipse rx="4.8" ry="4.0" fill="#dabbbe"/></g>
<g transform="translate(221.2 726.1) rotate(42)"><ellipse rx="7.2" ry="6.5" fill="#d0a8ad" stroke="#ede5e4" stroke-width="1.3"/><ellipse rx="4.0" ry="3.6" fill="#dabbbe"/></g>
<g transform="translate(452.8 862.3) rotate(66)"><ellipse rx="7.6" ry="7.2" fill="#d0a8ad" stroke="#ede5e4" stroke-width="1.3"/><ellipse rx="4.2" ry="4.0" fill="#dabbbe"/></g>
<g transform="translate(385.8 865.7) rotate(106)"><ellipse rx="8.2" ry="7.8" fill="#d0a8ad" stroke="#ede5e4" stroke-width="1.3"/><ellipse rx="4.5" ry="4.3" fill="#dabbbe"/></g>
<g transform="translate(282.5 850.7) rotate(10)"><ellipse rx="7.7" ry="6.9" fill="#d0a8ad" stroke="#ede5e4" stroke-width="1.3"/><ellipse rx="4.2" ry="3.8" fill="#dabbbe"/></g>
<g transform="translate(137.9 878.5) rotate(178)"><ellipse rx="7.3" ry="6.9" fill="#d0a8ad" stroke="#ede5e4" stroke-width="1.3"/><ellipse rx="4.0" ry="3.8" fill="#dabbbe"/></g>
<g transform="translate(197.3 1024.2) rotate(126)"><ellipse rx="7.7" ry="7.0" fill="#d0a8ad" stroke="#ede5e4" stroke-width="1.3"/><ellipse rx="4.2" ry="3.9" fill="#dabbbe"/></g>
<g transform="translate(471.0 726.6) rotate(71)"><ellipse rx="8.6" ry="8.6" fill="#d0a8ad" stroke="#ede5e4" stroke-width="1.3"/><ellipse rx="4.7" ry="4.7" fill="#dabbbe"/></g>
<g transform="translate(413.8 824.1) rotate(31)"><ellipse rx="7.8" ry="6.8" fill="#d0a8ad" stroke="#ede5e4" stroke-width="1.3"/><ellipse rx="4.3" ry="3.7" fill="#dabbbe"/></g>
<g transform="translate(305.6 727.7) rotate(36)"><ellipse rx="8.8" ry="8.2" fill="#d0a8ad" stroke="#ede5e4" stroke-width="1.3"/><ellipse rx="4.9" ry="4.5" fill="#dabbbe"/></g>
<g transform="translate(210.9 929.0) rotate(99)"><ellipse rx="8.2" ry="7.3" fill="#d0a8ad" stroke="#ede5e4" stroke-width="1.3"/><ellipse rx="4.5" ry="4.0" fill="#dabbbe"/></g>
<g transform="translate(70.2 967.9) rotate(37)"><ellipse rx="7.9" ry="7.1" fill="#d0a8ad" stroke="#ede5e4" stroke-width="1.3"/><ellipse rx="4.3" ry="3.9" fill="#dabbbe"/></g>
<g transform="translate(376.0 936.6) rotate(49)"><ellipse rx="7.3" ry="6.7" fill="#d0a8ad" stroke="#ede5e4" stroke-width="1.3"/><ellipse rx="4.0" ry="3.7" fill="#dabbbe"/></g>
<g transform="translate(332.5 857.3) rotate(98)"><ellipse rx="7.9" ry="6.7" fill="#d0a8ad" stroke="#ede5e4" stroke-width="1.3"/><ellipse rx="4.4" ry="3.7" fill="#dabbbe"/></g>
<g transform="translate(353.8 919.7) rotate(48)"><ellipse rx="7.4" ry="6.7" fill="#d0a8ad" stroke="#ede5e4" stroke-width="1.3"/><ellipse rx="4.0" ry="3.7" fill="#dabbbe"/></g>
<g transform="translate(342.8 998.6) rotate(117)"><ellipse rx="8.1" ry="6.9" fill="#d0a8ad" stroke="#ede5e4" stroke-width="1.3"/><ellipse rx="4.5" ry="3.8" fill="#dabbbe"/></g>
<g transform="translate(125.2 909.2) rotate(145)"><ellipse rx="8.4" ry="7.5" fill="#d0a8ad" stroke="#ede5e4" stroke-width="1.3"/><ellipse rx="4.6" ry="4.1" fill="#dabbbe"/></g>
<g transform="translate(66.0 886.7) rotate(164)"><ellipse rx="7.6" ry="6.6" fill="#d0a8ad" stroke="#ede5e4" stroke-width="1.3"/><ellipse rx="4.2" ry="3.6" fill="#dabbbe"/></g>
<g transform="translate(95.4 741.5) rotate(144)"><ellipse rx="7.8" ry="7.0" fill="#d0a8ad" stroke="#ede5e4" stroke-width="1.3"/><ellipse rx="4.3" ry="3.9" fill="#dabbbe"/></g>
<g transform="translate(102.2 830.3) rotate(93)"><ellipse rx="8.1" ry="7.1" fill="#d0a8ad" stroke="#ede5e4" stroke-width="1.3"/><ellipse rx="4.5" ry="3.9" fill="#dabbbe"/></g>
<g transform="translate(256.5 734.4) rotate(72)"><ellipse rx="7.3" ry="7.1" fill="#d0a8ad" stroke="#ede5e4" stroke-width="1.3"/><ellipse rx="4.0" ry="3.9" fill="#dabbbe"/></g>
<g transform="translate(368.9 819.4) rotate(154)"><ellipse rx="8.7" ry="7.3" fill="#d0a8ad" stroke="#ede5e4" stroke-width="1.3"/><ellipse rx="4.8" ry="4.0" fill="#dabbbe"/></g>
<g transform="translate(402.3 779.0) rotate(147)"><ellipse rx="7.9" ry="7.0" fill="#d0a8ad" stroke="#ede5e4" stroke-width="1.3"/><ellipse rx="4.4" ry="3.9" fill="#dabbbe"/></g>
<g transform="translate(387.1 911.5) rotate(46)"><ellipse rx="8.0" ry="7.4" fill="#d0a8ad" stroke="#ede5e4" stroke-width="1.3"/><ellipse rx="4.4" ry="4.1" fill="#dabbbe"/></g>
<g transform="translate(327.6 935.0) rotate(89)"><ellipse rx="7.7" ry="6.9" fill="#d0a8ad" stroke="#ede5e4" stroke-width="1.3"/><ellipse rx="4.2" ry="3.8" fill="#dabbbe"/></g>
<g transform="translate(292.4 721.9) rotate(176)"><ellipse rx="8.6" ry="7.8" fill="#d0a8ad" stroke="#ede5e4" stroke-width="1.3"/><ellipse rx="4.7" ry="4.3" fill="#dabbbe"/></g>
<g transform="translate(160.7 795.0) rotate(122)"><ellipse rx="8.7" ry="7.3" fill="#d0a8ad" stroke="#ede5e4" stroke-width="1.3"/><ellipse rx="4.8" ry="4.0" fill="#dabbbe"/></g>
<g transform="translate(344.7 955.5) rotate(129)"><ellipse rx="7.9" ry="7.2" fill="#d0a8ad" stroke="#ede5e4" stroke-width="1.3"/><ellipse rx="4.4" ry="4.0" fill="#dabbbe"/></g>
<g transform="translate(141.5 819.1) rotate(83)"><ellipse rx="7.2" ry="6.8" fill="#d0a8ad" stroke="#ede5e4" stroke-width="1.3"/><ellipse rx="4.0" ry="3.8" fill="#dabbbe"/></g>
<g transform="translate(386.1 1024.2) rotate(121)"><ellipse rx="7.9" ry="6.8" fill="#d0a8ad" stroke="#ede5e4" stroke-width="1.3"/><ellipse rx="4.3" ry="3.8" fill="#dabbbe"/></g>
<g transform="translate(211.6 874.9) rotate(75)"><ellipse rx="8.4" ry="6.9" fill="#d0a8ad" stroke="#ede5e4" stroke-width="1.3"/><ellipse rx="4.6" ry="3.8" fill="#dabbbe"/></g>
<g transform="translate(136.4 998.3) rotate(94)"><ellipse rx="7.1" ry="7.0" fill="#d0a8ad" stroke="#ede5e4" stroke-width="1.3"/><ellipse rx="3.9" ry="3.8" fill="#dabbbe"/></g>
<g transform="translate(61.5 831.0) rotate(110)"><ellipse rx="7.9" ry="6.4" fill="#d0a8ad" stroke="#ede5e4" stroke-width="1.3"/><ellipse rx="4.3" ry="3.5" fill="#dabbbe"/></g>
<g transform="translate(220.6 852.9) rotate(165)"><ellipse rx="7.9" ry="6.8" fill="#d0a8ad" stroke="#ede5e4" stroke-width="1.3"/><ellipse rx="4.3" ry="3.8" fill="#dabbbe"/></g>
<g transform="translate(445.8 764.3) rotate(122)"><ellipse rx="8.6" ry="7.9" fill="#d0a8ad" stroke="#ede5e4" stroke-width="1.3"/><ellipse rx="4.7" ry="4.3" fill="#dabbbe"/></g>
<g transform="translate(74.5 1024.8) rotate(86)"><ellipse rx="10.0" ry="8.2" fill="#d0a8ad" stroke="#ede5e4" stroke-width="1.3"/><ellipse rx="5.5" ry="4.5" fill="#dabbbe"/></g>
<g transform="translate(60.6 733.7) rotate(82)"><ellipse rx="8.1" ry="7.2" fill="#d0a8ad" stroke="#ede5e4" stroke-width="1.3"/><ellipse rx="4.5" ry="4.0" fill="#dabbbe"/></g>
<g transform="translate(124.8 933.9) rotate(137)"><ellipse rx="8.3" ry="7.0" fill="#d0a8ad" stroke="#ede5e4" stroke-width="1.3"/><ellipse rx="4.6" ry="3.9" fill="#dabbbe"/></g>
<g transform="translate(268.3 881.2) rotate(109)"><ellipse rx="9.0" ry="8.7" fill="#d0a8ad" stroke="#ede5e4" stroke-width="1.3"/><ellipse rx="4.9" ry="4.8" fill="#dabbbe"/></g>
<g transform="translate(413.7 891.2) rotate(67)"><ellipse rx="8.4" ry="7.1" fill="#d0a8ad" stroke="#ede5e4" stroke-width="1.3"/><ellipse rx="4.6" ry="3.9" fill="#dabbbe"/></g>
<g transform="translate(380.3 840.9) rotate(14)"><ellipse rx="7.8" ry="6.6" fill="#d0a8ad" stroke="#ede5e4" stroke-width="1.3"/><ellipse rx="4.3" ry="3.6" fill="#dabbbe"/></g>
<g transform="translate(431.8 848.8) rotate(116)"><ellipse rx="8.2" ry="7.5" fill="#d0a8ad" stroke="#ede5e4" stroke-width="1.3"/><ellipse rx="4.5" ry="4.1" fill="#dabbbe"/></g>
<g transform="translate(421.8 984.3) rotate(33)"><ellipse rx="8.6" ry="7.3" fill="#d0a8ad" stroke="#ede5e4" stroke-width="1.3"/><ellipse rx="4.7" ry="4.0" fill="#dabbbe"/></g>
<g transform="translate(310.0 756.3) rotate(98)"><ellipse rx="8.0" ry="6.8" fill="#d0a8ad" stroke="#ede5e4" stroke-width="1.3"/><ellipse rx="4.4" ry="3.7" fill="#dabbbe"/></g>
<g transform="translate(278.9 825.5) rotate(91)"><ellipse rx="8.5" ry="6.8" fill="#d0a8ad" stroke="#ede5e4" stroke-width="1.3"/><ellipse rx="4.7" ry="3.8" fill="#dabbbe"/></g>
<g transform="translate(296.3 819.5) rotate(1)"><ellipse rx="9.1" ry="8.8" fill="#d0a8ad" stroke="#ede5e4" stroke-width="1.3"/><ellipse rx="5.0" ry="4.8" fill="#dabbbe"/></g>
<g transform="translate(142.2 793.2) rotate(42)"><ellipse rx="8.4" ry="6.8" fill="#d0a8ad" stroke="#ede5e4" stroke-width="1.3"/><ellipse rx="4.6" ry="3.7" fill="#dabbbe"/></g>
<g transform="translate(226.3 757.6) rotate(160)"><ellipse rx="9.1" ry="7.5" fill="#d0a8ad" stroke="#ede5e4" stroke-width="1.3"/><ellipse rx="5.0" ry="4.1" fill="#dabbbe"/></g>
<g transform="translate(237.9 1003.9) rotate(121)"><ellipse rx="8.1" ry="7.7" fill="#d0a8ad" stroke="#ede5e4" stroke-width="1.3"/><ellipse rx="4.5" ry="4.2" fill="#dabbbe"/></g>
<g transform="translate(317.2 990.6) rotate(154)"><ellipse rx="8.1" ry="7.3" fill="#d0a8ad" stroke="#ede5e4" stroke-width="1.3"/><ellipse rx="4.5" ry="4.0" fill="#dabbbe"/></g>
<g transform="translate(93.7 891.7) rotate(128)"><ellipse rx="7.6" ry="7.7" fill="#d0a8ad" stroke="#ede5e4" stroke-width="1.3"/><ellipse rx="4.2" ry="4.2" fill="#dabbbe"/></g>
<g transform="translate(272.8 761.5) rotate(114)"><ellipse rx="7.9" ry="8.2" fill="#d0a8ad" stroke="#ede5e4" stroke-width="1.3"/><ellipse rx="4.4" ry="4.5" fill="#dabbbe"/></g>
<g transform="translate(186.2 937.7) rotate(95)"><ellipse rx="7.5" ry="6.5" fill="#d0a8ad" stroke="#ede5e4" stroke-width="1.3"/><ellipse rx="4.1" ry="3.6" fill="#dabbbe"/></g>
<g transform="translate(293.2 1023.5) rotate(62)"><ellipse rx="8.1" ry="7.8" fill="#d0a8ad" stroke="#ede5e4" stroke-width="1.3"/><ellipse rx="4.5" ry="4.3" fill="#dabbbe"/></g>
<g transform="translate(295.2 796.3) rotate(19)"><ellipse rx="8.0" ry="6.8" fill="#d0a8ad" stroke="#ede5e4" stroke-width="1.3"/><ellipse rx="4.4" ry="3.7" fill="#dabbbe"/></g>
<g transform="translate(286.1 762.0) rotate(55)"><ellipse rx="7.9" ry="7.6" fill="#d0a8ad" stroke="#ede5e4" stroke-width="1.3"/><ellipse rx="4.4" ry="4.2" fill="#dabbbe"/></g>
<g transform="translate(233.6 940.2) rotate(95)"><ellipse rx="8.1" ry="6.7" fill="#d0a8ad" stroke="#ede5e4" stroke-width="1.3"/><ellipse rx="4.4" ry="3.7" fill="#dabbbe"/></g>
<g transform="translate(341.1 940.9) rotate(160)"><ellipse rx="8.7" ry="7.6" fill="#d0a8ad" stroke="#ede5e4" stroke-width="1.3"/><ellipse rx="4.8" ry="4.2" fill="#dabbbe"/></g>
<g transform="translate(77.5 978.5) rotate(31)"><ellipse rx="8.5" ry="7.2" fill="#d0a8ad" stroke="#ede5e4" stroke-width="1.3"/><ellipse rx="4.7" ry="4.0" fill="#dabbbe"/></g>
<g transform="translate(460.2 710.1) rotate(129)"><ellipse rx="7.5" ry="7.2" fill="#d0a8ad" stroke="#ede5e4" stroke-width="1.3"/><ellipse rx="4.1" ry="4.0" fill="#dabbbe"/></g>
<g transform="translate(111.3 876.0) rotate(157)"><ellipse rx="7.3" ry="6.8" fill="#d0a8ad" stroke="#ede5e4" stroke-width="1.3"/><ellipse rx="4.0" ry="3.7" fill="#dabbbe"/></g>
<g transform="translate(106.3 816.2) rotate(83)"><ellipse rx="8.7" ry="7.8" fill="#d0a8ad" stroke="#ede5e4" stroke-width="1.3"/><ellipse rx="4.8" ry="4.3" fill="#dabbbe"/></g>
<g transform="translate(185.4 727.9) rotate(169)"><ellipse rx="7.8" ry="8.0" fill="#d0a8ad" stroke="#ede5e4" stroke-width="1.3"/><ellipse rx="4.3" ry="4.4" fill="#dabbbe"/></g>
<g transform="translate(286.6 862.4) rotate(166)"><ellipse rx="8.5" ry="7.2" fill="#d0a8ad" stroke="#ede5e4" stroke-width="1.3"/><ellipse rx="4.7" ry="3.9" fill="#dabbbe"/></g>
<g transform="translate(146.2 831.9) rotate(60)"><ellipse rx="9.1" ry="7.8" fill="#d0a8ad" stroke="#ede5e4" stroke-width="1.3"/><ellipse rx="5.0" ry="4.3" fill="#dabbbe"/></g>
<g transform="translate(112.6 796.9) rotate(154)"><ellipse rx="8.3" ry="7.6" fill="#d0a8ad" stroke="#ede5e4" stroke-width="1.3"/><ellipse rx="4.6" ry="4.2" fill="#dabbbe"/></g>
<g transform="translate(313.5 892.1) rotate(5)"><ellipse rx="8.9" ry="7.6" fill="#d0a8ad" stroke="#ede5e4" stroke-width="1.3"/><ellipse rx="4.9" ry="4.2" fill="#dabbbe"/></g>
<g transform="translate(127.3 821.9) rotate(31)"><ellipse rx="8.0" ry="7.2" fill="#d0a8ad" stroke="#ede5e4" stroke-width="1.3"/><ellipse rx="4.4" ry="4.0" fill="#dabbbe"/></g>
<g transform="translate(235.7 871.1) rotate(13)"><ellipse rx="7.7" ry="7.8" fill="#d0a8ad" stroke="#ede5e4" stroke-width="1.3"/><ellipse rx="4.2" ry="4.3" fill="#dabbbe"/></g>
<g transform="translate(170.5 754.4) rotate(161)"><ellipse rx="7.5" ry="7.1" fill="#d0a8ad" stroke="#ede5e4" stroke-width="1.3"/><ellipse rx="4.1" ry="3.9" fill="#dabbbe"/></g>
<g transform="translate(439.9 710.6) rotate(97)"><ellipse rx="8.2" ry="6.4" fill="#d0a8ad" stroke="#ede5e4" stroke-width="1.3"/><ellipse rx="4.5" ry="3.5" fill="#dabbbe"/></g>
<g transform="translate(73.8 751.6) rotate(134)"><ellipse rx="7.3" ry="7.0" fill="#d0a8ad" stroke="#ede5e4" stroke-width="1.3"/><ellipse rx="4.0" ry="3.8" fill="#dabbbe"/></g>
<g transform="translate(273.2 999.3) rotate(166)"><ellipse rx="7.2" ry="7.4" fill="#d0a8ad" stroke="#ede5e4" stroke-width="1.3"/><ellipse rx="4.0" ry="4.1" fill="#dabbbe"/></g>
<g transform="translate(350.1 763.6) rotate(1)"><ellipse rx="8.6" ry="7.9" fill="#d0a8ad" stroke="#ede5e4" stroke-width="1.3"/><ellipse rx="4.7" ry="4.4" fill="#dabbbe"/></g>
<g transform="translate(82.9 775.3) rotate(160)"><ellipse rx="8.8" ry="7.5" fill="#d0a8ad" stroke="#ede5e4" stroke-width="1.3"/><ellipse rx="4.8" ry="4.1" fill="#dabbbe"/></g>
<g transform="translate(138.4 971.4) rotate(45)"><ellipse rx="7.7" ry="6.9" fill="#d0a8ad" stroke="#ede5e4" stroke-width="1.3"/><ellipse rx="4.2" ry="3.8" fill="#dabbbe"/></g>
<g transform="translate(162.4 999.3) rotate(116)"><ellipse rx="8.2" ry="7.6" fill="#d0a8ad" stroke="#ede5e4" stroke-width="1.3"/><ellipse rx="4.5" ry="4.2" fill="#dabbbe"/></g>
<g transform="translate(474.9 973.0) rotate(115)"><ellipse rx="7.5" ry="6.7" fill="#d0a8ad" stroke="#ede5e4" stroke-width="1.3"/><ellipse rx="4.1" ry="3.7" fill="#dabbbe"/></g>
<g transform="translate(83.2 805.4) rotate(58)"><ellipse rx="8.1" ry="6.8" fill="#d0a8ad" stroke="#ede5e4" stroke-width="1.3"/><ellipse rx="4.5" ry="3.8" fill="#dabbbe"/></g>
<g transform="translate(408.4 807.9) rotate(136)"><ellipse rx="8.3" ry="7.0" fill="#d0a8ad" stroke="#ede5e4" stroke-width="1.3"/><ellipse rx="4.6" ry="3.9" fill="#dabbbe"/></g>
<g transform="translate(125.8 799.4) rotate(143)"><ellipse rx="7.8" ry="7.2" fill="#d0a8ad" stroke="#ede5e4" stroke-width="1.3"/><ellipse rx="4.3" ry="4.0" fill="#dabbbe"/></g>
<g transform="translate(415.5 996.1) rotate(159)"><ellipse rx="8.4" ry="7.2" fill="#d0a8ad" stroke="#ede5e4" stroke-width="1.3"/><ellipse rx="4.6" ry="4.0" fill="#dabbbe"/></g>
<g transform="translate(111.1 734.6) rotate(18)"><ellipse rx="7.6" ry="7.3" fill="#d0a8ad" stroke="#ede5e4" stroke-width="1.3"/><ellipse rx="4.2" ry="4.0" fill="#dabbbe"/></g>
<g transform="translate(45.1 910.6) rotate(150)"><ellipse rx="8.9" ry="8.7" fill="#d0a8ad" stroke="#ede5e4" stroke-width="1.3"/><ellipse rx="4.9" ry="4.8" fill="#dabbbe"/></g>
<g transform="translate(180.9 850.0) rotate(29)"><ellipse rx="7.2" ry="7.2" fill="#d0a8ad" stroke="#ede5e4" stroke-width="1.3"/><ellipse rx="4.0" ry="4.0" fill="#dabbbe"/></g>
<g transform="translate(290.9 710.2) rotate(1)"><ellipse rx="7.6" ry="7.2" fill="#d0a8ad" stroke="#ede5e4" stroke-width="1.3"/><ellipse rx="4.2" ry="4.0" fill="#dabbbe"/></g>
<g transform="translate(303.9 949.6) rotate(62)"><ellipse rx="8.3" ry="7.4" fill="#d0a8ad" stroke="#ede5e4" stroke-width="1.3"/><ellipse rx="4.6" ry="4.1" fill="#dabbbe"/></g>
<g transform="translate(329.7 1010.9) rotate(81)"><ellipse rx="8.6" ry="7.1" fill="#d0a8ad" stroke="#ede5e4" stroke-width="1.3"/><ellipse rx="4.7" ry="3.9" fill="#dabbbe"/></g>
<g transform="translate(54.2 843.3) rotate(52)"><ellipse rx="8.4" ry="7.2" fill="#d0a8ad" stroke="#ede5e4" stroke-width="1.3"/><ellipse rx="4.6" ry="4.0" fill="#dabbbe"/></g>
<g transform="translate(459.1 928.2) rotate(151)"><ellipse rx="8.3" ry="7.2" fill="#d0a8ad" stroke="#ede5e4" stroke-width="1.3"/><ellipse rx="4.6" ry="4.0" fill="#dabbbe"/></g>
<g transform="translate(445.7 729.0) rotate(25)"><ellipse rx="8.3" ry="8.1" fill="#d0a8ad" stroke="#ede5e4" stroke-width="1.3"/><ellipse rx="4.6" ry="4.4" fill="#dabbbe"/></g>
<g transform="translate(167.5 897.3) rotate(28)"><ellipse rx="7.9" ry="7.8" fill="#d0a8ad" stroke="#ede5e4" stroke-width="1.3"/><ellipse rx="4.4" ry="4.3" fill="#dabbbe"/></g>
<g transform="translate(63.7 992.3) rotate(1)"><ellipse rx="7.9" ry="7.2" fill="#d0a8ad" stroke="#ede5e4" stroke-width="1.3"/><ellipse rx="4.4" ry="3.9" fill="#dabbbe"/></g>
<g transform="translate(412.2 913.5) rotate(127)"><ellipse rx="7.6" ry="7.1" fill="#d0a8ad" stroke="#ede5e4" stroke-width="1.3"/><ellipse rx="4.2" ry="3.9" fill="#dabbbe"/></g>
<g transform="translate(255.0 754.9) rotate(34)"><ellipse rx="7.8" ry="6.7" fill="#d0a8ad" stroke="#ede5e4" stroke-width="1.3"/><ellipse rx="4.3" ry="3.7" fill="#dabbbe"/></g>
<g transform="translate(217.1 894.5) rotate(105)"><ellipse rx="7.6" ry="7.6" fill="#d0a8ad" stroke="#ede5e4" stroke-width="1.3"/><ellipse rx="4.2" ry="4.2" fill="#dabbbe"/></g>
<g transform="translate(474.7 836.4) rotate(14)"><ellipse rx="7.2" ry="7.0" fill="#d0a8ad" stroke="#ede5e4" stroke-width="1.3"/><ellipse rx="4.0" ry="3.9" fill="#dabbbe"/></g>
<g transform="translate(337.0 741.9) rotate(28)"><ellipse rx="8.0" ry="7.6" fill="#d0a8ad" stroke="#ede5e4" stroke-width="1.3"/><ellipse rx="4.4" ry="4.2" fill="#dabbbe"/></g>
<g transform="translate(112.4 1013.5) rotate(88)"><ellipse rx="7.6" ry="7.0" fill="#d0a8ad" stroke="#ede5e4" stroke-width="1.3"/><ellipse rx="4.2" ry="3.8" fill="#dabbbe"/></g>
<g transform="translate(316.4 977.7) rotate(79)"><ellipse rx="8.3" ry="7.0" fill="#d0a8ad" stroke="#ede5e4" stroke-width="1.3"/><ellipse rx="4.6" ry="3.9" fill="#dabbbe"/></g>
<g transform="translate(459.2 747.9) rotate(154)"><ellipse rx="8.2" ry="7.3" fill="#d0a8ad" stroke="#ede5e4" stroke-width="1.3"/><ellipse rx="4.5" ry="4.0" fill="#dabbbe"/></g>
<g transform="translate(217.6 777.3) rotate(21)"><ellipse rx="8.0" ry="6.7" fill="#d0a8ad" stroke="#ede5e4" stroke-width="1.3"/><ellipse rx="4.4" ry="3.7" fill="#dabbbe"/></g>
<g transform="translate(102.2 913.7) rotate(159)"><ellipse rx="7.8" ry="7.5" fill="#d0a8ad" stroke="#ede5e4" stroke-width="1.3"/><ellipse rx="4.3" ry="4.2" fill="#dabbbe"/></g>
<g transform="translate(352.4 838.4) rotate(10)"><ellipse rx="7.9" ry="7.6" fill="#d0a8ad" stroke="#ede5e4" stroke-width="1.3"/><ellipse rx="4.4" ry="4.2" fill="#dabbbe"/></g>
<g transform="translate(66.9 900.9) rotate(146)"><ellipse rx="8.4" ry="7.7" fill="#d0a8ad" stroke="#ede5e4" stroke-width="1.3"/><ellipse rx="4.6" ry="4.2" fill="#dabbbe"/></g>
<g transform="translate(385.3 945.5) rotate(139)"><ellipse rx="7.5" ry="6.8" fill="#d0a8ad" stroke="#ede5e4" stroke-width="1.3"/><ellipse rx="4.1" ry="3.7" fill="#dabbbe"/></g>
<g transform="translate(171.2 966.3) rotate(53)"><ellipse rx="8.7" ry="7.3" fill="#d0a8ad" stroke="#ede5e4" stroke-width="1.3"/><ellipse rx="4.8" ry="4.0" fill="#dabbbe"/></g>
<g transform="translate(405.6 879.7) rotate(86)"><ellipse rx="7.5" ry="7.7" fill="#d0a8ad" stroke="#ede5e4" stroke-width="1.3"/><ellipse rx="4.1" ry="4.2" fill="#dabbbe"/></g>
<g transform="translate(349.6 932.7) rotate(23)"><ellipse rx="7.7" ry="6.5" fill="#d0a8ad" stroke="#ede5e4" stroke-width="1.3"/><ellipse rx="4.2" ry="3.6" fill="#dabbbe"/></g>
<g transform="translate(473.7 802.7) rotate(86)"><ellipse rx="7.5" ry="7.1" fill="#d0a8ad" stroke="#ede5e4" stroke-width="1.3"/><ellipse rx="4.1" ry="3.9" fill="#dabbbe"/></g>
<g transform="translate(411.5 856.7) rotate(98)"><ellipse rx="8.5" ry="6.9" fill="#d0a8ad" stroke="#ede5e4" stroke-width="1.3"/><ellipse rx="4.7" ry="3.8" fill="#dabbbe"/></g>
<g transform="translate(459.2 765.5) rotate(29)"><ellipse rx="7.8" ry="7.1" fill="#d0a8ad" stroke="#ede5e4" stroke-width="1.3"/><ellipse rx="4.3" ry="3.9" fill="#dabbbe"/></g>
<g transform="translate(46.0 754.4) rotate(108)"><ellipse rx="8.5" ry="7.4" fill="#d0a8ad" stroke="#ede5e4" stroke-width="1.3"/><ellipse rx="4.7" ry="4.1" fill="#dabbbe"/></g>
<g transform="translate(368.7 892.2) rotate(161)"><ellipse rx="8.5" ry="7.5" fill="#d0a8ad" stroke="#ede5e4" stroke-width="1.3"/><ellipse rx="4.7" ry="4.1" fill="#dabbbe"/></g>
<g transform="translate(47.1 819.9) rotate(90)"><ellipse rx="7.9" ry="6.8" fill="#d0a8ad" stroke="#ede5e4" stroke-width="1.3"/><ellipse rx="4.4" ry="3.8" fill="#dabbbe"/></g>
<g transform="translate(465.3 904.8) rotate(63)"><ellipse rx="8.6" ry="7.0" fill="#d0a8ad" stroke="#ede5e4" stroke-width="1.3"/><ellipse rx="4.7" ry="3.9" fill="#dabbbe"/></g>
<g transform="translate(384.8 972.8) rotate(142)"><ellipse rx="8.7" ry="7.7" fill="#d0a8ad" stroke="#ede5e4" stroke-width="1.3"/><ellipse rx="4.8" ry="4.2" fill="#dabbbe"/></g>
<g transform="translate(406.7 760.1) rotate(134)"><ellipse rx="7.8" ry="6.7" fill="#d0a8ad" stroke="#ede5e4" stroke-width="1.3"/><ellipse rx="4.3" ry="3.7" fill="#dabbbe"/></g>
<g transform="translate(146.9 920.3) rotate(71)"><ellipse rx="7.2" ry="7.4" fill="#d0a8ad" stroke="#ede5e4" stroke-width="1.3"/><ellipse rx="4.0" ry="4.1" fill="#dabbbe"/></g>
<ellipse cx="315.5" cy="726" rx="6" ry="5" fill="#9484cc" opacity="0.675"/>
<ellipse cx="458" cy="730" rx="5" ry="7" fill="#9484cc" opacity="0.54"/>
<ellipse cx="386.8" cy="829" rx="7" ry="6" fill="#9484cc" opacity="0.6075"/>
<ellipse cx="353" cy="773.5" rx="6" ry="6" fill="#9484cc" opacity="0.3375"/>
<ellipse cx="100.3" cy="924.1" rx="6" ry="6" fill="#9484cc" opacity="0.81"/>
<ellipse cx="218.6" cy="937.9" rx="7" ry="6" fill="#9484cc" opacity="0.81"/>
<ellipse cx="224.5" cy="969.5" rx="6" ry="6" fill="#9484cc" opacity="0.4725"/>
<ellipse cx="66.8" cy="969.5" rx="7" ry="7" fill="#9484cc" opacity="0.54"/>
<ellipse cx="129.9" cy="999" rx="7" ry="7" fill="#9484cc" opacity="0.4725"/>
<ellipse cx="74.7" cy="999" rx="6" ry="6" fill="#9484cc" opacity="0.405"/>
<ellipse cx="311.5" cy="898.5" rx="7" ry="7" fill="#9484cc" opacity="0.675"/>
<ellipse cx="323.4" cy="936.3" rx="7" ry="6" fill="#9484cc" opacity="0.4725"/>
<ellipse cx="388.8" cy="916.5" rx="6" ry="6" fill="#9484cc" opacity="0.675"/>
<ellipse cx="434.4" cy="876.9" rx="6" ry="6" fill="#9484cc" opacity="0.4725"/>
<ellipse cx="271.9" cy="912.5" rx="6" ry="6" fill="#9484cc" opacity="0.405"/>
<ellipse cx="135" cy="733" rx="6" ry="5" fill="#9484cc" opacity="0.4725"/>
<ellipse cx="190" cy="730" rx="5" ry="5" fill="#9484cc" opacity="0.4725"/>
<ellipse cx="331" cy="865" rx="6" ry="6" fill="#9484cc" opacity="0.405"/>
<ellipse cx="455" cy="860" rx="5" ry="6" fill="#9484cc" opacity="0.405"/>
<ellipse cx="420" cy="955" rx="6" ry="6" fill="#9484cc" opacity="0.405"/>
<ellipse cx="328.5" cy="754.8" rx="1.8" ry="1.8" fill="#7d5db5" opacity="0.9"/>
<ellipse cx="369" cy="803" rx="1.8" ry="1.8" fill="#7d5db5" opacity="0.9"/>
<ellipse cx="212.7" cy="955.7" rx="1.8" ry="1.8" fill="#7d5db5" opacity="0.9"/>
<ellipse cx="161.4" cy="959.6" rx="1.8" ry="1.8" fill="#7d5db5" opacity="0.9"/>
<ellipse cx="426.4" cy="966" rx="1.8" ry="1.8" fill="#7d5db5" opacity="0.9"/>
<ellipse cx="218" cy="797" rx="1.8" ry="1.8" fill="#7d5db5" opacity="0.9"/>
<ellipse cx="286.3315047792865" cy="797.6192091541433" rx="1.5" ry="1.5" fill="#8a6cc0" opacity="0.9"/>
<ellipse cx="288.1793723316731" cy="798.4548805403467" rx="1.5" ry="1.5" fill="#8a6cc0" opacity="0.9"/>
<ellipse cx="291.76008425751274" cy="790.9174040293574" rx="1.5" ry="1.5" fill="#8a6cc0" opacity="0.9"/>
<ellipse cx="283.18435188176824" cy="801.7245671493505" rx="1.5" ry="1.5" fill="#8a6cc0" opacity="0.9"/>
<ellipse cx="286.6309562005921" cy="793.2806334546538" rx="1.5" ry="1.5" fill="#8a6cc0" opacity="0.9"/>
<ellipse cx="296.93902769714646" cy="796.5836891053143" rx="1.5" ry="1.5" fill="#8a6cc0" opacity="0.9"/>
<ellipse cx="294.71046031784147" cy="796.6689449217907" rx="1.5" ry="1.5" fill="#8a6cc0" opacity="0.9"/>
<ellipse cx="291.94695396761824" cy="792.1086299363293" rx="1.5" ry="1.5" fill="#8a6cc0" opacity="0.9"/>
<ellipse cx="291.8880492159926" cy="802.1526343000062" rx="1.5" ry="1.5" fill="#8a6cc0" opacity="0.9"/>
<ellipse cx="290.3245369453662" cy="800.3775259868208" rx="1.5" ry="1.5" fill="#8a6cc0" opacity="0.9"/>
<ellipse cx="292.3997606551743" cy="790.896440135178" rx="1.5" ry="1.5" fill="#8a6cc0" opacity="0.9"/>
<ellipse cx="293.61522344801546" cy="798.2753941610384" rx="1.5" ry="1.5" fill="#8a6cc0" opacity="0.9"/>
<ellipse cx="287.21774723322" cy="790.4341645205765" rx="1.5" ry="1.5" fill="#8a6cc0" opacity="0.9"/>
<ellipse cx="295.1173813177052" cy="796.6184872413165" rx="1.5" ry="1.5" fill="#8a6cc0" opacity="0.9"/>
</g>
<ellipse cx="252" cy="822" rx="30" ry="18.5" fill="#f6f2f4" filter="url(#bl2)"/>
<g filter="url(#bl)">
<path d="M200 826L206 818L215 815L228 817L236 823L244 832L256 838L266 835L278 836L283 842L282 858L275 868L262 872L245 876L228 877L212 872L202 862L198 848Z" fill="#e6deef" filter="url(#bl2)"/>
<ellipse cx="235.8" cy="849.8" rx="2.3393684672189834" ry="2.3393684672189834" fill="#8570c4" opacity="0.8"/>
<ellipse cx="237.0" cy="846.5" rx="2.0699078630799175" ry="2.0699078630799175" fill="#8570c4" opacity="0.8"/>
<ellipse cx="212.3" cy="846.8" rx="2.1039061761734414" ry="2.1039061761734414" fill="#8570c4" opacity="0.8"/>
<ellipse cx="222.7" cy="819.8" rx="2.2477156274937418" ry="2.2477156274937418" fill="#8570c4" opacity="0.8"/>
<ellipse cx="253.5" cy="853.4" rx="1.72599527611213" ry="1.72599527611213" fill="#8570c4" opacity="0.8"/>
<ellipse cx="201.2" cy="826.2" rx="1.793554410932172" ry="1.793554410932172" fill="#8570c4" opacity="0.8"/>
<ellipse cx="198.6" cy="843.7" rx="1.9524248933253254" ry="1.9524248933253254" fill="#8570c4" opacity="0.8"/>
<ellipse cx="270.1" cy="847.2" rx="2.1122333663353414" ry="2.1122333663353414" fill="#8570c4" opacity="0.8"/>
<ellipse cx="240.0" cy="856.4" rx="1.965863905279646" ry="1.965863905279646" fill="#8570c4" opacity="0.8"/>
<ellipse cx="216.2" cy="832.5" rx="1.656178799647941" ry="1.656178799647941" fill="#8570c4" opacity="0.8"/>
<ellipse cx="263.4" cy="839.6" rx="2.277266897504943" ry="2.277266897504943" fill="#8570c4" opacity="0.8"/>
<ellipse cx="230.0" cy="875.3" rx="2.2778478186422433" ry="2.2778478186422433" fill="#8570c4" opacity="0.8"/>
<ellipse cx="276.1" cy="844.1" rx="2.3842871529394336" ry="2.3842871529394336" fill="#8570c4" opacity="0.8"/>
<ellipse cx="251.4" cy="863.8" rx="1.815820469480114" ry="1.815820469480114" fill="#8570c4" opacity="0.8"/>
<ellipse cx="203.7" cy="835.3" rx="2.371260973275011" ry="2.371260973275011" fill="#8570c4" opacity="0.8"/>
<ellipse cx="217.7" cy="820.5" rx="1.6479147223528614" ry="1.6479147223528614" fill="#8570c4" opacity="0.8"/>
<ellipse cx="245.2" cy="842.6" rx="1.752547532232293" ry="1.752547532232293" fill="#8570c4" opacity="0.8"/>
<ellipse cx="233.0" cy="827.6" rx="1.8158359817524787" ry="1.8158359817524787" fill="#8570c4" opacity="0.8"/>
<ellipse cx="222.8" cy="870.6" rx="1.7685681771475517" ry="1.7685681771475517" fill="#8570c4" opacity="0.8"/>
<ellipse cx="230.7" cy="868.7" rx="2.1134685252723684" ry="2.1134685252723684" fill="#8570c4" opacity="0.8"/>
<ellipse cx="214.8" cy="830.5" rx="2.2181517518182585" ry="2.2181517518182585" fill="#8570c4" opacity="0.8"/>
<ellipse cx="224.9" cy="833.0" rx="1.6587188427107393" ry="1.6587188427107393" fill="#8570c4" opacity="0.8"/>
<ellipse cx="203.9" cy="851.3" rx="1.7944103361100499" ry="1.7944103361100499" fill="#8570c4" opacity="0.8"/>
<ellipse cx="248.9" cy="837.8" rx="1.9625664837790793" ry="1.9625664837790793" fill="#8570c4" opacity="0.8"/>
<ellipse cx="280.4" cy="845.0" rx="2.059656996343958" ry="2.059656996343958" fill="#8570c4" opacity="0.8"/>
<ellipse cx="212.7" cy="861.3" rx="2.352323916875906" ry="2.352323916875906" fill="#8570c4" opacity="0.8"/>
<ellipse cx="273.6" cy="852.6" rx="1.9371657791578862" ry="1.9371657791578862" fill="#8570c4" opacity="0.8"/>
<ellipse cx="268.5" cy="852.2" rx="1.8347482771877897" ry="1.8347482771877897" fill="#8570c4" opacity="0.8"/>
<ellipse cx="211.4" cy="860.1" rx="1.655020899333955" ry="1.655020899333955" fill="#8570c4" opacity="0.8"/>
<ellipse cx="216.1" cy="849.8" rx="2.281919900273505" ry="2.281919900273505" fill="#8570c4" opacity="0.8"/>
<ellipse cx="211.5" cy="837.6" rx="2.0577355383221216" ry="2.0577355383221216" fill="#8570c4" opacity="0.8"/>
<ellipse cx="207.6" cy="837.2" rx="2.31275218397585" ry="2.31275218397585" fill="#8570c4" opacity="0.8"/>
<ellipse cx="256.8" cy="851.4" rx="1.7122777497164943" ry="1.7122777497164943" fill="#8570c4" opacity="0.8"/>
<ellipse cx="276.1" cy="858.9" rx="2.3702168109032025" ry="2.3702168109032025" fill="#8570c4" opacity="0.8"/>
<ellipse cx="238.4" cy="860.8" rx="1.8551235922372686" ry="1.8551235922372686" fill="#8570c4" opacity="0.8"/>
<ellipse cx="244.1" cy="861.2" rx="2.320156704999503" ry="2.320156704999503" fill="#8570c4" opacity="0.8"/>
<ellipse cx="260.9" cy="859.0" rx="2.234613340874787" ry="2.234613340874787" fill="#8570c4" opacity="0.8"/>
<ellipse cx="276.5" cy="836.5" rx="2.1481167642669585" ry="2.1481167642669585" fill="#8570c4" opacity="0.8"/>
<ellipse cx="232.7" cy="864.6" rx="2.290778139233146" ry="2.290778139233146" fill="#8570c4" opacity="0.8"/>
<ellipse cx="246.4" cy="854.0" rx="1.9058668218802" ry="1.9058668218802" fill="#8570c4" opacity="0.8"/>
<ellipse cx="247.3" cy="853.0" rx="1.6641616230645684" ry="1.6641616230645684" fill="#8570c4" opacity="0.8"/>
<ellipse cx="273.4" cy="860.6" rx="1.9107490654841153" ry="1.9107490654841153" fill="#8570c4" opacity="0.8"/>
<ellipse cx="260.7" cy="851.2" rx="1.9524179963029755" ry="1.9524179963029755" fill="#8570c4" opacity="0.8"/>
<ellipse cx="248.9" cy="844.8" rx="1.784177314981197" ry="1.784177314981197" fill="#8570c4" opacity="0.8"/>
<ellipse cx="257.5" cy="845.8" rx="2.0916026095159745" ry="2.0916026095159745" fill="#8570c4" opacity="0.8"/>
<ellipse cx="254.1" cy="842.3" rx="2.3133815362541896" ry="2.3133815362541896" fill="#8570c4" opacity="0.8"/>
<ellipse cx="224.8" cy="856.6" rx="1.758804623092253" ry="1.758804623092253" fill="#8570c4" opacity="0.8"/>
<ellipse cx="233.9" cy="865.6" rx="2.331376959087204" ry="2.331376959087204" fill="#8570c4" opacity="0.8"/>
<ellipse cx="273.5" cy="838.6" rx="2.066485750203153" ry="2.066485750203153" fill="#8570c4" opacity="0.8"/>
<ellipse cx="223.9" cy="822.7" rx="1.9971736332818575" ry="1.9971736332818575" fill="#8570c4" opacity="0.8"/>
<ellipse cx="269.7" cy="868.3" rx="2.1689742092140856" ry="2.1689742092140856" fill="#8570c4" opacity="0.8"/>
<ellipse cx="210.9" cy="842.8" rx="1.8201302583559267" ry="1.8201302583559267" fill="#8570c4" opacity="0.8"/>
<ellipse cx="214.8" cy="840.5" rx="2.100586846589895" ry="2.100586846589895" fill="#8570c4" opacity="0.8"/>
<ellipse cx="239.5" cy="834.2" rx="2.2712947299593806" ry="2.2712947299593806" fill="#8570c4" opacity="0.8"/>
<ellipse cx="282.4" cy="843.0" rx="1.659743373565241" ry="1.659743373565241" fill="#8570c4" opacity="0.8"/>
<ellipse cx="246.2" cy="833.8" rx="2.23321081736111" ry="2.23321081736111" fill="#8570c4" opacity="0.8"/>
<ellipse cx="251.4" cy="842.6" rx="2.103971389146993" ry="2.103971389146993" fill="#8570c4" opacity="0.8"/>
<ellipse cx="253.6" cy="865.7" rx="2.3667685215352083" ry="2.3667685215352083" fill="#8570c4" opacity="0.8"/>
<ellipse cx="237.8" cy="825.4" rx="1.6086133346262632" ry="1.6086133346262632" fill="#8570c4" opacity="0.8"/>
<ellipse cx="237.6" cy="859.7" rx="1.7432790471700228" ry="1.7432790471700228" fill="#8570c4" opacity="0.8"/>
<ellipse cx="220.0" cy="836.1" rx="2.157849257867448" ry="2.157849257867448" fill="#8570c4" opacity="0.8"/>
<ellipse cx="241.8" cy="853.3" rx="2.2049654850911637" ry="2.2049654850911637" fill="#8570c4" opacity="0.8"/>
<ellipse cx="230.6" cy="864.7" rx="2.3249895884032417" ry="2.3249895884032417" fill="#8570c4" opacity="0.8"/>
<ellipse cx="235.9" cy="854.0" rx="2.3279722869797146" ry="2.3279722869797146" fill="#8570c4" opacity="0.8"/>
<ellipse cx="229.2" cy="850.4" rx="2.3034566611209533" ry="2.3034566611209533" fill="#8570c4" opacity="0.8"/>
<ellipse cx="236.8" cy="855.7" rx="1.7639154916940012" ry="1.7639154916940012" fill="#8570c4" opacity="0.8"/>
<ellipse cx="259.5" cy="866.4" rx="2.113293045307579" ry="2.113293045307579" fill="#8570c4" opacity="0.8"/>
<ellipse cx="282.0" cy="848.4" rx="2.232629704071699" ry="2.232629704071699" fill="#8570c4" opacity="0.8"/>
<ellipse cx="224.2" cy="872.2" rx="2.284626770112801" ry="2.284626770112801" fill="#8570c4" opacity="0.8"/>
<ellipse cx="226.7" cy="819.3" rx="1.9527209540727979" ry="1.9527209540727979" fill="#8570c4" opacity="0.8"/>
<ellipse cx="244.4" cy="863.2" rx="1.9899579937443619" ry="1.9899579937443619" fill="#8570c4" opacity="0.8"/>
<ellipse cx="211.2" cy="835.4" rx="2.2303247327566575" ry="2.2303247327566575" fill="#8570c4" opacity="0.8"/>
<ellipse cx="208.4" cy="823.5" rx="2.013219934109254" ry="2.013219934109254" fill="#8570c4" opacity="0.8"/>
<ellipse cx="259.7" cy="867.8" rx="2.151497235537548" ry="2.151497235537548" fill="#8570c4" opacity="0.8"/>
<ellipse cx="279.2" cy="845.5" rx="2.359323499733586" ry="2.359323499733586" fill="#8570c4" opacity="0.8"/>
<ellipse cx="203.6" cy="828.2" rx="2.0213307235167917" ry="2.0213307235167917" fill="#8570c4" opacity="0.8"/>
<ellipse cx="221.5" cy="860.6" rx="2.111096913602056" ry="2.111096913602056" fill="#8570c4" opacity="0.8"/>
<ellipse cx="242.0" cy="868.0" rx="2.0479768708736503" ry="2.0479768708736503" fill="#8570c4" opacity="0.8"/>
<ellipse cx="223.4" cy="838.4" rx="2.2762084535960545" ry="2.2762084535960545" fill="#8570c4" opacity="0.8"/>
<ellipse cx="242.1" cy="850.7" rx="1.7607737804119798" ry="1.7607737804119798" fill="#8570c4" opacity="0.8"/>
<ellipse cx="243.2" cy="846.2" rx="2.08418219910282" ry="2.08418219910282" fill="#8570c4" opacity="0.8"/>
<ellipse cx="241.4" cy="839.6" rx="2.240854853328476" ry="2.240854853328476" fill="#8570c4" opacity="0.8"/>
<ellipse cx="245.5" cy="845.4" rx="2.1527894089625548" ry="2.1527894089625548" fill="#8570c4" opacity="0.8"/>
<ellipse cx="201.8" cy="848.5" rx="1.931019269947904" ry="1.931019269947904" fill="#8570c4" opacity="0.8"/>
<ellipse cx="219.7" cy="844.3" rx="1.7015740712862064" ry="1.7015740712862064" fill="#8570c4" opacity="0.8"/>
<ellipse cx="234.2" cy="866.2" rx="2.3204443747998367" ry="2.3204443747998367" fill="#8570c4" opacity="0.8"/>
<ellipse cx="237.9" cy="834.3" rx="1.7531613732548907" ry="1.7531613732548907" fill="#8570c4" opacity="0.8"/>
<ellipse cx="250.4" cy="873.2" rx="1.7035691601163547" ry="1.7035691601163547" fill="#8570c4" opacity="0.8"/>
<ellipse cx="213.1" cy="828.5" rx="2.149627228284365" ry="2.149627228284365" fill="#8570c4" opacity="0.8"/>
<ellipse cx="224.3" cy="836.7" rx="2.095813068740503" ry="2.095813068740503" fill="#8570c4" opacity="0.8"/>
<ellipse cx="205.2" cy="860.8" rx="1.698226677488796" ry="1.698226677488796" fill="#8570c4" opacity="0.8"/>
<ellipse cx="240.9" cy="830.0" rx="1.7581830781779741" ry="1.7581830781779741" fill="#8570c4" opacity="0.8"/>
<ellipse cx="242.7" cy="842.0" rx="1.900588957268039" ry="1.900588957268039" fill="#8570c4" opacity="0.8"/>
<ellipse cx="232.4" cy="847.9" rx="1.72778280102124" ry="1.72778280102124" fill="#8570c4" opacity="0.8"/>
<ellipse cx="214.0" cy="854.4" rx="2.110773731579445" ry="2.110773731579445" fill="#8570c4" opacity="0.8"/>
<ellipse cx="242.6" cy="868.5" rx="2.0893689130940714" ry="2.0893689130940714" fill="#8570c4" opacity="0.8"/>
<ellipse cx="261.2" cy="865.9" rx="2.322142023927778" ry="2.322142023927778" fill="#8570c4" opacity="0.8"/>
<ellipse cx="223.8" cy="834.2" rx="2.338213576046736" ry="2.338213576046736" fill="#8570c4" opacity="0.8"/>
<ellipse cx="217.1" cy="860.5" rx="1.8075980090373691" ry="1.8075980090373691" fill="#8570c4" opacity="0.8"/>
<ellipse cx="233.1" cy="864.6" rx="1.7008026194610943" ry="1.7008026194610943" fill="#8570c4" opacity="0.8"/>
<ellipse cx="231.4" cy="857.9" rx="1.6142069405082276" ry="1.6142069405082276" fill="#8570c4" opacity="0.8"/>
<ellipse cx="213.7" cy="857.7" rx="2.329098378544891" ry="2.329098378544891" fill="#8570c4" opacity="0.8"/>
<ellipse cx="240.5" cy="862.5" rx="2.0022283553992906" ry="2.0022283553992906" fill="#8570c4" opacity="0.8"/>
<ellipse cx="199.3" cy="849.3" rx="2.01185945811928" ry="2.01185945811928" fill="#8570c4" opacity="0.8"/>
<ellipse cx="212.2" cy="827.1" rx="2.2721714327217772" ry="2.2721714327217772" fill="#8570c4" opacity="0.8"/>
<ellipse cx="279.7" cy="843.6" rx="2.211776382307493" ry="2.211776382307493" fill="#8570c4" opacity="0.8"/>
<ellipse cx="224.8" cy="843.9" rx="2.012229701009811" ry="2.012229701009811" fill="#8570c4" opacity="0.8"/>
<ellipse cx="233.8" cy="852.5" rx="1.610596803629436" ry="1.610596803629436" fill="#8570c4" opacity="0.8"/>
<ellipse cx="257.7" cy="868.0" rx="1.7450153494355432" ry="1.7450153494355432" fill="#8570c4" opacity="0.8"/>
<ellipse cx="235.9" cy="861.3" rx="1.924241673480645" ry="1.924241673480645" fill="#8570c4" opacity="0.8"/>
<ellipse cx="213.2" cy="824.6" rx="2.010048638536627" ry="2.010048638536627" fill="#8570c4" opacity="0.8"/>
<ellipse cx="266.6" cy="859.1" rx="2.288585423879271" ry="2.288585423879271" fill="#8570c4" opacity="0.8"/>
<ellipse cx="251.4" cy="839.9" rx="2.0796841155943144" ry="2.0796841155943144" fill="#8570c4" opacity="0.8"/>
<ellipse cx="276.2" cy="861.6" rx="2.2223903844358737" ry="2.2223903844358737" fill="#8570c4" opacity="0.8"/>
<ellipse cx="267.7" cy="840.0" rx="2.317236055910055" ry="2.317236055910055" fill="#8570c4" opacity="0.8"/>
<ellipse cx="273.4" cy="858.5" rx="2.213815840671323" ry="2.213815840671323" fill="#8570c4" opacity="0.8"/>
<ellipse cx="263.3" cy="840.0" rx="2.178107483296498" ry="2.178107483296498" fill="#8570c4" opacity="0.8"/>
<ellipse cx="202.2" cy="835.9" rx="1.9750723129562329" ry="1.9750723129562329" fill="#8570c4" opacity="0.8"/>
<ellipse cx="252.2" cy="853.9" rx="1.7856857554493877" ry="1.7856857554493877" fill="#8570c4" opacity="0.8"/>
<ellipse cx="279.1" cy="856.6" rx="1.8702524913313854" ry="1.8702524913313854" fill="#8570c4" opacity="0.8"/>
<ellipse cx="254.1" cy="850.5" rx="2.0264637415220377" ry="2.0264637415220377" fill="#8570c4" opacity="0.8"/>
<ellipse cx="252.5" cy="858.9" rx="2.2093917631827265" ry="2.2093917631827265" fill="#8570c4" opacity="0.8"/>
<ellipse cx="250.2" cy="861.3" rx="1.8053067949035555" ry="1.8053067949035555" fill="#8570c4" opacity="0.8"/>
<ellipse cx="213.2" cy="838.0" rx="1.678759272447572" ry="1.678759272447572" fill="#8570c4" opacity="0.8"/>
<ellipse cx="218.1" cy="872.0" rx="2.0400461527138205" ry="2.0400461527138205" fill="#8570c4" opacity="0.8"/>
<ellipse cx="240.7" cy="875.9" rx="2.054382806100755" ry="2.054382806100755" fill="#8570c4" opacity="0.8"/>
<ellipse cx="248.6" cy="862.6" rx="1.6360908948565902" ry="1.6360908948565902" fill="#8570c4" opacity="0.8"/>
<ellipse cx="237.5" cy="824.8" rx="1.996416720998011" ry="1.996416720998011" fill="#8570c4" opacity="0.8"/>
<ellipse cx="279.2" cy="840.9" rx="2.0214065933142167" ry="2.0214065933142167" fill="#8570c4" opacity="0.8"/>
<ellipse cx="248.6" cy="837.4" rx="1.8286003320410409" ry="1.8286003320410409" fill="#8570c4" opacity="0.8"/>
<ellipse cx="253.6" cy="849.9" rx="1.826822779557662" ry="1.826822779557662" fill="#8570c4" opacity="0.8"/>
<ellipse cx="262.4" cy="839.0" rx="2.3180336911388877" ry="2.3180336911388877" fill="#8570c4" opacity="0.8"/>
<ellipse cx="233.8" cy="844.6" rx="2.3785344586104102" ry="2.3785344586104102" fill="#8570c4" opacity="0.8"/>
<ellipse cx="217.4" cy="847.5" rx="2.349816762269547" ry="2.349816762269547" fill="#8570c4" opacity="0.8"/>
<ellipse cx="259.6" cy="844.0" rx="2.3830566344258353" ry="2.3830566344258353" fill="#8570c4" opacity="0.8"/>
<ellipse cx="267.9" cy="852.6" rx="1.6920746091032013" ry="1.6920746091032013" fill="#8570c4" opacity="0.8"/>
<ellipse cx="250.9" cy="843.2" rx="1.7629255524941034" ry="1.7629255524941034" fill="#8570c4" opacity="0.8"/>
<ellipse cx="200.6" cy="847.8" rx="1.6994607231813792" ry="1.6994607231813792" fill="#8570c4" opacity="0.8"/>
<ellipse cx="235.0" cy="856.7" rx="1.964442745453423" ry="1.964442745453423" fill="#8570c4" opacity="0.8"/>
<ellipse cx="219.1" cy="851.3" rx="1.9356254539729352" ry="1.9356254539729352" fill="#8570c4" opacity="0.8"/>
<ellipse cx="264.5" cy="848.0" rx="2.3981076725540964" ry="2.3981076725540964" fill="#8570c4" opacity="0.8"/>
<ellipse cx="279.8" cy="861.0" rx="1.7907288222378723" ry="1.7907288222378723" fill="#8570c4" opacity="0.8"/>
<ellipse cx="265.0" cy="854.0" rx="1.8873471157238197" ry="1.8873471157238197" fill="#8570c4" opacity="0.8"/>
<ellipse cx="219.9" cy="857.8" rx="2.0519123297872524" ry="2.0519123297872524" fill="#8570c4" opacity="0.8"/>
<ellipse cx="248.1" cy="854.5" rx="2.2026796772446398" ry="2.2026796772446398" fill="#8570c4" opacity="0.8"/>
<ellipse cx="212.7" cy="829.9" rx="2.383776686507095" ry="2.383776686507095" fill="#8570c4" opacity="0.8"/>
<ellipse cx="219.8" cy="841.2" rx="2.0986793281915497" ry="2.0986793281915497" fill="#8570c4" opacity="0.8"/>
<ellipse cx="205.0" cy="848.7" rx="1.6579942688690912" ry="1.6579942688690912" fill="#8570c4" opacity="0.8"/>
<ellipse cx="203.6" cy="857.3" rx="2.0405028893634922" ry="2.0405028893634922" fill="#8570c4" opacity="0.8"/>
<ellipse cx="251.5" cy="837.9" rx="1.98284440251648" ry="1.98284440251648" fill="#8570c4" opacity="0.8"/>
<ellipse cx="214.5" cy="836.0" rx="2.195861453612819" ry="2.195861453612819" fill="#8570c4" opacity="0.8"/>
<ellipse cx="206.5" cy="865.8" rx="2.0989859750150996" ry="2.0989859750150996" fill="#8570c4" opacity="0.8"/>
<ellipse cx="233.3" cy="830.5" rx="2.2479015776555844" ry="2.2479015776555844" fill="#8570c4" opacity="0.8"/>
<ellipse cx="228.5" cy="855.8" rx="2.3913444614211095" ry="2.3913444614211095" fill="#8570c4" opacity="0.8"/>
<ellipse cx="224.6" cy="849.1" rx="2.1968838085303126" ry="2.1968838085303126" fill="#8570c4" opacity="0.8"/>
<ellipse cx="277.0" cy="841.4" rx="1.8954084073340272" ry="1.8954084073340272" fill="#8570c4" opacity="0.8"/>
<ellipse cx="245.7" cy="845.0" rx="2.148261537930443" ry="2.148261537930443" fill="#8570c4" opacity="0.8"/>
<ellipse cx="222.3" cy="863.6" rx="1.6608634371170152" ry="1.6608634371170152" fill="#8570c4" opacity="0.8"/>
<ellipse cx="214.8" cy="856.4" rx="1.6653671425289214" ry="1.6653671425289214" fill="#8570c4" opacity="0.8"/>
<ellipse cx="222.7" cy="860.4" rx="2.1551846702572663" ry="2.1551846702572663" fill="#8570c4" opacity="0.8"/>
<ellipse cx="223.8" cy="857" rx="6" ry="5" fill="#8466c0" opacity="0.55"/>
<ellipse cx="249.6" cy="857.7" rx="5" ry="5" fill="#c98f9f" opacity="0.7"/>
<ellipse cx="262" cy="851" rx="4.5" ry="4.5" fill="#c98f9f" opacity="0.6"/>
<ellipse cx="272" cy="861" rx="4.5" ry="4.5" fill="#c98f9f" opacity="0.6"/>
</g>
<ellipse cx="405.5" cy="758.5" rx="13" ry="16" fill="#dccfe8" filter="url(#bl2)"/>
<path d="M407 744 C412 746 416 752 416 759 C416 766 411 771 405 771 C399 771 395 767 395 761 C395 754 401 748 407 744Z" fill="#7a3fb0" filter="url(#bl)"/>
</g>
<circle cx="237.7" cy="846.5" r="46.2" fill="none" stroke="#1a1a1a" stroke-width="1.6"/>
<path d="M356.2 951.5L231 862.5" stroke="#111" stroke-width="1.5"/>
<path d="M227.6 859.5L239.6 862.4L234.4 869.4Z" fill="#111"/>
<text x="58.8" y="742.3" font-size="25" font-weight="bold">C</text>
</svg></body></html>
